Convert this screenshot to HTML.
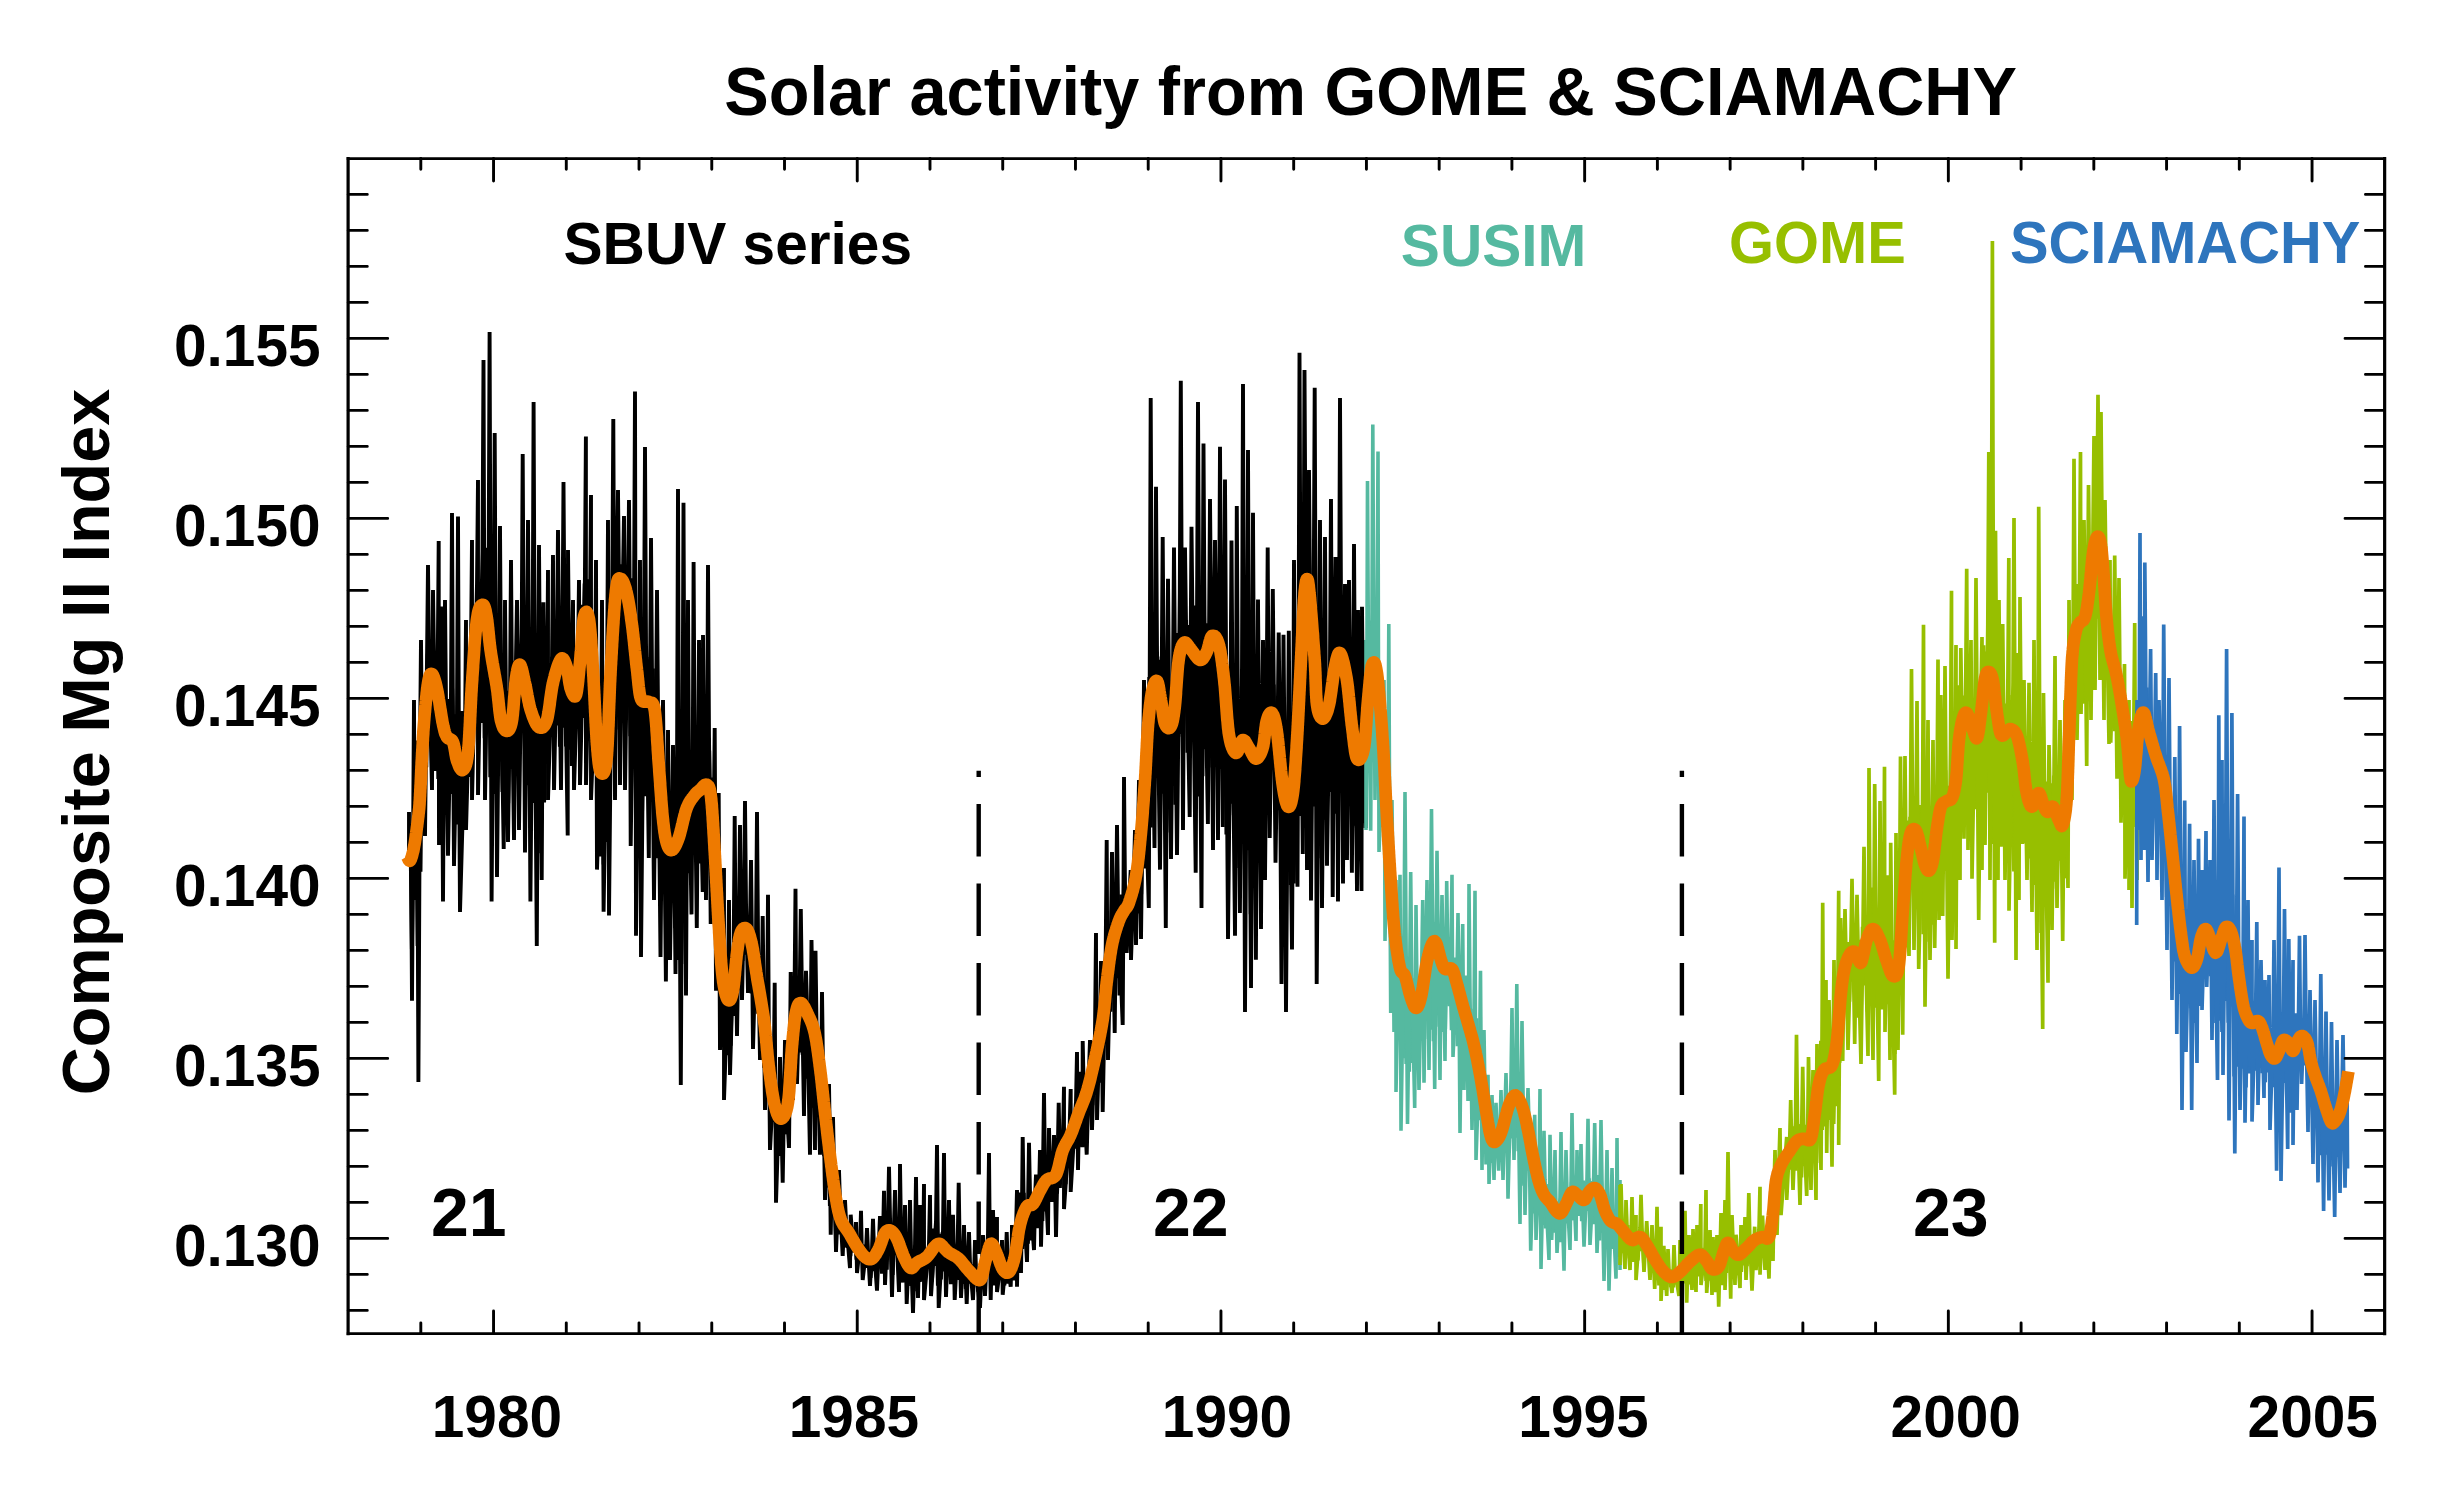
<!DOCTYPE html>
<html lang="en"><head><meta charset="utf-8"><title>Solar activity from GOME &amp; SCIAMACHY</title>
<style>
html,body{margin:0;padding:0;background:#fff;}
body{width:2450px;height:1500px;overflow:hidden;}
svg{display:block;}
text{font-family:"Liberation Sans",sans-serif;font-weight:bold;}
.tk{font-size:58.6px;fill:#000;}
.lb{font-size:58.6px;}
.cy{font-size:68px;fill:#000;}
</style></head><body>
<svg width="2450" height="1500" viewBox="0 0 2450 1500">
<rect x="0" y="0" width="2450" height="1500" fill="#fff"/>
<polyline fill="none" stroke="#000000" stroke-width="3.9" stroke-linejoin="bevel" points="410.5,838.1 411.9,949.3 413.4,827.4 414.9,864.2 416.3,805.9 417.6,946.0 419.1,783.8 420.5,871.7 422.1,720.0 423.5,831.1 424.9,685.3 426.3,767.4 427.7,653.7 429.4,723.6 430.7,659.1 432.0,719.9 433.7,651.8 435.0,723.4 436.6,650.7 438.3,778.9 439.9,677.5 441.4,820.2 442.7,689.6 444.3,786.9 445.9,717.0 447.7,811.0 449.1,699.1 450.9,794.0 452.2,688.5 453.9,789.7 455.6,714.4 457.2,824.4 458.9,715.0 460.6,860.5 461.9,711.1 463.6,801.6 465.1,740.7 466.4,780.7 467.8,710.5 469.1,776.9 470.8,680.7 472.4,743.4 474.0,631.7 475.8,709.4 477.1,604.9 478.5,677.8 480.2,591.4 481.9,722.9 483.4,584.5 484.7,738.2 486.2,547.8 487.5,691.9 488.9,588.5 490.3,777.3 491.8,600.3 493.2,772.0 494.6,625.3 496.0,794.1 497.8,663.5 499.3,761.4 501.0,685.1 502.5,791.9 503.8,686.8 505.1,772.9 506.6,690.8 508.2,803.3 509.6,693.9 511.2,769.0 512.5,693.2 513.7,743.9 515.1,660.7 516.6,771.2 518.2,652.0 519.9,738.7 521.3,643.7 522.5,726.0 523.9,633.0 525.3,768.1 526.7,644.9 528.0,785.2 529.7,652.6 531.4,771.7 532.8,678.3 534.5,803.0 536.2,673.1 537.8,853.2 539.5,676.8 541.0,819.1 542.7,680.8 544.1,802.5 545.8,693.5 547.3,761.1 549.0,688.8 550.7,731.8 552.1,656.8 553.7,727.2 555.1,649.7 556.7,725.5 558.2,643.1 559.9,746.8 561.4,638.0 562.9,727.6 564.4,638.8 566.0,746.5 567.5,633.8 569.0,738.3 570.2,676.8 571.8,766.0 573.4,680.2 574.7,739.5 576.0,684.8 577.5,720.2 579.0,646.0 580.5,714.6 582.0,604.8 583.4,718.1 584.7,583.4 586.0,671.1 587.3,579.2 588.7,721.8 590.1,593.6 591.8,747.6 593.2,659.1 594.6,758.4 595.9,684.6 597.6,828.3 599.3,723.7 600.8,856.6 602.2,726.7 603.6,864.6 605.2,700.8 606.9,841.9 608.4,697.3 609.7,761.2 611.3,635.6 612.5,752.7 614.1,600.1 615.5,729.5 617.1,559.4 618.5,650.0 620.0,564.2 621.6,647.2 623.1,565.1 624.6,690.0 626.0,577.7 627.3,667.5 629.1,591.7 630.4,736.2 631.7,578.3 633.1,743.8 634.5,625.1 636.1,809.7 637.7,618.7 639.0,848.1 640.4,655.2 642.1,811.8 643.8,662.4 645.1,796.2 646.7,657.0 648.1,758.1 649.7,659.3 651.3,772.7 652.9,668.6 654.3,790.8 655.7,693.7 657.5,858.3 658.7,743.2 660.3,898.9 661.8,771.8 663.2,880.1 664.6,816.8 666.2,917.2 667.8,817.3 669.4,883.1 670.9,826.6 672.3,895.7 673.9,831.9 675.2,928.2 676.9,791.1 678.3,960.1 679.9,773.8 681.3,963.9 682.8,778.5 684.6,921.4 686.0,750.8 687.3,873.1 688.8,786.2 690.3,845.6 691.9,752.4 693.6,841.1 694.9,749.8 696.4,850.3 697.7,760.1 699.5,863.5 700.8,755.0 702.4,831.7 703.7,746.9 705.0,844.4 706.2,732.1 707.6,851.1 709.2,750.5 710.8,842.4 712.1,777.5 713.4,875.9 714.9,824.2 716.2,927.4 717.4,869.2 718.8,976.3 720.2,932.4 721.9,1005.2 723.2,952.7 724.4,1032.6 725.9,973.7 727.6,1055.2 729.1,977.7 730.7,1045.6 732.1,969.2 733.7,1016.0 735.2,934.2 736.7,984.6 738.1,932.2 739.6,990.1 741.2,908.8 742.5,961.0 744.2,902.6 745.8,954.6 747.1,920.1 748.5,963.1 750.0,925.6 751.6,993.4 753.2,942.9 755.0,1008.1 756.4,936.0 758.1,1013.8 759.6,963.7 761.0,1027.0 762.4,997.4 764.1,1067.7 765.5,996.2 766.9,1095.6 768.5,1047.0 770.2,1098.7 771.9,1063.8 773.4,1121.9 774.9,1072.6 776.6,1164.5 778.1,1095.8 779.4,1155.9 781.1,1100.6 782.4,1153.9 783.6,1105.4 785.2,1134.3 786.7,1080.8 788.4,1132.1 790.0,1049.6 791.4,1085.8 792.8,1009.3 794.4,1046.2 795.8,985.7 797.1,1056.5 798.4,981.5 799.8,1052.4 801.1,988.2 802.6,1054.8 804.3,997.8 805.8,1078.8 807.4,1000.7 808.6,1056.0 810.3,1005.8 811.8,1107.6 813.5,1018.8 815.0,1085.2 816.4,1033.2 817.9,1103.2 819.4,1045.3 821.1,1108.0 822.4,1078.4 824.1,1156.1 825.7,1099.4 827.0,1187.5 828.6,1136.7 829.9,1206.0 831.5,1154.9 832.9,1207.7 834.5,1173.2 835.9,1234.7 837.5,1200.3 839.2,1234.3 840.7,1213.7 842.0,1235.2 843.3,1218.0 845.0,1247.4 846.4,1223.5 847.7,1248.0 849.1,1228.2 850.4,1256.2 851.8,1231.8 853.5,1251.8 855.0,1237.9 856.5,1259.6 857.9,1239.1 859.2,1262.0 860.5,1242.3 862.1,1261.8 863.8,1244.7 865.2,1267.1 866.4,1252.3 868.0,1267.9 869.3,1250.0 870.6,1277.9 872.2,1252.1 873.9,1271.2 875.5,1248.5 877.0,1273.6 878.6,1243.1 880.3,1263.9 882.0,1231.7 883.7,1269.5 885.4,1220.3 886.8,1269.6 888.1,1215.1 889.5,1251.7 891.1,1226.2 892.6,1275.0 894.4,1228.6 895.8,1255.2 897.2,1223.4 898.6,1260.9 900.3,1238.2 901.8,1282.1 903.1,1244.9 904.7,1272.6 906.3,1246.3 907.7,1280.8 909.3,1246.7 911.1,1285.8 912.4,1252.0 913.8,1291.2 915.4,1245.0 916.8,1284.9 918.1,1251.0 919.8,1282.0 921.3,1254.4 922.7,1281.1 924.0,1249.0 925.6,1273.7 927.3,1249.8 928.9,1268.9 930.6,1235.0 932.0,1281.5 933.6,1228.5 935.0,1265.9 936.5,1225.2 937.9,1285.6 939.4,1233.8 940.9,1279.5 942.6,1232.1 943.9,1271.3 945.6,1234.3 947.2,1267.4 948.5,1237.9 950.2,1275.5 951.6,1248.3 953.2,1274.7 954.8,1245.1 956.5,1279.7 957.9,1246.7 959.3,1280.0 961.0,1249.1 962.6,1283.9 964.1,1256.8 965.8,1288.9 967.3,1262.6 968.7,1283.7 970.2,1262.4 971.7,1282.4 973.3,1264.5 974.9,1284.9 976.6,1268.9 978.1,1291.6 979.4,1270.1 981.1,1285.1 982.7,1262.0 984.4,1280.0 986.0,1246.0 987.6,1268.4 988.8,1241.0 990.2,1266.1 991.7,1235.5 993.1,1264.4 994.3,1244.5 995.7,1277.0 997.2,1244.7 998.7,1272.6 1000.2,1257.6 1001.7,1278.0 1003.1,1260.0 1004.4,1285.3 1006.0,1265.6 1007.3,1283.6 1008.6,1266.8 1010.1,1274.9 1011.6,1260.3 1013.3,1273.7 1014.9,1247.9 1016.5,1271.9 1018.0,1231.2 1019.4,1255.5 1020.9,1213.0 1022.5,1249.0 1023.7,1192.7 1025.0,1245.6 1026.3,1199.8 1027.9,1243.8 1029.2,1196.8 1030.6,1240.4 1032.1,1196.4 1033.6,1225.8 1035.3,1192.9 1036.6,1222.7 1038.0,1188.4 1039.5,1218.0 1040.8,1179.8 1042.4,1221.2 1043.8,1169.1 1045.5,1211.5 1047.1,1170.3 1048.8,1199.8 1050.1,1169.6 1051.7,1198.9 1053.0,1164.1 1054.5,1195.1 1055.8,1160.2 1057.0,1193.6 1058.5,1159.7 1059.9,1187.9 1061.4,1144.3 1062.7,1170.6 1064.2,1130.7 1065.6,1184.1 1067.1,1135.5 1068.6,1156.5 1070.3,1124.5 1071.6,1155.3 1073.1,1113.1 1074.4,1148.8 1075.9,1102.9 1077.5,1145.6 1079.2,1097.1 1080.5,1128.3 1082.0,1086.1 1083.5,1135.6 1085.1,1079.6 1086.8,1116.9 1088.1,1079.6 1089.4,1101.3 1091.0,1065.6 1092.4,1105.4 1094.2,1040.8 1095.5,1081.6 1096.9,1037.6 1098.2,1070.1 1099.9,1026.6 1101.6,1082.8 1103.3,1003.0 1104.7,1040.0 1106.2,967.4 1107.6,1026.7 1109.1,954.8 1110.6,1011.7 1112.1,921.8 1113.6,997.6 1114.9,914.5 1116.4,978.3 1117.9,912.9 1119.5,995.5 1121.2,894.5 1122.8,963.1 1124.1,871.9 1125.6,936.6 1127.2,891.3 1128.8,933.5 1130.2,887.8 1132.0,918.5 1133.5,873.4 1134.9,912.0 1136.6,857.4 1138.3,913.4 1139.6,829.3 1141.2,894.3 1142.7,790.7 1144.5,868.4 1146.2,732.4 1147.7,810.0 1149.3,677.1 1150.9,827.6 1152.6,613.4 1154.3,753.5 1155.6,630.8 1157.3,738.4 1158.6,659.7 1160.2,775.8 1161.6,656.5 1163.0,793.8 1164.6,697.2 1166.4,832.5 1168.0,713.3 1169.4,805.9 1171.1,699.9 1172.5,786.0 1174.0,692.9 1175.3,804.7 1177.1,633.0 1178.4,736.8 1180.1,618.5 1181.6,734.0 1183.1,629.6 1184.6,711.1 1186.1,619.9 1187.4,752.8 1189.1,625.1 1190.6,741.8 1192.3,619.2 1193.6,714.4 1195.0,605.4 1196.3,795.6 1198.0,627.4 1199.4,796.6 1201.1,589.6 1202.5,776.2 1203.9,608.1 1205.4,749.2 1206.9,623.3 1208.6,767.6 1210.1,623.9 1211.6,749.9 1213.2,621.9 1214.6,754.0 1216.4,609.1 1217.7,737.1 1219.0,618.8 1220.5,769.1 1221.9,616.9 1223.4,778.1 1225.1,661.8 1226.4,834.5 1227.7,666.7 1229.2,815.2 1230.9,717.4 1232.6,803.8 1234.3,721.5 1235.7,868.0 1237.3,686.3 1238.7,824.2 1240.3,712.7 1241.9,810.0 1243.2,691.1 1244.9,862.9 1246.2,653.7 1247.7,850.3 1249.3,679.3 1250.7,914.3 1252.2,679.8 1253.8,851.5 1255.4,713.6 1257.1,859.1 1258.8,723.0 1260.3,846.7 1262.0,736.5 1263.6,816.5 1265.4,706.3 1266.6,786.5 1268.0,699.8 1269.4,771.5 1270.8,693.0 1272.3,767.3 1273.6,684.6 1275.1,766.4 1276.5,704.0 1278.2,810.3 1279.8,730.4 1281.3,863.7 1282.8,747.6 1284.4,907.5 1286.1,780.9 1287.8,863.1 1289.2,760.5 1290.6,885.0 1292.1,753.5 1293.8,883.4 1295.2,729.8 1296.5,835.5 1297.9,648.7 1299.5,816.1 1301.1,607.3 1302.7,703.8 1304.1,546.7 1305.6,774.1 1307.2,560.5 1308.7,685.1 1310.1,580.1 1311.4,800.9 1312.8,598.5 1314.3,806.5 1315.9,614.5 1317.5,858.2 1319.0,672.4 1320.7,821.2 1322.1,694.1 1323.6,819.7 1325.0,667.6 1326.8,795.7 1328.2,674.5 1329.7,792.1 1331.1,647.6 1332.8,770.1 1334.5,657.7 1336.0,813.7 1337.3,621.0 1338.9,735.4 1340.5,608.0 1341.9,791.3 1343.6,651.3 1344.8,809.9 1346.3,650.9 1347.9,784.7 1349.5,667.0 1350.8,791.7 1352.4,699.9 1353.7,825.8 1355.3,703.7 1356.7,827.6 1358.2,725.8 1359.5,839.2 1360.8,713.2 1362.1,823.0 1363.4,728.7"/>
<polyline fill="none" stroke="#000000" stroke-width="3.9" stroke-linejoin="miter" stroke-miterlimit="3" points="409.0,812.0 409.0,860.0 409.9,853.2 410.5,824.3 411.1,853.2 412.0,1000.8 413.2,820.3 414.0,700.0 414.4,820.3 415.0,900.0 416.0,814.4 416.7,740.6 417.4,814.4 418.4,1081.9 420.0,749.7 421.0,640.0 422.0,749.7 425.0,836.0 427.0,660.0 428.0,565.0 429.0,660.0 432.0,790.0 432.6,657.2 433.0,590.0 434.0,657.2 435.9,770.9 437.7,667.3 438.7,541.0 438.8,667.3 439.0,845.0 440.2,690.4 441.0,606.6 441.8,690.4 443.0,901.6 444.2,704.7 445.0,600.0 446.0,704.7 448.0,855.7 451.0,692.6 452.0,513.0 452.8,692.6 454.0,866.0 457.0,714.0 458.0,516.5 458.8,714.0 460.0,912.0 465.0,733.9 466.0,620.0 466.0,733.9 466.0,830.0 471.0,648.7 472.0,540.0 472.0,648.7 472.0,800.0 477.0,583.8 478.0,480.0 478.0,583.8 478.0,795.0 482.5,551.0 483.5,360.0 484.1,551.0 485.0,800.0 488.6,574.5 489.6,332.0 490.4,574.5 491.6,901.6 493.7,630.1 494.7,433.0 495.6,630.1 497.0,877.0 499.0,679.4 500.0,526.0 501.0,679.4 503.7,849.0 504.5,704.5 505.0,600.0 506.0,704.5 508.0,842.0 510.0,695.7 511.0,560.0 512.0,695.7 514.0,840.0 516.0,658.1 517.0,600.0 517.8,658.1 519.0,830.0 521.7,632.2 522.7,454.0 523.6,632.2 525.0,852.5 527.0,656.9 528.0,520.0 529.0,656.9 530.4,901.6 532.6,656.2 533.6,402.0 534.6,656.2 536.8,946.0 538.1,683.8 539.0,545.0 540.0,683.8 541.7,880.0 542.7,695.7 543.4,602.3 544.4,695.7 545.7,763.6 547.1,690.0 548.0,570.0 548.0,690.0 548.0,800.0 552.0,660.4 553.0,555.0 553.4,660.4 554.0,790.0 557.0,635.9 558.0,530.0 559.0,635.9 561.0,790.0 562.5,626.8 563.5,482.0 564.5,626.8 567.7,835.5 567.9,644.5 568.0,550.0 569.0,644.5 570.5,749.7 572.0,673.9 573.0,600.0 573.4,673.9 574.0,790.0 578.0,655.3 579.0,580.0 579.4,655.3 580.0,785.0 584.9,579.5 585.9,436.5 585.9,579.5 586.0,785.0 590.0,611.3 591.0,495.0 591.0,611.3 591.0,800.0 595.0,695.9 596.0,560.0 596.4,695.9 597.0,869.6 601.0,741.7 602.0,600.0 602.6,741.7 603.6,911.8 607.0,690.3 608.0,520.0 608.4,690.3 609.0,915.5 612.3,580.5 613.3,419.0 614.0,580.5 615.0,800.0 617.0,564.5 618.0,490.0 618.8,564.5 620.0,785.0 623.0,574.3 624.0,516.0 624.4,574.3 625.0,790.0 628.0,587.4 629.0,500.0 629.7,587.4 630.7,846.0 634.0,608.1 635.0,391.5 635.4,608.1 636.0,935.7 639.0,670.0 640.0,560.0 640.4,670.0 641.0,957.0 644.0,643.8 645.0,447.0 646.0,643.8 648.8,857.9 650.1,675.7 651.0,538.0 652.0,675.7 654.0,900.0 656.0,709.7 657.0,590.0 658.0,709.7 660.5,957.0 662.0,795.4 663.0,700.0 664.0,795.4 665.9,981.6 667.2,824.6 668.0,730.0 668.8,824.6 670.0,960.0 672.0,825.7 673.0,745.0 674.0,825.7 675.5,974.0 677.0,779.5 678.0,489.0 679.0,779.5 680.8,1085.0 682.5,752.9 683.5,502.7 684.5,752.9 686.0,995.5 687.2,771.0 688.0,600.0 689.0,771.0 691.5,914.4 692.8,751.3 693.6,562.0 694.6,751.3 696.8,928.0 698.1,764.2 699.0,640.0 700.0,764.2 702.7,892.0 702.9,759.9 703.0,635.0 704.0,759.9 706.0,900.0 707.2,735.3 708.0,565.0 709.0,735.3 710.7,924.0 713.7,824.2 714.7,728.0 715.2,824.2 716.0,990.7 717.7,900.7 718.7,793.0 719.2,900.7 720.0,1050.0 723.0,956.8 724.0,868.0 724.0,956.8 724.0,1100.0 728.0,980.8 729.0,900.0 729.4,980.8 730.0,1075.0 733.7,944.3 734.7,816.0 735.6,944.3 737.0,1036.0 739.0,911.6 740.0,825.0 740.8,911.6 742.0,1000.0 744.0,902.7 745.0,801.0 746.0,902.7 748.0,993.0 750.0,928.2 751.0,860.0 751.8,928.2 753.0,1049.0 756.0,937.5 757.0,812.0 758.0,937.5 760.0,1060.0 761.7,995.0 762.7,916.0 763.6,995.0 765.0,1110.0 767.0,1028.8 768.0,894.7 768.8,1028.8 770.0,1150.0 773.7,1077.9 774.7,982.7 775.2,1077.9 776.0,1202.7 779.0,1105.4 780.0,1057.0 781.0,1105.4 782.7,1182.7 784.1,1096.8 785.0,1040.0 786.0,1096.8 789.0,1148.0 790.0,1049.5 790.7,972.0 791.6,1049.5 793.0,1100.0 794.5,995.0 795.5,888.8 796.1,995.0 797.0,1084.0 799.8,983.9 800.8,909.0 801.8,983.9 804.0,1116.0 805.2,1004.1 806.0,970.7 807.0,1004.1 810.0,1154.7 810.9,1006.7 811.5,940.0 812.5,1006.7 815.0,1150.0 815.3,1021.7 815.5,950.7 816.5,1021.7 820.0,1154.7 821.2,1067.6 822.0,992.0 823.0,1067.6 825.0,1200.0 828.0,1131.8 829.0,1084.0 829.7,1131.8 830.7,1234.7 832.1,1165.4 833.0,1117.0 834.0,1165.4 836.0,1252.0 838.0,1202.9 839.0,1170.0 840.0,1202.9 842.7,1256.0 844.1,1220.4 845.0,1200.0 846.0,1220.4 850.0,1268.0 850.7,1214.7 853.4,1252.2 855.0,1241.0 856.0,1222.0 856.4,1241.0 857.0,1273.0 860.0,1244.8 861.0,1210.7 861.7,1244.8 862.7,1280.0 866.0,1250.6 867.0,1228.0 868.0,1250.6 870.0,1286.0 872.0,1248.6 873.0,1218.7 874.0,1248.6 877.0,1290.7 879.0,1240.4 880.0,1216.0 880.8,1240.4 882.0,1273.8 883.2,1227.7 884.0,1190.7 884.4,1227.7 885.0,1285.0 888.0,1217.2 889.0,1166.7 890.0,1217.2 892.0,1297.0 894.0,1225.3 895.0,1190.0 896.0,1225.3 899.0,1292.0 899.6,1232.0 900.0,1164.0 901.0,1232.0 902.5,1282.5 904.0,1246.0 905.0,1205.0 905.7,1246.0 906.7,1304.0 909.0,1251.4 910.0,1200.0 911.0,1251.4 913.0,1313.0 915.0,1245.5 916.0,1177.0 916.8,1245.5 918.0,1298.0 919.2,1250.1 920.0,1205.0 920.8,1250.1 922.0,1274.4 923.2,1246.0 924.0,1184.0 924.0,1246.0 924.0,1300.0 929.0,1243.3 930.0,1195.0 930.4,1243.3 931.0,1296.0 936.0,1221.7 937.0,1145.0 937.7,1221.7 938.7,1308.0 943.0,1231.0 944.0,1153.0 944.8,1231.0 946.0,1297.0 948.0,1241.2 949.0,1200.0 949.7,1241.2 950.9,1284.3 952.1,1247.8 953.0,1214.7 953.7,1247.8 954.7,1300.0 957.7,1241.5 958.7,1182.7 959.6,1241.5 961.0,1298.0 963.0,1256.6 964.0,1225.0 965.0,1256.6 966.7,1304.0 968.1,1263.6 969.0,1232.0 970.0,1263.6 973.0,1300.0 974.2,1269.5 975.0,1240.0 976.0,1269.5 980.0,1308.0 982.0,1262.1 983.0,1235.0 983.8,1262.1 985.0,1296.0 988.0,1233.6 989.0,1153.0 989.7,1233.6 990.7,1300.0 992.1,1240.8 993.0,1210.0 993.8,1240.8 995.0,1285.4 996.2,1246.9 997.0,1217.0 997.0,1246.9 997.0,1292.0 1001.0,1261.0 1002.0,1240.0 1002.3,1261.0 1002.7,1294.7 1005.7,1262.8 1006.7,1232.0 1007.7,1262.8 1010.7,1286.7 1011.5,1257.0 1012.0,1225.0 1013.0,1257.0 1014.5,1280.4 1016.0,1230.7 1017.0,1190.0 1017.0,1230.7 1017.0,1286.7 1018.2,1224.3 1019.0,1192.6 1019.8,1224.3 1021.0,1273.0 1022.0,1204.6 1022.7,1137.0 1023.7,1204.6 1027.0,1262.0 1028.2,1194.3 1029.0,1142.7 1030.0,1194.3 1034.0,1250.0 1035.2,1193.7 1036.0,1174.7 1036.8,1193.7 1038.0,1228.1 1039.2,1184.0 1040.0,1150.0 1040.4,1184.0 1041.0,1246.7 1043.0,1168.4 1044.0,1093.0 1045.0,1168.4 1048.0,1235.0 1048.6,1169.1 1049.0,1128.0 1050.0,1169.1 1051.5,1201.9 1053.0,1167.4 1054.0,1135.0 1054.8,1167.4 1056.0,1237.0 1057.7,1154.4 1058.7,1102.7 1059.7,1154.4 1061.3,1177.9 1063.0,1136.5 1064.0,1086.7 1064.0,1136.5 1064.0,1209.0 1069.7,1124.1 1070.7,1089.0 1070.7,1124.1 1070.7,1192.0 1076.0,1102.0 1077.0,1052.0 1077.4,1102.0 1078.0,1170.0 1079.3,1101.2 1080.2,1071.9 1081.1,1101.2 1082.4,1147.2 1082.6,1089.3 1082.7,1041.0 1083.7,1089.3 1086.7,1154.7 1089.0,1070.8 1090.0,1040.0 1090.8,1070.8 1092.0,1130.0 1095.0,1032.9 1096.0,933.0 1096.2,1032.9 1096.5,1077.4 1096.8,1043.0 1097.0,1014.7 1097.0,1043.0 1097.0,1120.0 1100.0,1017.6 1101.0,961.0 1101.7,1017.6 1102.7,1112.0 1105.7,949.5 1106.7,840.0 1107.2,949.5 1108.0,1060.0 1111.0,924.9 1112.0,852.0 1113.0,924.9 1114.7,1033.0 1116.1,903.1 1117.0,825.0 1118.0,903.1 1122.7,1025.0 1123.5,889.3 1124.0,777.0 1125.0,889.3 1126.7,953.0 1129.7,890.7 1130.7,870.0 1130.8,890.7 1131.0,960.0 1134.0,869.9 1135.0,830.0 1135.4,869.9 1136.0,945.0 1138.0,834.9 1139.0,780.0 1139.8,834.9 1141.0,939.0 1143.0,772.2 1144.0,680.0 1145.0,772.2 1148.8,908.0 1149.9,630.0 1150.7,398.0 1151.7,630.0 1154.5,848.0 1155.4,650.6 1156.0,486.7 1157.0,650.6 1160.0,869.6 1161.7,674.9 1162.7,537.0 1163.7,674.9 1165.8,928.0 1167.1,693.3 1168.0,578.7 1169.0,693.3 1171.0,859.0 1173.0,673.3 1174.0,547.5 1175.0,673.3 1177.0,855.0 1179.8,593.5 1180.8,380.8 1181.7,593.5 1183.0,830.0 1184.2,622.8 1185.0,547.5 1186.0,622.8 1189.7,817.0 1190.8,622.4 1191.5,526.7 1192.5,622.4 1195.7,872.8 1197.1,598.0 1198.0,402.0 1199.0,598.0 1201.5,908.0 1202.7,615.9 1203.5,443.5 1204.5,615.9 1207.9,824.0 1209.2,611.3 1210.0,499.0 1211.0,611.3 1213.0,850.0 1214.2,616.5 1215.0,540.0 1216.0,616.5 1218.0,840.0 1219.2,605.2 1220.0,446.7 1221.0,605.2 1222.8,827.0 1224.1,649.2 1225.0,479.5 1226.0,649.2 1228.0,939.0 1230.5,696.4 1231.5,540.5 1232.5,696.4 1235.0,935.7 1236.1,695.2 1236.8,506.0 1237.8,695.2 1239.9,913.0 1242.0,667.0 1243.0,384.0 1243.8,667.0 1245.0,1012.0 1247.0,684.4 1248.0,450.0 1249.0,684.4 1251.0,988.0 1252.2,708.1 1253.0,512.8 1254.0,708.1 1255.9,959.8 1257.2,723.3 1258.0,599.5 1259.0,723.3 1261.0,929.0 1262.2,723.9 1263.0,640.0 1263.8,723.9 1265.0,880.0 1266.7,690.9 1267.7,547.5 1268.5,690.9 1269.7,838.0 1271.8,689.2 1272.8,589.0 1273.8,689.2 1275.5,862.8 1277.7,720.2 1278.7,632.5 1279.7,720.2 1281.5,984.0 1282.7,752.9 1283.5,634.7 1284.5,752.9 1286.0,1012.0 1287.8,766.6 1288.8,630.7 1289.8,766.6 1292.0,949.6 1293.2,737.8 1294.0,560.0 1295.0,737.8 1297.5,886.7 1298.7,616.2 1299.5,352.8 1300.5,616.2 1302.8,854.0 1303.8,549.7 1304.5,370.0 1305.5,549.7 1307.0,870.0 1308.2,567.9 1309.0,470.0 1309.8,567.9 1311.0,900.5 1313.7,598.2 1314.7,387.7 1315.5,598.2 1316.7,984.0 1319.0,680.2 1320.0,520.0 1320.8,680.2 1322.0,908.0 1324.0,674.8 1325.0,537.0 1325.8,674.8 1327.0,865.8 1330.0,660.7 1331.0,499.0 1331.7,660.7 1332.7,897.0 1334.5,643.1 1335.5,557.0 1336.5,643.1 1338.0,901.6 1339.2,602.4 1340.0,398.0 1341.0,602.4 1343.0,883.5 1344.2,656.4 1345.0,584.0 1345.8,656.4 1347.0,860.0 1348.2,673.7 1349.0,580.0 1350.0,673.7 1351.9,872.8 1353.2,700.4 1354.0,544.0 1355.0,700.4 1357.0,891.0 1357.6,726.4 1358.0,610.0 1359.0,726.4 1361.5,891.0 1361.8,717.3 1362.0,606.7 1363.0,717.3 1365.7,828.0 1366.0,640.0"/>
<polyline fill="none" stroke="#55B9A0" stroke-width="3.6" stroke-linejoin="bevel" points="1367.5,662.8 1369.0,749.6 1370.8,620.6 1372.4,739.6 1374.1,611.0 1375.6,717.7 1377.1,607.3 1378.6,761.9 1380.2,690.8 1381.6,827.0 1383.1,730.0 1384.8,859.8 1386.3,790.6 1387.8,904.1 1389.2,796.1 1390.8,949.9 1392.5,887.7 1394.2,1006.2 1395.6,927.3 1397.4,1033.3 1398.6,936.9 1400.1,1033.5 1401.6,955.3 1403.2,1058.2 1404.7,942.4 1406.1,1063.9 1407.7,971.9 1409.3,1071.6 1411.0,966.7 1412.8,1062.9 1414.4,978.2 1415.8,1063.7 1417.4,985.0 1418.8,1062.3 1420.4,973.9 1421.8,1026.7 1423.1,970.1 1424.5,1038.9 1426.0,942.4 1427.3,1012.8 1429.0,934.6 1430.5,1029.7 1432.1,928.6 1433.4,1041.2 1434.8,922.0 1436.1,1015.2 1437.6,937.4 1439.2,1026.7 1440.7,939.2 1442.5,1032.0 1443.7,951.2 1445.3,1029.2 1446.8,953.2 1448.2,1004.3 1449.9,961.3 1451.5,1030.2 1452.8,960.4 1454.2,1034.6 1455.8,957.6 1457.4,1046.1 1458.9,975.6 1460.5,1051.4 1462.2,993.5 1464.0,1048.9 1465.2,1002.9 1466.8,1071.3 1468.1,1012.2 1469.5,1079.9 1470.9,1008.9 1472.2,1066.8 1473.6,1019.4 1475.1,1110.2 1476.7,1018.3 1478.2,1120.3 1479.8,1057.3 1481.6,1113.8 1483.3,1080.0 1484.7,1134.5 1486.2,1105.0 1487.5,1144.0 1489.2,1116.4 1490.6,1163.0 1492.0,1132.9 1493.5,1157.8 1495.2,1136.3 1496.8,1151.0 1498.6,1126.6 1500.3,1156.5 1501.6,1118.5 1503.3,1157.4 1504.9,1109.2 1506.4,1146.2 1507.8,1097.5 1509.2,1152.7 1510.6,1094.8 1512.2,1138.5 1513.8,1073.7 1515.5,1137.8 1516.9,1063.4 1518.2,1151.2 1519.8,1089.7 1521.1,1185.8 1522.9,1099.3 1524.5,1183.4 1526.0,1106.9 1527.4,1170.7 1528.7,1125.5 1530.3,1187.2 1531.7,1138.3 1533.3,1213.5 1534.9,1159.1 1536.3,1195.6 1538.0,1169.7 1539.7,1209.5 1541.1,1168.9 1542.7,1224.9 1543.9,1183.8 1545.5,1228.4 1547.2,1184.2 1548.7,1219.1 1550.0,1192.4 1551.7,1239.9 1553.2,1198.0 1554.5,1232.6 1556.1,1201.7 1557.7,1231.8 1559.1,1204.0 1560.6,1242.1 1562.4,1198.8 1563.8,1248.1 1565.2,1195.9 1566.8,1223.3 1568.2,1193.4 1569.9,1225.5 1571.6,1182.1 1573.2,1220.3 1574.7,1179.8 1576.0,1220.0 1577.6,1190.2 1579.0,1216.0 1580.4,1182.4 1581.7,1221.1 1583.2,1180.5 1584.7,1215.0 1586.3,1183.1 1587.5,1210.9 1589.0,1178.3 1590.7,1209.5 1592.0,1181.0 1593.6,1224.3 1595.0,1180.0 1596.7,1210.1 1598.3,1175.0 1599.7,1240.5 1601.3,1181.0 1602.6,1233.0 1604.1,1190.4 1605.8,1234.6 1607.3,1197.7 1608.9,1265.5 1610.6,1215.8 1612.3,1248.9 1613.8,1216.1 1615.3,1242.3 1616.6,1216.1 1618.0,1256.8"/>
<polyline fill="none" stroke="#55B9A0" stroke-width="3.6" stroke-linejoin="miter" stroke-miterlimit="3" points="1366.0,640.0 1366.0,830.0 1366.9,663.8 1367.5,481.0 1368.5,663.8 1370.7,830.7 1372.0,610.4 1372.8,424.5 1373.7,610.4 1375.0,800.0 1377.0,643.1 1378.0,451.5 1378.4,643.1 1379.0,852.0 1383.0,743.9 1384.0,680.0 1384.4,743.9 1385.0,941.0 1387.8,806.6 1388.8,624.0 1389.6,806.6 1390.7,1013.0 1391.5,877.0 1392.0,800.0 1392.8,877.0 1394.0,1031.9 1395.2,927.1 1396.0,880.0 1396.0,927.1 1396.0,1092.0 1399.0,948.0 1400.0,874.7 1400.4,948.0 1401.0,1130.7 1404.0,933.0 1405.0,792.0 1406.0,933.0 1407.5,1124.0 1409.7,969.9 1410.7,872.0 1411.7,969.9 1414.7,1108.0 1415.5,991.1 1416.0,905.0 1417.0,991.1 1419.0,1090.0 1421.7,966.8 1422.7,900.0 1423.2,966.8 1424.0,1082.7 1426.0,944.7 1427.0,880.0 1427.8,944.7 1429.0,1070.0 1430.5,920.5 1431.5,809.0 1432.5,920.5 1434.7,1089.0 1436.1,929.4 1437.0,850.7 1438.0,929.4 1440.0,1080.0 1441.2,946.9 1442.0,895.0 1443.0,946.9 1445.0,1061.0 1446.0,950.8 1446.7,881.0 1447.7,950.8 1449.3,1006.1 1451.0,946.8 1452.0,874.7 1452.4,946.8 1453.0,1057.0 1457.0,971.1 1458.0,913.0 1458.8,971.1 1460.0,1133.0 1461.7,985.8 1462.7,924.0 1463.2,985.8 1464.0,1090.0 1465.2,1008.0 1466.0,975.5 1466.8,1008.0 1468.0,1101.0 1468.6,995.9 1469.0,884.0 1470.0,995.9 1472.0,1130.0 1474.0,1016.3 1475.0,890.7 1475.4,1016.3 1476.0,1160.0 1479.5,1058.2 1480.5,970.7 1481.1,1058.2 1482.0,1170.0 1483.2,1082.1 1484.0,1030.0 1484.8,1082.1 1486.0,1164.4 1487.2,1112.9 1488.0,1074.7 1488.4,1112.9 1489.0,1184.0 1491.0,1128.4 1492.0,1095.0 1492.8,1128.4 1494.0,1180.0 1495.2,1131.3 1496.0,1102.7 1497.0,1131.3 1498.7,1170.7 1500.1,1123.9 1501.0,1090.0 1501.8,1123.9 1503.0,1180.0 1505.0,1107.9 1506.0,1073.0 1506.8,1107.9 1508.0,1198.7 1511.0,1078.6 1512.0,1008.0 1512.8,1078.6 1514.0,1160.0 1515.8,1072.5 1516.8,984.0 1517.8,1072.5 1520.0,1224.0 1521.2,1091.6 1522.0,1021.0 1523.0,1091.6 1525.0,1215.0 1527.0,1123.1 1528.0,1088.0 1529.0,1123.1 1530.7,1250.7 1533.7,1153.6 1534.7,1114.7 1535.2,1153.6 1536.0,1240.0 1539.0,1168.9 1540.0,1089.0 1540.4,1168.9 1541.0,1269.0 1543.0,1179.7 1544.0,1130.7 1545.0,1179.7 1549.0,1260.0 1549.6,1188.4 1550.0,1134.7 1551.0,1188.4 1552.5,1227.7 1554.0,1197.3 1555.0,1150.0 1555.8,1197.3 1557.0,1253.0 1560.0,1197.4 1561.0,1132.0 1562.0,1197.4 1564.0,1270.7 1565.2,1192.5 1566.0,1150.0 1567.0,1192.5 1570.0,1250.0 1571.2,1173.6 1572.0,1113.0 1573.0,1173.6 1576.0,1241.0 1576.6,1186.4 1577.0,1150.0 1577.8,1186.4 1579.0,1215.2 1580.2,1187.5 1581.0,1144.0 1582.0,1187.5 1584.0,1246.7 1587.0,1178.1 1588.0,1118.7 1588.8,1178.1 1590.0,1245.0 1593.7,1176.1 1594.7,1123.0 1595.6,1176.1 1597.0,1253.0 1600.0,1181.7 1601.0,1120.0 1602.0,1181.7 1604.0,1281.0 1606.0,1201.2 1607.0,1150.0 1607.8,1201.2 1609.0,1290.7 1611.0,1211.2 1612.0,1168.0 1613.0,1211.2 1616.0,1278.7 1616.6,1205.6 1617.0,1138.0 1617.6,1205.6 1618.5,1256.3 1619.4,1217.8 1620.0,1180.0 1620.0,1217.8 1620.0,1270.0"/>
<polyline fill="none" stroke="#97BF00" stroke-width="3.7" stroke-linejoin="bevel" points="1621.5,1220.9 1623.0,1253.1 1624.6,1226.9 1626.2,1253.4 1627.8,1225.2 1629.4,1258.5 1631.0,1233.3 1632.4,1250.2 1633.9,1234.3 1635.3,1253.2 1636.5,1232.0 1637.9,1260.4 1639.6,1231.8 1641.2,1251.2 1642.5,1231.0 1643.8,1262.9 1645.1,1235.1 1646.9,1255.3 1648.3,1242.8 1649.7,1262.0 1651.1,1247.4 1652.5,1271.2 1654.0,1249.6 1655.3,1280.0 1656.8,1252.9 1658.1,1276.9 1659.7,1258.0 1661.4,1284.1 1662.8,1260.3 1664.5,1289.9 1666.1,1267.1 1667.8,1281.9 1669.1,1270.2 1670.7,1287.0 1672.0,1269.4 1673.4,1287.3 1674.7,1270.3 1676.1,1284.3 1677.8,1267.4 1679.4,1280.2 1681.0,1266.0 1682.3,1283.3 1684.0,1256.2 1685.6,1279.4 1687.3,1253.4 1688.8,1284.5 1690.4,1254.0 1691.8,1276.3 1693.2,1252.4 1694.7,1278.5 1696.4,1248.4 1698.0,1275.3 1699.3,1250.2 1700.7,1271.2 1702.1,1247.8 1703.5,1274.6 1704.8,1249.9 1706.1,1281.0 1707.5,1248.0 1708.8,1280.6 1710.4,1260.9 1711.9,1282.8 1713.3,1262.7 1714.6,1289.3 1715.9,1262.7 1717.5,1285.4 1718.8,1261.3 1720.5,1281.7 1722.0,1248.5 1723.7,1265.5 1725.2,1240.6 1726.6,1272.9 1728.3,1223.2 1729.6,1264.3 1731.2,1237.3 1732.7,1270.0 1734.3,1246.6 1735.6,1265.1 1737.0,1248.5 1738.4,1275.1 1739.7,1248.8 1741.3,1271.8 1742.7,1246.2 1744.1,1264.8 1745.5,1238.5 1747.0,1266.2 1748.4,1232.3 1749.7,1259.5 1751.1,1236.6 1752.6,1262.7 1754.0,1235.6 1755.4,1256.1 1757.1,1233.8 1758.4,1253.2 1759.7,1225.2 1761.0,1250.1 1762.4,1229.4 1763.7,1255.3 1765.2,1232.0 1766.6,1250.3 1767.9,1232.0 1769.6,1246.5 1770.9,1220.3 1772.5,1235.2 1773.9,1194.1 1775.2,1219.7 1776.7,1173.9 1778.0,1200.3 1779.3,1159.4 1780.7,1199.8 1782.1,1154.0 1783.5,1188.6 1785.0,1152.6 1786.3,1174.3 1787.9,1148.7 1789.6,1169.7 1791.2,1143.6 1792.9,1167.7 1794.2,1126.3 1795.8,1170.8 1797.1,1126.8 1798.6,1160.0 1800.2,1124.2 1801.5,1177.5 1803.0,1126.5 1804.5,1166.2 1806.0,1124.8 1807.7,1158.0 1809.2,1121.7 1810.7,1162.6 1812.0,1123.3 1813.6,1146.6 1815.2,1098.7 1816.5,1162.9 1818.0,1076.2 1819.4,1114.4 1820.9,1040.9 1822.2,1130.0 1823.5,1048.8 1824.7,1101.9 1826.2,1050.2 1827.4,1102.6 1828.8,1059.8 1830.3,1120.0 1832.0,1040.4 1833.7,1124.0 1835.3,1038.7 1836.9,1093.5 1838.2,1007.4 1839.7,1062.9 1841.4,969.2 1843.0,1027.8 1844.7,958.0 1846.1,992.5 1847.8,942.0 1849.5,1001.9 1850.8,940.2 1852.3,981.7 1853.9,944.2 1855.5,1012.8 1856.9,944.7 1858.2,1017.8 1859.6,939.9 1860.9,1025.7 1862.6,926.8 1864.1,985.4 1865.7,919.1 1867.4,1011.7 1868.8,894.1 1870.3,1000.8 1871.6,887.6 1873.2,974.2 1874.9,905.4 1876.2,1007.7 1877.7,907.8 1879.3,980.4 1881.0,929.4 1882.6,999.4 1884.0,927.9 1885.3,986.2 1887.0,927.8 1888.7,1004.2 1890.2,940.7 1891.9,1020.5 1893.5,940.2 1894.8,1053.9 1896.1,948.1 1897.4,1031.6 1898.6,932.4 1899.9,982.9 1901.5,913.2 1902.8,963.6 1904.2,878.4 1905.8,947.4 1907.3,820.5 1908.6,887.9 1910.1,816.9 1911.8,872.7 1913.3,816.8 1914.7,907.2 1916.3,818.7 1917.8,903.6 1919.1,805.0 1920.4,913.1 1921.8,821.6 1923.2,934.3 1924.5,818.5 1925.8,941.8 1927.3,840.1 1928.5,924.5 1929.9,836.6 1931.4,924.6 1932.7,843.5 1934.5,886.6 1935.9,813.3 1937.6,866.4 1939.4,770.9 1940.9,860.4 1942.4,786.3 1943.9,851.3 1945.5,770.2 1946.8,871.1 1948.4,785.8 1950.0,863.8 1951.5,740.4 1953.2,854.8 1954.8,771.9 1956.5,870.7 1957.9,745.2 1959.5,808.7 1960.9,722.1 1962.5,760.6 1964.0,695.6 1965.4,756.4 1967.1,695.1 1968.7,793.0 1970.3,712.6 1971.6,816.2 1973.2,717.5 1974.7,809.3 1976.3,698.8 1977.9,793.8 1979.5,707.3 1980.8,794.8 1982.4,691.5 1984.0,791.6 1985.3,651.4 1986.8,792.8 1988.5,628.7 1990.2,738.4 1991.8,599.4 1993.2,844.1 1994.8,653.6 1996.3,812.4 1997.6,697.4 1999.2,800.2 2000.7,720.1 2002.2,791.9 2003.6,708.5 2004.8,809.0 2006.2,703.5 2007.8,806.7 2009.2,700.0 2010.9,842.3 2012.2,694.9 2013.9,871.6 2015.3,713.3 2016.7,835.6 2018.4,728.2 2019.8,842.7 2021.2,742.7 2022.9,789.3 2024.4,762.4 2026.1,836.1 2027.8,776.2 2029.2,858.4 2030.9,790.7 2032.5,852.4 2034.2,769.1 2035.4,884.9 2036.8,743.6 2038.4,900.0 2039.7,754.3 2041.1,933.1 2042.4,782.4 2044.1,876.3 2045.5,781.5 2046.8,883.1 2048.3,800.7 2049.7,903.8 2051.0,783.2 2052.4,888.7 2053.9,775.4 2055.5,881.7 2057.1,803.5 2058.3,860.7 2059.7,795.9 2061.2,856.3 2062.9,807.0 2064.4,878.4 2065.7,776.4 2067.3,824.3 2068.9,701.9 2070.3,761.6 2071.6,655.6 2073.3,718.1 2074.7,604.1 2076.5,704.3 2077.9,584.0 2079.2,692.5 2080.5,597.4 2081.9,653.0 2083.4,609.4 2084.8,703.6 2086.1,588.5 2087.7,662.7 2089.3,559.6 2090.8,665.2 2092.4,547.8 2093.7,619.1 2095.3,528.9 2096.7,618.7 2098.3,513.3 2099.8,585.7 2101.5,513.2 2102.9,644.8 2104.5,579.0 2106.2,661.3 2107.8,608.0 2109.1,689.0 2110.4,642.7 2111.9,693.5 2113.3,647.0 2114.6,731.2 2115.9,653.5 2117.3,727.3 2118.8,673.4 2120.5,735.6 2122.2,701.1 2123.8,767.9 2125.3,717.3 2126.9,789.2 2128.6,748.0 2130.0,851.8 2131.5,760.8 2133.0,826.9 2134.3,746.2"/>
<polyline fill="none" stroke="#97BF00" stroke-width="3.7" stroke-linejoin="miter" stroke-miterlimit="3" points="1620.0,1185.0 1620.0,1265.0 1620.6,1219.3 1621.0,1184.0 1622.0,1219.3 1625.0,1269.0 1625.6,1226.6 1626.0,1200.0 1627.0,1226.6 1630.0,1270.0 1631.2,1231.7 1632.0,1197.0 1632.8,1231.7 1634.0,1261.9 1635.2,1233.1 1636.0,1215.0 1636.0,1233.1 1636.0,1280.0 1640.0,1228.0 1641.0,1194.7 1642.0,1228.0 1644.0,1272.0 1645.7,1240.1 1646.7,1221.0 1647.7,1240.1 1650.0,1280.0 1651.2,1247.9 1652.0,1225.0 1653.0,1247.9 1654.7,1289.0 1656.1,1252.9 1657.0,1206.7 1657.8,1252.9 1659.0,1285.5 1660.2,1261.1 1661.0,1226.7 1661.0,1261.1 1661.0,1301.0 1662.8,1265.6 1663.8,1245.9 1664.8,1265.6 1666.7,1296.0 1667.5,1269.8 1668.0,1249.0 1669.0,1269.8 1672.0,1293.0 1673.2,1270.3 1674.0,1245.0 1675.0,1270.3 1679.0,1296.0 1679.6,1264.6 1680.0,1240.0 1681.0,1264.6 1682.5,1283.5 1684.0,1254.5 1685.0,1210.7 1685.7,1254.5 1686.7,1302.7 1688.1,1258.0 1689.0,1235.0 1690.0,1258.0 1692.0,1290.0 1692.6,1253.8 1693.0,1229.0 1694.0,1253.8 1696.0,1292.0 1696.6,1251.0 1697.0,1225.0 1697.8,1251.0 1698.9,1276.4 1700.0,1246.1 1700.8,1204.0 1700.9,1246.1 1701.0,1285.0 1705.0,1249.1 1706.0,1190.0 1706.3,1249.1 1706.7,1293.0 1709.0,1258.7 1710.0,1230.0 1710.8,1258.7 1712.0,1295.0 1712.6,1262.8 1713.0,1237.0 1713.8,1262.8 1715.0,1292.2 1716.2,1261.1 1717.0,1235.0 1717.7,1261.1 1718.7,1306.7 1720.1,1251.6 1721.0,1213.0 1721.8,1251.6 1723.0,1285.3 1724.2,1240.5 1725.0,1200.0 1725.0,1240.5 1725.0,1290.0 1727.0,1227.9 1728.0,1152.0 1729.0,1227.9 1730.7,1298.7 1731.5,1241.3 1732.0,1215.0 1733.0,1241.3 1735.0,1285.0 1736.0,1234.7 1740.0,1288.0 1740.6,1246.7 1741.0,1225.0 1741.8,1246.7 1743.0,1265.4 1744.2,1242.8 1745.0,1217.0 1745.4,1242.8 1746.0,1280.0 1747.8,1236.9 1748.8,1193.0 1749.8,1236.9 1752.0,1290.7 1754.7,1226.7 1756.0,1270.0 1759.0,1229.2 1760.0,1186.7 1760.0,1229.2 1760.0,1274.7 1762.5,1215.5 1765.0,1270.0 1766.7,1232.0 1769.0,1278.7 1770.2,1220.8 1771.0,1200.0 1771.8,1220.8 1773.0,1261.0 1774.2,1183.9 1775.0,1150.0 1775.8,1183.9 1777.0,1235.0 1779.0,1161.6 1780.0,1128.0 1780.4,1161.6 1781.0,1215.0 1786.7,1137.0 1786.7,1200.0 1789.7,1140.6 1790.7,1100.0 1791.6,1140.6 1793.0,1190.0 1795.5,1122.8 1796.5,1034.7 1797.5,1122.8 1800.0,1205.0 1801.7,1126.4 1802.7,1066.7 1803.7,1126.4 1806.7,1196.0 1807.8,1121.4 1808.5,1057.0 1809.5,1121.4 1811.0,1190.0 1812.2,1114.1 1813.0,1070.0 1814.0,1114.1 1816.0,1200.0 1816.6,1087.0 1817.0,1044.0 1818.0,1087.0 1821.0,1170.0 1822.0,1041.4 1822.7,902.7 1823.4,1041.4 1824.3,1126.4 1825.3,1050.7 1826.0,980.0 1826.3,1050.7 1826.7,1153.0 1828.1,1052.0 1829.0,1000.0 1830.0,1052.0 1832.0,1166.7 1833.2,1037.5 1834.0,960.0 1834.9,1037.5 1836.3,1106.3 1837.8,998.6 1838.7,890.7 1838.7,998.6 1838.7,1145.0 1839.9,980.9 1840.7,918.0 1841.5,980.9 1842.7,1061.0 1844.1,955.7 1845.0,909.0 1846.0,955.7 1848.0,1050.0 1851.0,936.5 1852.0,878.7 1853.0,936.5 1854.7,1044.0 1856.1,944.8 1857.0,894.7 1858.0,944.8 1861.0,1064.0 1863.0,926.8 1864.0,846.7 1865.0,926.8 1868.0,1056.0 1868.6,908.9 1869.0,768.0 1870.0,908.9 1873.0,1060.0 1874.0,901.6 1874.7,784.0 1875.7,901.6 1878.7,1081.0 1879.5,912.8 1880.0,801.0 1880.9,912.8 1882.2,1009.5 1883.6,919.4 1884.5,766.7 1884.7,919.4 1885.0,1032.0 1886.5,942.6 1887.5,875.2 1888.5,942.6 1890.0,1060.0 1890.4,942.9 1890.7,842.7 1891.7,942.9 1894.7,1094.7 1895.5,947.2 1896.0,833.0 1896.8,947.2 1898.0,1050.0 1899.5,905.4 1900.5,756.5 1901.4,905.4 1902.7,1034.7 1904.1,856.1 1905.0,756.0 1906.0,856.1 1909.0,956.0 1910.5,806.0 1911.5,669.0 1912.5,806.0 1914.0,950.0 1916.0,812.1 1917.0,701.0 1917.7,812.1 1918.7,969.0 1922.5,810.3 1923.5,624.8 1924.1,810.3 1925.0,1006.7 1927.0,836.7 1928.0,720.0 1928.8,836.7 1930.0,960.0 1932.0,836.4 1933.0,740.0 1933.7,836.4 1934.7,948.0 1937.0,791.1 1938.0,659.5 1938.4,791.1 1939.0,920.0 1940.1,784.9 1940.8,694.9 1941.6,784.9 1942.7,916.0 1944.1,778.0 1945.0,666.0 1946.0,778.0 1948.0,978.7 1950.5,750.5 1951.5,590.7 1951.7,750.5 1952.0,940.0 1955.0,748.0 1956.0,645.0 1956.0,748.0 1956.0,949.0 1957.2,739.8 1958.0,685.2 1958.8,739.8 1960.0,880.0 1960.5,716.4 1960.8,648.0 1961.8,716.4 1964.0,838.7 1965.7,685.3 1966.7,568.8 1967.2,685.3 1968.0,850.0 1970.0,705.3 1971.0,640.0 1971.4,705.3 1972.0,878.7 1975.0,706.4 1976.0,578.0 1977.0,706.4 1978.7,920.0 1981.0,693.1 1982.0,637.0 1982.0,693.1 1982.0,870.0 1982.9,683.5 1983.5,645.3 1984.1,683.5 1985.0,845.0 1987.8,624.5 1988.8,452.0 1989.3,624.5 1990.0,880.0 1991.4,587.6 1992.4,241.0 1993.3,587.6 1994.7,942.7 1995.2,669.9 1995.5,530.7 1996.5,669.9 1998.0,880.0 1998.6,697.9 1999.0,600.0 1999.8,697.9 2001.0,846.7 2002.0,709.6 2002.7,624.0 2003.6,709.6 2005.0,880.0 2007.8,689.5 2008.8,558.0 2008.9,689.5 2009.0,910.7 2013.0,684.0 2014.0,518.0 2014.8,684.0 2016.0,960.0 2016.9,721.7 2017.5,653.1 2018.1,721.7 2019.0,900.0 2019.6,715.4 2020.0,597.0 2021.0,715.4 2022.7,844.0 2023.5,750.5 2024.0,680.0 2025.0,750.5 2027.0,880.0 2028.2,772.3 2029.0,682.7 2030.0,772.3 2032.0,912.0 2033.2,766.8 2034.0,640.0 2035.0,766.8 2037.0,950.0 2038.0,733.8 2038.7,506.7 2039.7,733.8 2042.7,1029.0 2043.2,782.8 2043.5,693.0 2044.5,782.8 2048.0,982.7 2048.6,795.9 2049.0,745.0 2050.0,795.9 2052.0,930.0 2054.0,778.7 2055.0,656.0 2055.8,778.7 2057.0,908.0 2059.0,799.5 2060.0,720.0 2061.0,799.5 2062.7,941.0 2064.1,790.9 2065.0,700.0 2066.0,790.9 2068.0,888.0 2068.6,716.6 2069.0,600.0 2070.0,716.6 2072.0,800.0 2073.2,611.4 2074.0,458.7 2075.0,611.4 2077.0,740.0 2079.5,587.0 2080.5,452.0 2080.7,587.0 2081.0,714.0 2083.0,597.9 2084.0,520.0 2085.0,597.9 2086.7,766.0 2087.8,576.5 2088.5,485.0 2089.5,576.5 2091.0,720.0 2093.0,529.2 2094.0,436.0 2094.4,529.2 2095.0,690.0 2097.0,504.9 2098.0,394.7 2098.8,504.9 2100.0,680.0 2100.6,523.0 2101.0,412.0 2102.0,523.0 2104.0,720.0 2104.6,572.6 2105.0,500.0 2106.0,572.6 2109.0,744.0 2109.6,627.2 2110.0,560.0 2110.3,627.2 2110.7,742.7 2113.7,644.7 2114.7,555.5 2115.6,644.7 2117.0,778.7 2118.2,662.6 2119.0,578.0 2119.8,662.6 2121.0,822.7 2123.5,710.6 2124.5,664.0 2124.7,710.6 2125.0,878.7 2128.0,753.5 2129.0,700.0 2129.0,753.5 2129.0,890.0 2129.9,763.5 2130.5,721.0 2131.1,763.5 2132.0,908.0 2133.7,741.1 2134.7,623.0 2135.2,741.1 2135.8,806.5 2136.5,735.6 2137.0,700.0 2137.0,735.6 2137.0,880.0"/>
<polyline fill="none" stroke="#2E75BD" stroke-width="3.7" stroke-linejoin="bevel" points="2138.2,715.5 2139.7,830.0 2141.3,673.5 2142.6,780.1 2144.1,686.2 2145.4,785.9 2146.9,687.6 2148.6,790.2 2150.2,723.6 2151.7,781.5 2153.1,727.6 2154.7,815.9 2156.4,743.1 2158.0,807.9 2159.3,754.1 2161.0,821.3 2162.6,753.5 2163.9,836.4 2165.4,771.4 2166.7,897.0 2168.2,792.8 2169.7,884.5 2171.3,821.1 2172.7,910.4 2174.2,859.6 2175.5,961.4 2177.1,868.0 2178.6,994.0 2179.9,868.0 2181.6,990.9 2183.0,902.5 2184.7,991.9 2186.3,938.4 2187.6,1002.4 2189.1,931.7 2190.6,1008.3 2192.1,932.6 2193.4,1023.0 2194.8,943.3 2196.1,997.7 2197.6,939.3 2199.0,985.4 2200.2,931.9 2201.6,987.8 2203.3,919.1 2204.6,959.1 2205.8,915.1 2207.2,969.1 2208.7,925.7 2210.4,976.3 2211.7,922.6 2213.1,1009.0 2214.6,929.9 2216.0,1022.9 2217.4,924.1 2218.9,1020.8 2220.4,908.9 2222.0,1032.1 2223.6,888.7 2225.1,1000.9 2226.7,905.0 2228.3,1022.6 2229.6,870.0 2231.1,1006.4 2232.6,894.4 2234.1,1076.5 2235.6,931.6 2236.9,1066.6 2238.6,945.2 2240.1,1064.0 2241.7,965.0 2243.2,1068.6 2244.8,973.5 2246.0,1087.5 2247.7,1006.7 2249.4,1073.5 2251.1,998.9 2252.7,1058.0 2254.3,1010.3 2255.9,1070.6 2257.6,995.1 2258.9,1068.0 2260.5,1017.4 2262.1,1073.3 2263.6,1024.3 2265.2,1082.4 2266.5,1026.4 2268.1,1072.3 2269.7,1035.7 2271.1,1090.9 2272.3,1030.8 2273.9,1087.2 2275.3,1020.7 2276.6,1107.1 2278.0,1037.2 2279.3,1108.1 2280.7,1011.4 2282.0,1107.0 2283.5,1026.1 2284.8,1082.9 2286.2,1028.4 2287.8,1101.9 2289.4,1030.8 2290.8,1112.8 2292.2,1030.9 2293.9,1095.7 2295.2,1025.8 2296.6,1064.1 2297.9,1019.8 2299.3,1069.5 2301.0,1022.4 2302.8,1063.3 2304.2,1029.6 2305.7,1065.3 2307.1,1031.9 2308.7,1078.7 2310.0,1039.3 2311.5,1102.0 2312.9,1050.7 2314.5,1127.2 2316.2,1061.4 2317.8,1135.9 2319.2,1071.8 2320.9,1155.3 2322.5,1071.3 2323.7,1138.1 2325.2,1080.0 2326.7,1154.7 2328.5,1102.7 2329.7,1159.9 2331.4,1092.8 2333.1,1166.5 2334.5,1113.5 2336.2,1157.0 2337.9,1100.4 2339.4,1156.5 2340.7,1100.0 2342.1,1137.9 2343.8,1089.4 2345.4,1140.0"/>
<polyline fill="none" stroke="#2E75BD" stroke-width="3.7" stroke-linejoin="miter" stroke-miterlimit="3" points="2136.7,925.0 2136.9,738.4 2137.0,700.0 2137.6,738.4 2138.5,819.6 2139.4,685.4 2140.0,533.0 2140.4,685.4 2141.0,860.0 2141.9,692.0 2142.5,616.3 2143.1,692.0 2144.0,850.0 2144.5,683.8 2144.8,562.5 2145.8,683.8 2148.0,882.0 2149.6,720.6 2150.6,649.0 2151.2,720.6 2152.0,860.0 2154.7,739.2 2155.7,673.0 2156.2,739.2 2157.0,880.0 2158.2,751.0 2159.0,700.0 2160.0,751.0 2162.0,900.0 2163.0,750.3 2163.7,624.5 2164.7,750.3 2167.0,950.0 2168.2,797.7 2169.0,678.0 2170.0,797.7 2172.0,1000.0 2173.8,850.0 2174.8,757.0 2175.6,850.0 2176.8,1034.0 2178.6,880.5 2179.6,726.0 2180.6,880.5 2182.0,1110.0 2183.7,929.1 2184.7,800.5 2185.2,929.1 2186.0,1052.0 2188.6,941.1 2189.6,823.7 2190.4,941.1 2191.7,1110.0 2193.1,946.5 2194.0,860.0 2195.0,946.5 2197.0,1063.0 2197.9,924.5 2198.5,838.7 2199.2,924.5 2200.2,1005.9 2201.3,924.9 2202.0,870.0 2202.0,924.9 2202.0,1010.0 2205.0,909.1 2206.0,831.0 2206.3,909.1 2206.7,987.0 2209.0,919.5 2210.0,860.0 2210.8,919.5 2212.0,1040.0 2213.2,926.2 2214.0,800.0 2215.0,926.2 2217.5,1080.0 2218.3,902.2 2218.8,715.3 2219.4,902.2 2220.4,999.9 2221.4,901.9 2222.0,760.0 2222.4,901.9 2223.0,1075.0 2225.6,862.5 2226.6,649.0 2227.6,862.5 2229.0,1120.5 2230.9,896.4 2231.9,713.0 2232.9,896.4 2234.8,1153.6 2236.6,936.0 2237.6,794.0 2238.6,936.0 2240.0,1110.0 2243.0,972.9 2244.0,816.5 2244.4,972.9 2245.0,1122.7 2247.0,998.8 2248.0,900.0 2248.8,998.8 2250.0,1066.5 2251.2,1005.1 2252.0,940.0 2252.0,1005.1 2252.0,1121.6 2255.8,999.0 2256.8,921.9 2257.3,999.0 2258.0,1105.0 2260.0,1013.0 2261.0,960.0 2262.0,1013.0 2264.0,1098.0 2264.6,1028.0 2265.0,980.0 2265.8,1028.0 2267.0,1069.3 2268.2,1033.6 2269.0,975.0 2269.4,1033.6 2270.0,1130.0 2273.0,1031.9 2274.0,940.0 2275.0,1031.9 2276.6,1170.7 2278.0,1012.0 2279.0,867.5 2279.8,1012.0 2281.0,1181.0 2283.5,1016.1 2284.5,909.0 2285.5,1016.1 2287.7,1149.0 2288.4,1019.8 2288.8,939.0 2289.6,1019.8 2290.9,1087.2 2292.2,1031.8 2293.0,960.0 2293.0,1031.8 2293.0,1145.0 2294.2,1039.6 2295.0,1013.2 2295.8,1039.6 2297.0,1110.0 2298.5,1017.8 2299.5,935.7 2300.3,1017.8 2301.6,1084.0 2304.0,1021.1 2305.0,935.0 2306.0,1021.1 2308.0,1132.0 2309.2,1043.6 2310.0,990.0 2311.0,1043.6 2313.0,1164.0 2314.2,1058.1 2315.0,1000.0 2316.0,1058.1 2318.0,1182.4 2319.8,1065.9 2320.8,974.0 2321.8,1065.9 2323.6,1211.0 2325.0,1089.9 2326.0,1011.5 2327.0,1089.9 2329.0,1200.5 2330.5,1100.0 2331.5,1022.0 2332.5,1100.0 2334.7,1217.0 2336.1,1100.3 2337.0,1040.0 2338.0,1100.3 2340.0,1193.0 2342.0,1089.4 2343.0,1035.0 2343.8,1089.4 2345.0,1187.7 2347.0,1075.0 2347.5,1168.5"/>
<path d="M978.7 1333.6 V770.7" fill="none" stroke="#000" stroke-width="4.4" stroke-dasharray="52.5 27"/>
<path d="M1681.9 1333.6 V770.7" fill="none" stroke="#000" stroke-width="4.4" stroke-dasharray="52.5 27"/>
<polyline fill="none" stroke="#EE7A00" stroke-width="12.6" stroke-linejoin="round" stroke-linecap="butt" points="407.0,856.5 407.8,857.9 408.5,859.5 409.2,860.6 410.0,860.8 410.4,860.3 410.9,859.3 411.3,858.1 411.8,856.7 412.2,855.1 412.6,853.5 413.0,852.0 413.3,851.0 413.5,849.9 413.7,848.8 413.9,847.7 414.1,846.6 414.3,845.4 414.6,844.1 414.8,842.8 415.0,841.5 415.2,840.0 415.4,839.0 415.5,837.9 415.7,836.8 415.8,835.6 416.0,834.4 416.2,833.1 416.3,831.9 416.5,830.6 416.7,829.3 416.8,828.1 417.0,826.8 417.2,825.6 417.3,824.3 417.5,823.2 417.6,822.0 417.8,820.7 417.9,819.5 418.1,818.3 418.2,817.1 418.4,815.9 418.5,814.8 418.6,813.6 418.8,812.4 418.9,811.2 419.0,810.0 419.2,808.7 419.3,807.4 419.4,806.0 419.5,804.9 419.6,803.8 419.6,802.6 419.7,801.5 419.8,800.3 419.9,799.1 419.9,797.9 420.0,796.7 420.1,795.4 420.1,794.2 420.2,792.9 420.3,791.6 420.3,790.3 420.4,789.0 420.5,787.7 420.5,786.3 420.6,785.0 420.7,783.9 420.7,782.7 420.8,781.6 420.8,780.4 420.9,779.3 420.9,778.2 421.0,777.0 421.0,775.9 421.1,774.7 421.1,773.5 421.2,772.3 421.2,771.1 421.3,769.8 421.4,768.5 421.4,767.2 421.5,765.8 421.6,764.4 421.6,763.0 421.7,761.5 421.8,760.0 421.9,759.0 421.9,757.9 422.0,756.8 422.0,755.7 422.1,754.6 422.1,753.4 422.2,752.3 422.3,751.1 422.3,749.9 422.4,748.7 422.5,747.4 422.5,746.2 422.6,745.0 422.7,743.7 422.7,742.4 422.8,741.2 422.9,739.9 422.9,738.6 423.0,737.3 423.1,736.0 423.2,734.7 423.3,733.4 423.3,732.1 423.4,730.8 423.5,729.5 423.6,728.2 423.7,726.9 423.8,725.6 423.9,724.3 424.0,723.0 424.1,721.8 424.2,720.6 424.3,719.4 424.4,718.1 424.5,716.8 424.6,715.5 424.7,714.2 424.8,712.8 425.0,711.5 425.1,710.1 425.2,708.7 425.3,707.4 425.4,706.0 425.6,704.6 425.7,703.3 425.8,701.9 426.0,700.6 426.1,699.3 426.2,697.9 426.3,696.7 426.5,695.4 426.6,694.1 426.7,692.9 426.9,691.8 427.0,690.6 427.1,689.5 427.2,688.4 427.4,687.4 427.5,686.4 427.6,685.5 427.8,684.6 427.9,683.8 428.0,683.0 428.5,680.2 429.0,678.0 429.5,676.3 429.9,675.1 430.4,674.3 430.9,673.8 431.5,673.8 432.0,674.0 432.3,674.3 432.7,674.8 433.1,675.4 433.4,676.2 433.8,677.2 434.2,678.2 434.6,679.4 435.0,680.8 435.4,682.2 435.8,683.7 436.2,685.4 436.6,687.2 437.0,689.0 437.2,689.9 437.4,690.9 437.6,691.9 437.8,693.0 438.0,694.2 438.2,695.4 438.4,696.6 438.6,697.9 438.8,699.2 439.1,700.6 439.3,701.9 439.5,703.3 439.7,704.7 439.9,706.1 440.1,707.5 440.3,708.9 440.6,710.2 440.8,711.6 441.0,712.9 441.2,714.2 441.4,715.5 441.6,716.7 441.8,717.9 442.0,719.0 442.2,720.1 442.3,721.2 442.5,722.1 442.7,723.0 443.1,725.0 443.5,726.8 443.9,728.4 444.2,729.8 444.5,731.1 444.8,732.2 445.1,733.2 445.5,734.1 445.9,735.0 446.3,735.8 446.7,736.7 447.6,737.9 448.7,738.6 449.8,739.0 451.0,739.6 452.1,740.4 453.0,742.0 453.3,742.9 453.6,743.9 453.9,745.0 454.2,746.3 454.4,747.6 454.7,749.0 454.9,750.4 455.2,751.8 455.4,753.3 455.6,754.7 455.9,756.0 456.1,757.3 456.4,758.6 456.7,759.7 457.0,760.7 457.6,762.3 458.2,763.9 458.8,765.5 459.4,766.9 460.1,768.2 460.8,769.2 461.4,769.9 462.1,770.2 462.7,770.0 463.1,769.7 463.4,769.4 463.8,769.1 464.2,768.7 464.5,768.1 464.9,767.5 465.3,766.7 465.6,765.8 466.0,764.7 466.3,763.3 466.7,761.8 467.0,759.9 467.4,757.8 467.7,755.4 468.0,752.7 468.1,751.9 468.2,751.1 468.2,750.3 468.3,749.4 468.4,748.6 468.5,747.6 468.5,746.7 468.6,745.7 468.7,744.7 468.8,743.7 468.8,742.7 468.9,741.6 469.0,740.5 469.0,739.4 469.1,738.3 469.2,737.1 469.2,735.9 469.3,734.7 469.4,733.5 469.4,732.3 469.5,731.1 469.6,729.8 469.6,728.6 469.7,727.3 469.8,726.0 469.8,724.7 469.9,723.4 470.0,722.1 470.0,720.8 470.1,719.4 470.1,718.1 470.2,716.8 470.3,715.4 470.3,714.1 470.4,712.7 470.5,711.4 470.5,710.0 470.6,708.7 470.7,707.3 470.7,706.0 470.8,704.6 470.9,703.3 470.9,701.9 471.0,700.6 471.1,699.3 471.1,697.9 471.2,696.6 471.3,695.3 471.3,694.0 471.4,692.8 471.5,691.5 471.6,690.2 471.6,689.0 471.7,687.8 471.8,686.5 471.8,685.3 471.9,684.2 472.0,683.0 472.1,681.7 472.2,680.5 472.3,679.2 472.3,677.9 472.4,676.5 472.5,675.2 472.6,673.9 472.7,672.5 472.8,671.2 472.9,669.9 473.0,668.5 473.1,667.1 473.1,665.8 473.2,664.4 473.3,663.0 473.4,661.7 473.5,660.3 473.6,658.9 473.7,657.6 473.8,656.2 473.9,654.9 474.0,653.5 474.1,652.2 474.2,650.8 474.3,649.5 474.3,648.2 474.4,646.9 474.5,645.6 474.6,644.3 474.7,643.0 474.8,641.7 474.9,640.5 475.0,639.3 475.1,638.0 475.2,636.8 475.3,635.7 475.4,634.5 475.5,633.3 475.6,632.2 475.7,631.1 475.8,630.0 475.9,628.9 476.0,627.9 476.1,626.9 476.2,625.9 476.3,624.9 476.4,624.0 476.5,623.1 476.6,622.2 476.7,621.4 476.8,620.5 476.9,619.8 477.0,619.0 477.5,616.0 477.9,613.4 478.4,611.3 478.9,609.6 479.4,608.2 479.9,607.1 480.4,606.3 480.9,605.7 481.4,605.3 481.8,605.0 482.3,604.8 482.7,604.7 483.2,604.7 483.6,605.1 484.0,605.7 484.4,606.5 484.8,607.7 485.2,609.0 485.6,610.6 485.9,612.5 486.3,614.5 486.7,616.7 486.8,617.6 487.0,618.5 487.1,619.4 487.3,620.4 487.4,621.4 487.5,622.5 487.6,623.6 487.8,624.8 487.9,626.0 488.0,627.2 488.2,628.4 488.3,629.7 488.4,630.9 488.6,632.2 488.7,633.6 488.8,634.9 489.0,636.2 489.1,637.6 489.2,638.9 489.4,640.3 489.5,641.7 489.7,643.0 489.8,644.4 490.0,645.7 490.2,647.1 490.3,648.4 490.5,649.7 490.7,651.0 490.9,652.2 491.0,653.3 491.2,654.5 491.4,655.7 491.6,656.9 491.8,658.2 492.0,659.4 492.2,660.6 492.4,661.9 492.6,663.1 492.9,664.4 493.1,665.6 493.3,666.9 493.5,668.1 493.7,669.4 494.0,670.6 494.2,671.9 494.4,673.1 494.6,674.4 494.8,675.6 495.1,676.8 495.3,678.1 495.5,679.3 495.7,680.5 495.9,681.7 496.1,682.9 496.3,684.1 496.5,685.3 496.7,686.4 496.8,687.6 497.0,688.7 497.2,690.0 497.4,691.4 497.6,692.8 497.7,694.2 497.9,695.5 498.0,696.9 498.2,698.3 498.3,699.7 498.5,701.0 498.6,702.4 498.8,703.8 498.9,705.1 499.0,706.4 499.2,707.7 499.3,709.0 499.4,710.2 499.6,711.5 499.7,712.6 499.9,713.8 500.0,714.9 500.2,716.0 500.3,717.0 500.5,718.0 500.6,719.0 500.8,719.9 501.0,720.7 501.6,722.9 502.2,724.8 502.8,726.5 503.4,727.9 504.1,729.0 504.8,729.9 505.4,730.5 506.1,730.9 506.7,731.0 507.3,730.9 507.9,730.7 508.5,730.3 509.2,729.6 509.8,728.6 510.3,727.3 510.9,725.6 511.5,723.4 512.0,720.7 512.1,719.9 512.3,719.0 512.4,718.1 512.5,717.1 512.6,716.0 512.8,714.9 512.9,713.8 513.0,712.6 513.1,711.3 513.2,710.0 513.4,708.7 513.5,707.3 513.6,705.9 513.7,704.5 513.8,703.1 513.9,701.7 514.0,700.3 514.1,698.8 514.2,697.4 514.4,695.9 514.5,694.5 514.6,693.1 514.7,691.7 514.8,690.3 514.9,689.0 515.0,687.7 515.1,686.4 515.2,685.2 515.3,684.0 515.4,682.8 515.6,681.7 515.7,680.7 515.8,679.7 515.9,678.8 516.0,678.0 516.4,675.6 516.7,673.4 517.1,671.4 517.4,669.7 517.8,668.2 518.1,667.0 518.5,666.0 518.8,665.3 519.2,664.8 519.6,664.6 520.0,664.7 520.3,665.0 520.6,665.5 520.9,666.2 521.2,667.1 521.6,668.1 521.9,669.3 522.2,670.6 522.6,672.0 522.9,673.5 523.2,675.1 523.6,676.7 523.9,678.3 524.3,679.9 524.6,681.5 525.0,683.0 525.2,684.1 525.5,685.2 525.7,686.3 526.0,687.5 526.2,688.7 526.4,690.0 526.7,691.3 526.9,692.6 527.2,693.9 527.4,695.2 527.7,696.6 527.9,697.9 528.2,699.2 528.4,700.6 528.7,701.8 529.0,703.1 529.2,704.4 529.5,705.6 529.8,706.8 530.1,707.9 530.4,709.0 530.7,710.0 531.2,711.5 531.7,712.9 532.2,714.4 532.7,715.9 533.2,717.3 533.7,718.6 534.3,720.0 534.8,721.2 535.4,722.4 535.9,723.4 536.5,724.4 537.1,725.3 537.6,726.0 538.2,726.6 538.7,727.0 539.7,727.5 540.7,727.8 541.8,727.7 542.8,727.3 543.8,726.4 544.8,725.0 545.8,723.1 546.7,720.7 546.9,720.0 547.2,719.1 547.4,718.2 547.6,717.3 547.8,716.3 548.0,715.2 548.2,714.0 548.4,712.9 548.6,711.6 548.8,710.4 549.0,709.1 549.2,707.8 549.4,706.4 549.6,705.0 549.8,703.7 549.9,702.3 550.1,700.9 550.3,699.4 550.5,698.0 550.7,696.6 550.9,695.3 551.1,693.9 551.3,692.5 551.5,691.2 551.7,689.9 551.9,688.6 552.1,687.4 552.3,686.2 552.5,685.1 552.8,684.0 553.0,683.0 553.3,681.5 553.7,680.0 554.1,678.6 554.5,677.1 554.8,675.6 555.2,674.2 555.6,672.8 556.0,671.4 556.4,670.1 556.8,668.8 557.2,667.5 557.6,666.3 558.0,665.2 558.4,664.1 558.8,663.1 559.2,662.2 559.6,661.4 560.0,660.6 560.3,660.0 560.7,659.4 561.0,659.0 561.8,658.4 562.6,658.4 563.4,659.1 564.1,660.1 564.8,661.6 565.4,663.3 566.1,665.1 566.7,667.0 567.0,667.9 567.2,668.9 567.5,670.0 567.7,671.2 567.9,672.5 568.1,673.8 568.3,675.2 568.5,676.5 568.7,678.0 568.9,679.4 569.1,680.7 569.3,682.1 569.5,683.4 569.8,684.6 570.0,685.8 570.2,686.9 570.4,687.9 570.7,688.7 571.5,691.1 572.4,693.4 573.4,695.3 574.3,696.4 575.2,696.4 576.0,695.0 576.2,694.5 576.3,693.8 576.5,693.1 576.7,692.3 576.8,691.5 577.0,690.5 577.1,689.5 577.3,688.5 577.4,687.4 577.6,686.2 577.7,685.0 577.9,683.7 578.0,682.4 578.2,681.0 578.3,679.7 578.4,678.3 578.6,676.8 578.7,675.4 578.9,673.9 579.0,672.4 579.1,670.9 579.3,669.4 579.4,667.9 579.6,666.4 579.7,664.9 579.9,663.5 580.0,662.0 580.1,660.9 580.2,659.8 580.3,658.6 580.4,657.4 580.5,656.1 580.6,654.8 580.7,653.5 580.8,652.2 581.0,650.8 581.1,649.4 581.2,648.0 581.3,646.5 581.4,645.1 581.5,643.6 581.6,642.2 581.7,640.7 581.8,639.3 581.9,637.9 582.0,636.4 582.1,635.0 582.2,633.6 582.3,632.3 582.4,630.9 582.5,629.6 582.6,628.3 582.7,627.1 582.8,625.8 583.0,624.7 583.1,623.6 583.2,622.5 583.3,621.5 583.4,620.5 583.5,619.6 583.6,618.8 583.8,618.0 583.9,617.3 584.0,616.7 585.2,612.8 586.5,611.8 587.8,613.9 589.0,619.0 589.1,619.7 589.2,620.4 589.3,621.1 589.4,621.9 589.5,622.7 589.6,623.5 589.7,624.4 589.8,625.3 589.9,626.3 590.0,627.3 590.1,628.3 590.2,629.3 590.3,630.4 590.4,631.5 590.5,632.6 590.6,633.8 590.7,635.0 590.8,636.2 590.9,637.4 591.0,638.7 591.1,640.0 591.2,641.3 591.2,642.6 591.3,643.9 591.4,645.3 591.5,646.7 591.6,648.0 591.7,649.4 591.8,650.9 591.9,652.3 592.0,653.7 592.1,655.2 592.2,656.6 592.3,658.1 592.3,659.6 592.4,661.0 592.5,662.5 592.6,664.0 592.7,665.5 592.8,667.0 592.9,668.5 593.0,670.0 593.1,671.0 593.1,672.1 593.2,673.1 593.3,674.2 593.3,675.4 593.4,676.5 593.5,677.6 593.5,678.8 593.6,680.0 593.6,681.2 593.7,682.4 593.8,683.7 593.8,684.9 593.9,686.2 594.0,687.5 594.0,688.7 594.1,690.0 594.2,691.4 594.2,692.7 594.3,694.0 594.4,695.3 594.4,696.7 594.5,698.0 594.5,699.3 594.6,700.7 594.7,702.0 594.7,703.4 594.8,704.7 594.9,706.1 594.9,707.4 595.0,708.8 595.1,710.1 595.1,711.5 595.2,712.8 595.3,714.1 595.3,715.5 595.4,716.8 595.5,718.1 595.5,719.4 595.6,720.7 595.6,722.0 595.7,723.2 595.8,724.5 595.8,725.7 595.9,726.9 596.0,728.2 596.0,729.3 596.1,730.5 596.2,731.7 596.2,732.8 596.3,733.9 596.4,735.0 596.4,736.1 596.5,737.2 596.5,738.2 596.6,739.2 596.7,740.2 596.7,741.2 596.8,742.1 596.9,743.0 596.9,743.9 597.0,744.7 597.2,746.9 597.3,749.0 597.5,751.0 597.7,752.9 597.8,754.7 598.0,756.4 598.2,758.0 598.3,759.6 598.5,761.0 598.6,762.4 598.8,763.7 599.0,764.9 599.1,766.0 599.3,767.0 599.5,768.0 599.7,768.8 599.8,769.6 600.0,770.3 600.2,770.9 600.4,771.5 600.6,772.0 600.8,772.4 601.0,772.7 601.4,773.2 601.8,773.5 602.2,773.7 602.7,773.7 603.1,773.5 603.6,773.0 604.1,772.1 604.6,770.9 605.0,769.3 605.5,767.3 605.9,764.7 606.3,761.6 606.7,758.0 606.8,757.3 606.8,756.5 606.9,755.8 607.0,755.0 607.0,754.1 607.1,753.3 607.1,752.4 607.2,751.5 607.3,750.6 607.3,749.6 607.4,748.6 607.4,747.7 607.5,746.6 607.6,745.6 607.6,744.5 607.7,743.5 607.7,742.4 607.8,741.2 607.8,740.1 607.9,739.0 607.9,737.8 608.0,736.6 608.0,735.4 608.1,734.2 608.1,733.0 608.2,731.7 608.2,730.5 608.3,729.2 608.3,728.0 608.4,726.7 608.5,725.4 608.5,724.1 608.6,722.7 608.6,721.4 608.7,720.1 608.7,718.8 608.7,717.4 608.8,716.1 608.8,714.7 608.9,713.3 608.9,712.0 609.0,710.6 609.0,709.2 609.1,707.9 609.1,706.5 609.2,705.1 609.2,703.7 609.3,702.4 609.4,701.0 609.4,699.6 609.5,698.3 609.5,696.9 609.6,695.5 609.6,694.2 609.7,692.8 609.7,691.5 609.8,690.1 609.8,688.8 609.9,687.5 609.9,686.1 610.0,684.8 610.0,683.5 610.1,682.2 610.2,681.0 610.2,679.7 610.3,678.4 610.3,677.2 610.4,675.9 610.5,674.7 610.5,673.5 610.6,672.3 610.6,671.2 610.7,670.0 610.8,668.7 610.8,667.4 610.9,666.1 611.0,664.8 611.1,663.5 611.1,662.2 611.2,660.8 611.3,659.5 611.4,658.1 611.4,656.8 611.5,655.4 611.6,654.0 611.7,652.7 611.7,651.3 611.8,649.9 611.9,648.5 612.0,647.1 612.1,645.7 612.1,644.3 612.2,643.0 612.3,641.6 612.4,640.2 612.5,638.8 612.5,637.4 612.6,636.0 612.7,634.7 612.8,633.3 612.9,631.9 613.0,630.6 613.0,629.2 613.1,627.9 613.2,626.5 613.3,625.2 613.4,623.9 613.5,622.6 613.5,621.2 613.6,620.0 613.7,618.7 613.8,617.4 613.9,616.1 614.0,614.9 614.0,613.7 614.1,612.5 614.2,611.3 614.3,610.1 614.4,608.9 614.5,607.8 614.5,606.6 614.6,605.5 614.7,604.4 614.8,603.3 614.9,602.3 615.0,601.3 615.0,600.2 615.1,599.2 615.2,598.3 615.3,597.3 615.4,596.4 615.4,595.5 615.5,594.7 615.6,593.8 615.7,593.0 615.8,592.2 615.8,591.4 615.9,590.7 616.0,590.0 616.5,586.0 617.0,583.0 617.5,580.9 618.0,579.4 618.5,578.6 619.0,578.3 619.5,578.3 620.0,578.5 620.5,578.8 621.0,579.0 621.5,579.2 621.9,579.6 622.4,580.3 622.9,581.1 623.3,582.0 623.8,583.2 624.3,584.4 624.8,585.9 625.3,587.4 625.8,589.1 626.2,590.8 626.7,592.7 626.9,593.6 627.1,594.5 627.3,595.4 627.5,596.3 627.7,597.3 627.9,598.3 628.1,599.4 628.3,600.4 628.5,601.5 628.7,602.6 628.9,603.8 629.1,604.9 629.3,606.1 629.5,607.3 629.7,608.6 629.9,609.8 630.1,611.1 630.3,612.4 630.5,613.7 630.7,615.0 630.9,616.3 631.0,617.7 631.2,619.1 631.4,620.5 631.6,621.9 631.8,623.3 632.0,624.7 632.1,625.8 632.3,626.8 632.4,628.0 632.6,629.1 632.7,630.3 632.8,631.5 633.0,632.7 633.1,633.9 633.3,635.2 633.4,636.4 633.5,637.7 633.7,639.0 633.8,640.3 634.0,641.6 634.1,642.9 634.2,644.2 634.4,645.6 634.5,646.9 634.6,648.2 634.8,649.5 634.9,650.8 635.1,652.2 635.2,653.5 635.3,654.8 635.5,656.0 635.6,657.3 635.7,658.6 635.9,659.8 636.0,661.0 636.1,662.3 636.2,663.4 636.4,664.6 636.5,665.7 636.6,666.8 636.8,667.9 636.9,669.0 637.0,670.0 637.2,671.5 637.4,673.1 637.5,674.6 637.7,676.1 637.8,677.6 638.0,679.0 638.1,680.4 638.3,681.8 638.4,683.2 638.5,684.6 638.7,685.9 638.8,687.1 639.0,688.4 639.1,689.6 639.3,690.7 639.4,691.9 639.6,692.9 639.7,694.0 639.9,694.9 640.1,695.9 640.3,696.7 640.5,697.5 640.8,698.3 641.0,699.0 642.0,700.7 643.1,701.6 644.3,701.8 645.5,701.7 646.8,701.5 647.9,701.5 649.0,702.0 649.8,702.5 650.6,702.6 651.4,702.7 652.1,702.9 652.8,703.5 653.4,704.7 654.1,706.8 654.7,710.0 654.8,710.7 654.9,711.5 655.0,712.3 655.1,713.1 655.2,714.0 655.3,714.9 655.4,715.9 655.5,716.9 655.6,717.9 655.7,719.0 655.8,720.1 655.9,721.2 656.0,722.3 656.1,723.5 656.2,724.7 656.3,725.9 656.4,727.2 656.5,728.4 656.5,729.7 656.6,731.0 656.7,732.3 656.8,733.6 656.9,735.0 657.0,736.3 657.1,737.7 657.1,739.0 657.2,740.4 657.3,741.8 657.4,743.2 657.5,744.5 657.6,745.9 657.7,747.3 657.7,748.6 657.8,750.0 657.9,751.4 658.0,752.7 658.1,754.0 658.2,755.4 658.3,756.7 658.3,758.0 658.4,759.3 658.5,760.5 658.6,761.8 658.7,763.0 658.8,764.2 658.9,765.5 659.0,766.7 659.1,768.0 659.2,769.2 659.2,770.5 659.3,771.8 659.4,773.1 659.5,774.4 659.6,775.7 659.7,777.0 659.8,778.3 659.9,779.7 660.0,781.0 660.1,782.3 660.2,783.6 660.2,785.0 660.3,786.3 660.4,787.6 660.5,788.9 660.6,790.2 660.7,791.5 660.8,792.8 660.9,794.1 661.0,795.4 661.1,796.7 661.2,797.9 661.2,799.2 661.3,800.4 661.4,801.6 661.5,802.8 661.6,804.0 661.7,805.2 661.8,806.3 661.9,807.5 662.0,808.6 662.1,809.7 662.2,810.8 662.2,811.8 662.3,812.8 662.4,813.8 662.5,814.8 662.6,815.8 662.7,816.7 662.9,818.5 663.1,820.2 663.2,821.8 663.4,823.4 663.6,824.9 663.8,826.4 663.9,827.8 664.1,829.1 664.3,830.4 664.4,831.6 664.6,832.8 664.8,833.9 665.0,835.0 665.1,836.0 665.3,837.0 665.5,838.0 665.7,838.9 665.9,839.8 666.1,840.6 666.3,841.4 666.5,842.2 666.7,843.0 667.4,845.2 668.1,847.0 668.8,848.3 669.6,849.3 670.3,849.9 671.2,850.2 672.0,850.0 672.6,849.7 673.1,849.2 673.7,848.6 674.3,847.8 674.9,846.8 675.5,845.7 676.1,844.5 676.7,843.1 677.4,841.5 678.0,839.8 678.7,838.0 679.0,837.1 679.3,836.2 679.6,835.1 679.9,834.0 680.2,832.9 680.5,831.7 680.8,830.4 681.2,829.1 681.5,827.8 681.8,826.5 682.1,825.1 682.5,823.7 682.8,822.4 683.1,821.0 683.4,819.6 683.8,818.3 684.1,817.0 684.4,815.7 684.8,814.4 685.1,813.2 685.4,812.0 685.7,810.9 686.1,809.9 686.4,808.9 686.7,808.0 687.4,806.3 688.1,804.8 688.8,803.4 689.5,802.1 690.2,801.0 690.9,799.9 691.6,799.0 692.2,798.1 692.9,797.3 693.5,796.5 694.1,795.7 694.7,795.0 695.7,793.7 696.6,792.8 697.4,792.0 698.2,791.4 699.1,790.8 700.0,790.0 700.9,789.1 701.9,788.0 702.9,786.8 703.9,785.8 704.9,784.9 705.9,784.5 706.7,784.7 707.2,785.0 707.7,785.4 708.2,785.8 708.6,786.3 709.0,787.1 709.4,788.2 709.8,789.6 710.2,791.5 710.6,794.0 711.0,797.0 711.1,797.8 711.2,798.6 711.3,799.4 711.3,800.2 711.4,801.1 711.5,802.1 711.6,803.0 711.7,804.0 711.8,805.0 711.9,806.0 711.9,807.1 712.0,808.1 712.1,809.2 712.2,810.4 712.3,811.5 712.3,812.7 712.4,813.9 712.5,815.1 712.6,816.3 712.7,817.5 712.7,818.8 712.8,820.1 712.9,821.4 713.0,822.7 713.1,824.0 713.1,825.3 713.2,826.7 713.3,828.0 713.4,829.4 713.5,830.8 713.5,832.1 713.6,833.5 713.7,834.9 713.8,836.3 713.9,837.7 714.0,839.2 714.0,840.6 714.1,842.0 714.2,843.4 714.3,844.9 714.4,846.3 714.4,847.7 714.5,849.2 714.6,850.6 714.7,852.0 714.8,853.1 714.8,854.2 714.9,855.3 715.0,856.4 715.0,857.5 715.1,858.7 715.2,859.8 715.2,861.0 715.3,862.2 715.3,863.4 715.4,864.6 715.5,865.8 715.5,867.0 715.6,868.2 715.7,869.5 715.7,870.7 715.8,871.9 715.9,873.2 715.9,874.5 716.0,875.7 716.1,877.0 716.1,878.3 716.2,879.6 716.3,880.9 716.3,882.2 716.4,883.4 716.5,884.7 716.5,886.0 716.6,887.3 716.7,888.6 716.7,889.9 716.8,891.2 716.9,892.5 717.0,893.8 717.0,895.1 717.1,896.4 717.2,897.7 717.2,898.9 717.3,900.2 717.4,901.5 717.4,902.7 717.5,904.0 717.6,905.3 717.6,906.5 717.7,907.7 717.8,909.0 717.8,910.2 717.9,911.4 718.0,912.6 718.0,913.8 718.1,915.0 718.2,916.1 718.2,917.3 718.3,918.4 718.4,919.6 718.4,920.7 718.5,921.8 718.6,922.9 718.6,923.9 718.7,925.0 718.8,926.4 718.9,927.9 719.0,929.3 719.1,930.7 719.1,932.1 719.2,933.5 719.3,934.9 719.4,936.3 719.5,937.7 719.6,939.0 719.7,940.4 719.8,941.7 719.8,943.1 719.9,944.4 720.0,945.7 720.1,947.0 720.2,948.4 720.3,949.6 720.4,950.9 720.4,952.2 720.5,953.4 720.6,954.7 720.7,955.9 720.8,957.1 720.9,958.3 721.0,959.5 721.1,960.7 721.1,961.9 721.2,963.0 721.3,964.1 721.4,965.2 721.5,966.3 721.6,967.4 721.7,968.5 721.8,969.5 721.9,970.5 722.0,971.5 722.1,972.5 722.2,973.5 722.3,974.4 722.4,975.3 722.5,976.3 722.6,977.1 722.7,978.0 723.0,980.0 723.2,982.0 723.5,983.8 723.8,985.6 724.1,987.2 724.4,988.8 724.7,990.3 725.0,991.6 725.3,992.9 725.6,994.1 725.9,995.1 726.2,996.1 726.5,997.0 726.8,997.8 727.1,998.5 727.4,999.1 727.7,999.6 728.0,1000.0 728.6,1000.5 729.3,1000.5 729.9,1000.1 730.6,999.1 731.2,997.6 731.8,995.8 732.4,993.4 733.0,990.7 733.1,989.9 733.3,989.0 733.4,988.1 733.6,987.1 733.7,986.0 733.8,984.9 734.0,983.8 734.1,982.6 734.2,981.3 734.4,980.1 734.5,978.7 734.6,977.4 734.7,976.0 734.9,974.7 735.0,973.3 735.1,971.9 735.2,970.5 735.4,969.1 735.5,967.7 735.6,966.3 735.7,964.9 735.9,963.6 736.0,962.2 736.1,960.9 736.2,959.7 736.4,958.4 736.5,957.3 736.6,956.1 736.7,955.0 736.9,954.0 737.0,953.0 737.2,951.3 737.5,949.7 737.7,948.1 737.9,946.5 738.1,945.1 738.3,943.6 738.6,942.3 738.8,941.0 739.0,939.7 739.2,938.5 739.5,937.4 739.7,936.3 739.9,935.3 740.2,934.4 740.5,933.5 740.7,932.7 741.0,932.0 742.0,929.9 743.2,928.6 744.4,928.0 745.6,928.1 746.7,929.0 747.1,929.5 747.5,930.1 747.9,930.9 748.3,931.7 748.6,932.7 749.0,933.7 749.4,934.8 749.8,936.0 750.1,937.3 750.5,938.7 750.9,940.2 751.3,941.7 751.6,943.3 752.0,945.0 752.2,945.9 752.4,946.9 752.6,947.9 752.8,948.9 753.0,950.0 753.1,951.1 753.3,952.2 753.5,953.3 753.7,954.5 753.9,955.6 754.0,956.8 754.2,958.1 754.4,959.3 754.6,960.6 754.8,961.9 754.9,963.2 755.1,964.5 755.3,965.8 755.5,967.2 755.7,968.5 755.9,969.9 756.1,971.3 756.3,972.7 756.6,974.1 756.8,975.6 757.0,977.0 757.2,978.0 757.3,979.1 757.5,980.2 757.7,981.3 757.9,982.4 758.1,983.5 758.3,984.6 758.5,985.7 758.7,986.9 758.9,988.0 759.1,989.2 759.3,990.3 759.5,991.5 759.7,992.7 759.9,993.9 760.1,995.1 760.3,996.3 760.5,997.5 760.7,998.7 760.9,999.9 761.1,1001.2 761.3,1002.4 761.5,1003.6 761.7,1004.9 761.9,1006.1 762.1,1007.4 762.3,1008.6 762.5,1009.9 762.7,1011.2 762.9,1012.4 763.1,1013.7 763.3,1014.9 763.5,1016.2 763.7,1017.5 763.8,1018.7 764.0,1020.0 764.1,1021.1 764.3,1022.3 764.4,1023.5 764.6,1024.6 764.7,1025.8 764.9,1027.0 765.0,1028.2 765.1,1029.5 765.2,1030.7 765.4,1031.9 765.5,1033.1 765.6,1034.4 765.7,1035.6 765.9,1036.9 766.0,1038.1 766.1,1039.4 766.2,1040.6 766.3,1041.9 766.5,1043.1 766.6,1044.4 766.7,1045.6 766.8,1046.9 766.9,1048.1 767.0,1049.4 767.2,1050.6 767.3,1051.8 767.4,1053.0 767.5,1054.3 767.6,1055.5 767.7,1056.7 767.9,1057.8 768.0,1059.0 768.1,1060.2 768.2,1061.3 768.4,1062.5 768.5,1063.6 768.6,1064.7 768.7,1065.8 768.9,1066.9 769.0,1068.0 769.2,1069.4 769.3,1070.7 769.5,1072.1 769.7,1073.5 769.9,1074.8 770.1,1076.2 770.2,1077.6 770.4,1078.9 770.6,1080.2 770.8,1081.6 770.9,1082.9 771.1,1084.2 771.3,1085.5 771.5,1086.8 771.7,1088.0 771.9,1089.3 772.0,1090.5 772.2,1091.7 772.4,1092.9 772.6,1094.0 772.8,1095.2 773.0,1096.3 773.2,1097.4 773.4,1098.4 773.5,1099.5 773.7,1100.5 773.9,1101.4 774.1,1102.4 774.3,1103.3 774.5,1104.2 774.7,1105.0 775.2,1107.1 775.7,1109.0 776.2,1110.8 776.7,1112.4 777.2,1113.9 777.8,1115.2 778.3,1116.3 778.8,1117.2 779.4,1117.9 779.9,1118.4 780.4,1118.7 781.0,1118.7 781.5,1118.6 782.0,1118.3 782.5,1118.0 783.0,1117.5 783.6,1116.8 784.1,1116.0 784.6,1115.1 785.2,1113.9 785.7,1112.6 786.2,1111.1 786.7,1109.3 787.2,1107.3 787.6,1105.1 788.0,1102.7 788.1,1101.9 788.2,1101.0 788.3,1100.1 788.5,1099.2 788.6,1098.2 788.7,1097.2 788.8,1096.2 788.9,1095.1 789.0,1093.9 789.1,1092.8 789.2,1091.6 789.3,1090.4 789.3,1089.2 789.4,1087.9 789.5,1086.6 789.6,1085.3 789.7,1084.0 789.8,1082.7 789.9,1081.3 789.9,1080.0 790.0,1078.6 790.1,1077.3 790.2,1075.9 790.3,1074.5 790.3,1073.1 790.4,1071.7 790.5,1070.3 790.6,1068.9 790.7,1067.6 790.7,1066.2 790.8,1064.8 790.9,1063.5 791.0,1062.1 791.0,1060.8 791.1,1059.5 791.2,1058.2 791.3,1056.9 791.3,1055.7 791.4,1054.4 791.5,1053.2 791.6,1052.1 791.7,1050.9 791.7,1049.8 791.8,1048.7 791.9,1047.7 792.0,1046.7 792.1,1045.1 792.3,1043.6 792.4,1042.1 792.5,1040.6 792.7,1039.1 792.8,1037.7 792.9,1036.3 793.1,1034.9 793.2,1033.5 793.3,1032.2 793.5,1030.8 793.6,1029.5 793.7,1028.3 793.9,1027.0 794.0,1025.8 794.1,1024.6 794.3,1023.5 794.4,1022.3 794.5,1021.2 794.7,1020.2 794.8,1019.1 795.0,1018.1 795.1,1017.1 795.3,1016.2 795.4,1015.3 795.5,1014.4 795.7,1013.6 795.8,1012.8 796.0,1012.0 796.6,1009.5 797.1,1007.5 797.7,1005.8 798.3,1004.6 798.9,1003.7 799.6,1003.2 800.3,1003.0 801.0,1003.0 801.6,1003.3 802.2,1003.8 802.8,1004.5 803.4,1005.5 804.1,1006.5 804.7,1007.8 805.4,1009.1 806.1,1010.5 806.7,1011.9 807.4,1013.3 808.0,1014.7 808.4,1015.6 808.9,1016.6 809.3,1017.5 809.7,1018.4 810.2,1019.4 810.6,1020.3 811.0,1021.4 811.5,1022.4 811.9,1023.5 812.3,1024.6 812.7,1025.8 813.1,1027.1 813.5,1028.4 813.9,1029.9 814.3,1031.4 814.7,1033.0 814.9,1033.9 815.1,1034.9 815.3,1035.9 815.5,1036.9 815.7,1037.9 815.9,1039.0 816.1,1040.1 816.3,1041.2 816.5,1042.3 816.6,1043.4 816.8,1044.6 817.0,1045.8 817.2,1047.0 817.4,1048.2 817.5,1049.5 817.7,1050.7 817.9,1052.0 818.1,1053.2 818.2,1054.5 818.4,1055.8 818.6,1057.2 818.8,1058.5 818.9,1059.8 819.1,1061.2 819.3,1062.5 819.5,1063.9 819.6,1065.3 819.8,1066.6 820.0,1068.0 820.1,1069.1 820.3,1070.2 820.4,1071.3 820.5,1072.4 820.7,1073.6 820.8,1074.7 821.0,1075.8 821.1,1077.0 821.2,1078.2 821.4,1079.4 821.5,1080.6 821.6,1081.7 821.8,1083.0 821.9,1084.2 822.0,1085.4 822.1,1086.6 822.3,1087.8 822.4,1089.1 822.5,1090.3 822.7,1091.6 822.8,1092.8 822.9,1094.1 823.1,1095.3 823.2,1096.6 823.3,1097.8 823.5,1099.1 823.6,1100.4 823.7,1101.6 823.9,1102.9 824.0,1104.2 824.2,1105.4 824.3,1106.7 824.4,1108.0 824.6,1109.2 824.7,1110.5 824.9,1111.7 825.0,1113.0 825.1,1114.2 825.3,1115.3 825.4,1116.5 825.5,1117.7 825.7,1118.9 825.8,1120.1 826.0,1121.4 826.1,1122.6 826.2,1123.8 826.4,1125.0 826.5,1126.3 826.7,1127.5 826.8,1128.7 827.0,1130.0 827.1,1131.2 827.2,1132.5 827.4,1133.7 827.5,1135.0 827.7,1136.2 827.8,1137.5 828.0,1138.7 828.1,1139.9 828.3,1141.2 828.4,1142.4 828.6,1143.6 828.7,1144.8 828.9,1146.1 829.0,1147.3 829.1,1148.5 829.3,1149.7 829.4,1150.8 829.6,1152.0 829.7,1153.2 829.9,1154.3 830.0,1155.5 830.1,1156.6 830.3,1157.7 830.4,1158.8 830.6,1159.9 830.7,1161.0 830.9,1162.4 831.1,1163.8 831.2,1165.1 831.4,1166.5 831.6,1167.8 831.8,1169.2 831.9,1170.5 832.1,1171.9 832.3,1173.2 832.4,1174.5 832.6,1175.8 832.8,1177.1 833.0,1178.4 833.1,1179.6 833.3,1180.9 833.5,1182.1 833.6,1183.4 833.8,1184.6 834.0,1185.8 834.2,1187.0 834.3,1188.1 834.5,1189.3 834.7,1190.4 834.8,1191.5 835.0,1192.6 835.2,1193.7 835.3,1194.7 835.5,1195.7 835.7,1196.8 835.8,1197.7 836.0,1198.7 836.3,1200.3 836.6,1201.8 836.8,1203.3 837.1,1204.7 837.3,1206.0 837.6,1207.3 837.8,1208.6 838.1,1209.7 838.3,1210.9 838.6,1212.0 838.9,1213.1 839.1,1214.1 839.4,1215.1 839.7,1216.1 840.0,1217.1 840.3,1218.1 840.6,1219.0 841.0,1220.0 841.6,1221.4 842.2,1222.6 842.8,1223.8 843.4,1224.9 844.1,1226.0 844.8,1227.0 845.5,1228.0 846.2,1228.9 846.9,1229.9 847.6,1230.9 848.3,1231.9 849.0,1233.0 849.6,1234.0 850.2,1235.1 850.8,1236.2 851.5,1237.3 852.1,1238.4 852.7,1239.5 853.3,1240.6 853.9,1241.6 854.5,1242.7 855.2,1243.8 855.8,1244.8 856.4,1245.8 857.0,1246.7 857.8,1247.9 858.6,1249.1 859.4,1250.3 860.2,1251.5 861.1,1252.6 861.9,1253.7 862.7,1254.6 863.5,1255.5 864.2,1256.3 865.0,1257.0 866.2,1257.9 867.4,1258.6 868.6,1259.1 869.7,1259.3 870.9,1259.2 872.0,1258.7 872.8,1258.2 873.5,1257.4 874.3,1256.5 875.0,1255.5 875.8,1254.4 876.5,1253.1 877.2,1251.8 878.0,1250.4 878.7,1249.0 879.2,1248.0 879.6,1246.9 880.1,1245.7 880.5,1244.5 881.0,1243.2 881.5,1241.9 881.9,1240.5 882.4,1239.2 882.8,1238.0 883.3,1236.8 883.7,1235.6 884.1,1234.6 884.6,1233.7 885.0,1233.0 886.2,1231.5 887.3,1230.6 888.4,1230.2 889.5,1230.3 890.7,1230.7 891.5,1231.1 892.2,1231.7 893.0,1232.5 893.8,1233.4 894.6,1234.5 895.4,1235.7 896.2,1237.1 897.0,1238.7 897.4,1239.6 897.8,1240.5 898.3,1241.6 898.7,1242.7 899.1,1243.9 899.6,1245.1 900.0,1246.4 900.5,1247.7 900.9,1248.9 901.4,1250.2 901.8,1251.5 902.3,1252.7 902.7,1253.9 903.1,1255.0 903.6,1256.0 904.0,1257.0 904.7,1258.5 905.4,1259.9 906.0,1261.3 906.7,1262.7 907.4,1264.0 908.1,1265.1 908.7,1266.1 909.4,1267.0 910.0,1267.6 910.7,1268.0 911.7,1268.1 912.7,1267.5 913.7,1266.4 914.7,1265.1 915.8,1263.8 917.0,1262.7 917.9,1262.1 919.0,1261.5 920.0,1261.0 921.2,1260.4 922.3,1259.9 923.5,1259.3 924.6,1258.6 925.7,1257.8 926.7,1257.0 927.6,1256.1 928.5,1255.1 929.3,1254.0 930.2,1252.8 931.0,1251.7 931.8,1250.5 932.6,1249.4 933.3,1248.3 934.0,1247.4 934.7,1246.7 936.2,1245.2 937.4,1244.2 938.5,1243.7 940.0,1244.0 940.8,1244.4 941.5,1245.1 942.4,1245.9 943.2,1246.9 944.1,1247.9 945.0,1249.0 946.0,1250.1 947.0,1251.1 948.0,1252.0 949.0,1252.7 950.0,1253.3 951.0,1253.9 952.1,1254.5 953.2,1255.1 954.3,1255.7 955.4,1256.3 956.5,1257.0 957.6,1257.8 958.7,1258.7 959.5,1259.5 960.3,1260.3 961.1,1261.2 961.9,1262.1 962.7,1263.1 963.4,1264.0 964.2,1265.0 965.0,1266.0 965.8,1267.0 966.6,1268.0 967.4,1268.9 968.2,1269.9 969.0,1270.7 969.9,1271.7 970.9,1272.7 971.8,1273.8 972.8,1275.0 973.8,1276.1 974.8,1277.2 975.8,1278.1 976.8,1279.0 977.7,1279.6 978.5,1280.0 979.3,1280.2 980.0,1280.0 980.5,1279.6 981.0,1279.0 981.4,1278.3 981.7,1277.3 982.1,1276.3 982.4,1275.1 982.7,1273.8 983.0,1272.4 983.2,1271.0 983.5,1269.6 983.8,1268.1 984.1,1266.7 984.3,1265.3 984.7,1263.9 985.0,1262.7 985.3,1261.5 985.7,1260.2 986.0,1258.9 986.4,1257.5 986.7,1256.1 987.1,1254.6 987.5,1253.2 987.8,1251.8 988.2,1250.4 988.6,1249.1 988.9,1247.9 989.3,1246.8 989.6,1245.9 990.0,1245.1 990.4,1244.4 990.7,1244.0 991.5,1243.7 992.2,1244.1 992.9,1245.1 993.7,1246.5 994.4,1248.3 995.2,1250.2 996.0,1252.0 996.4,1252.9 996.8,1253.9 997.3,1255.0 997.7,1256.3 998.1,1257.5 998.6,1258.8 999.1,1260.1 999.5,1261.5 1000.0,1262.8 1000.4,1264.0 1000.9,1265.2 1001.4,1266.4 1001.8,1267.4 1002.3,1268.3 1002.7,1269.0 1004.0,1270.8 1005.3,1272.1 1006.5,1272.8 1007.8,1272.8 1009.0,1272.0 1009.5,1271.5 1009.9,1270.9 1010.4,1270.1 1010.8,1269.3 1011.3,1268.3 1011.7,1267.3 1012.1,1266.1 1012.6,1264.8 1013.0,1263.5 1013.4,1262.0 1013.9,1260.4 1014.3,1258.8 1014.7,1257.0 1014.9,1256.1 1015.1,1255.1 1015.3,1254.1 1015.5,1253.0 1015.7,1251.9 1015.9,1250.8 1016.1,1249.6 1016.3,1248.3 1016.4,1247.1 1016.6,1245.8 1016.8,1244.5 1017.0,1243.2 1017.2,1241.9 1017.4,1240.5 1017.6,1239.2 1017.8,1237.9 1018.0,1236.6 1018.1,1235.3 1018.3,1234.0 1018.5,1232.7 1018.7,1231.5 1018.9,1230.3 1019.1,1229.2 1019.4,1228.0 1019.6,1227.0 1019.8,1226.0 1020.0,1225.0 1020.4,1223.5 1020.8,1222.0 1021.2,1220.5 1021.6,1219.1 1022.0,1217.7 1022.4,1216.4 1022.9,1215.2 1023.3,1214.0 1023.7,1212.9 1024.2,1211.8 1024.6,1210.8 1025.0,1209.9 1025.4,1209.0 1025.9,1208.1 1026.3,1207.4 1026.7,1206.7 1028.0,1205.3 1029.2,1205.0 1030.4,1205.1 1031.7,1205.0 1033.0,1204.0 1033.6,1203.3 1034.1,1202.4 1034.7,1201.4 1035.3,1200.3 1035.9,1199.1 1036.5,1197.9 1037.1,1196.6 1037.7,1195.3 1038.3,1194.1 1038.8,1192.9 1039.4,1191.8 1040.0,1190.7 1040.7,1189.5 1041.3,1188.3 1042.0,1187.1 1042.6,1186.0 1043.2,1184.8 1043.8,1183.8 1044.5,1182.7 1045.2,1181.8 1045.9,1180.8 1046.7,1180.0 1047.8,1179.2 1048.9,1178.7 1050.1,1178.4 1051.3,1178.2 1052.6,1177.8 1053.8,1177.2 1054.9,1176.2 1056.0,1174.7 1056.4,1173.9 1056.8,1173.0 1057.1,1172.0 1057.5,1171.0 1057.8,1169.8 1058.2,1168.6 1058.5,1167.4 1058.8,1166.1 1059.1,1164.7 1059.4,1163.4 1059.7,1162.0 1060.1,1160.6 1060.4,1159.3 1060.7,1157.9 1061.0,1156.6 1061.3,1155.3 1061.6,1154.0 1062.0,1152.9 1062.3,1151.7 1062.7,1150.7 1063.2,1149.3 1063.8,1148.0 1064.3,1146.8 1064.9,1145.7 1065.5,1144.6 1066.0,1143.6 1066.6,1142.6 1067.2,1141.5 1067.8,1140.5 1068.4,1139.5 1069.0,1138.4 1069.5,1137.2 1070.1,1136.0 1070.7,1134.7 1071.1,1133.7 1071.5,1132.7 1072.0,1131.6 1072.4,1130.5 1072.8,1129.4 1073.2,1128.2 1073.6,1127.1 1074.1,1125.9 1074.5,1124.8 1074.9,1123.6 1075.3,1122.4 1075.8,1121.2 1076.2,1120.0 1076.6,1118.8 1077.0,1117.6 1077.4,1116.4 1077.9,1115.3 1078.3,1114.1 1078.7,1113.0 1079.1,1111.8 1079.6,1110.7 1080.0,1109.6 1080.5,1108.5 1080.9,1107.4 1081.4,1106.4 1081.8,1105.3 1082.3,1104.2 1082.7,1103.1 1083.1,1102.0 1083.6,1100.9 1084.0,1099.8 1084.5,1098.6 1084.9,1097.4 1085.4,1096.1 1085.8,1094.8 1086.3,1093.4 1086.7,1092.0 1087.0,1091.0 1087.3,1090.0 1087.6,1089.0 1087.9,1087.9 1088.2,1086.9 1088.5,1085.8 1088.8,1084.7 1089.1,1083.6 1089.4,1082.4 1089.7,1081.3 1090.0,1080.1 1090.3,1079.0 1090.6,1077.8 1090.8,1076.6 1091.1,1075.4 1091.4,1074.2 1091.7,1072.9 1092.0,1071.7 1092.3,1070.4 1092.6,1069.1 1092.9,1067.9 1093.2,1066.6 1093.5,1065.3 1093.8,1064.0 1094.1,1062.7 1094.4,1061.3 1094.7,1060.0 1094.9,1058.9 1095.2,1057.8 1095.4,1056.7 1095.7,1055.5 1095.9,1054.4 1096.2,1053.2 1096.5,1052.0 1096.7,1050.9 1097.0,1049.7 1097.2,1048.5 1097.5,1047.3 1097.8,1046.0 1098.0,1044.8 1098.3,1043.6 1098.5,1042.4 1098.8,1041.1 1099.1,1039.9 1099.3,1038.6 1099.6,1037.4 1099.8,1036.1 1100.1,1034.9 1100.3,1033.6 1100.5,1032.4 1100.8,1031.1 1101.0,1029.9 1101.2,1028.6 1101.5,1027.4 1101.7,1026.1 1101.9,1024.9 1102.1,1023.7 1102.3,1022.4 1102.5,1021.2 1102.7,1020.0 1102.9,1018.8 1103.1,1017.6 1103.2,1016.3 1103.4,1015.1 1103.5,1013.9 1103.7,1012.7 1103.8,1011.4 1104.0,1010.2 1104.1,1009.0 1104.3,1007.7 1104.4,1006.5 1104.5,1005.2 1104.6,1004.0 1104.7,1002.8 1104.9,1001.5 1105.0,1000.3 1105.1,999.1 1105.2,997.8 1105.3,996.6 1105.4,995.4 1105.5,994.2 1105.7,993.0 1105.8,991.8 1105.9,990.5 1106.0,989.3 1106.1,988.2 1106.2,987.0 1106.3,985.8 1106.5,984.6 1106.6,983.4 1106.7,982.3 1106.9,981.1 1107.0,980.0 1107.2,978.7 1107.3,977.4 1107.5,976.1 1107.6,974.8 1107.8,973.5 1108.0,972.2 1108.1,970.9 1108.3,969.7 1108.5,968.4 1108.6,967.1 1108.8,965.8 1108.9,964.6 1109.1,963.3 1109.3,962.1 1109.4,960.8 1109.6,959.6 1109.8,958.4 1110.0,957.2 1110.1,956.0 1110.3,954.8 1110.5,953.6 1110.7,952.5 1110.9,951.4 1111.0,950.3 1111.2,949.2 1111.4,948.1 1111.6,947.0 1111.8,946.0 1112.0,945.0 1112.3,943.5 1112.6,942.0 1113.0,940.6 1113.3,939.2 1113.6,937.8 1114.0,936.4 1114.3,935.1 1114.7,933.9 1115.0,932.6 1115.4,931.4 1115.8,930.2 1116.1,929.1 1116.5,928.0 1116.8,926.9 1117.2,925.8 1117.5,924.8 1117.9,923.9 1118.2,922.9 1118.5,922.0 1119.1,920.4 1119.7,919.0 1120.2,917.7 1120.8,916.6 1121.3,915.6 1121.9,914.6 1122.4,913.7 1122.9,912.8 1123.5,911.9 1124.0,911.0 1124.6,910.0 1125.2,909.2 1125.8,908.5 1126.4,907.8 1127.0,907.0 1127.6,906.0 1128.3,904.6 1129.0,902.7 1129.3,901.9 1129.5,901.1 1129.8,900.2 1130.1,899.4 1130.4,898.4 1130.7,897.5 1131.0,896.5 1131.4,895.4 1131.7,894.3 1132.0,893.2 1132.3,892.1 1132.7,890.9 1133.0,889.7 1133.3,888.5 1133.6,887.2 1134.0,885.9 1134.3,884.6 1134.6,883.2 1134.9,881.8 1135.2,880.4 1135.5,879.0 1135.7,877.5 1136.0,876.0 1136.2,875.0 1136.3,874.0 1136.5,873.0 1136.6,872.0 1136.8,871.0 1137.0,869.9 1137.1,868.8 1137.3,867.7 1137.4,866.6 1137.6,865.5 1137.7,864.4 1137.9,863.2 1138.0,862.1 1138.1,860.9 1138.3,859.7 1138.4,858.6 1138.6,857.4 1138.7,856.1 1138.8,854.9 1139.0,853.7 1139.1,852.5 1139.2,851.2 1139.4,849.9 1139.5,848.7 1139.6,847.4 1139.7,846.1 1139.9,844.8 1140.0,843.5 1140.1,842.2 1140.2,840.9 1140.4,839.6 1140.5,838.3 1140.6,837.0 1140.7,835.7 1140.9,834.3 1141.0,833.0 1141.1,831.9 1141.2,830.8 1141.3,829.7 1141.4,828.6 1141.5,827.4 1141.6,826.3 1141.7,825.1 1141.8,824.0 1141.9,822.8 1142.0,821.6 1142.1,820.5 1142.2,819.3 1142.3,818.1 1142.4,816.9 1142.5,815.7 1142.6,814.5 1142.7,813.3 1142.8,812.0 1142.8,810.8 1142.9,809.6 1143.0,808.4 1143.1,807.1 1143.2,805.9 1143.3,804.7 1143.4,803.4 1143.5,802.2 1143.6,801.0 1143.7,799.7 1143.7,798.5 1143.8,797.2 1143.9,796.0 1144.0,794.7 1144.1,793.5 1144.2,792.3 1144.3,791.0 1144.3,789.8 1144.4,788.6 1144.5,787.3 1144.6,786.1 1144.7,784.9 1144.8,783.6 1144.8,782.4 1144.9,781.2 1145.0,780.0 1145.1,778.8 1145.2,777.6 1145.2,776.3 1145.3,775.1 1145.4,773.9 1145.5,772.6 1145.5,771.3 1145.6,770.1 1145.7,768.8 1145.7,767.5 1145.8,766.3 1145.9,765.0 1145.9,763.7 1146.0,762.4 1146.1,761.1 1146.1,759.9 1146.2,758.6 1146.2,757.3 1146.3,756.0 1146.4,754.7 1146.4,753.5 1146.5,752.2 1146.6,750.9 1146.6,749.7 1146.7,748.4 1146.8,747.2 1146.8,746.0 1146.9,744.7 1146.9,743.5 1147.0,742.3 1147.1,741.1 1147.1,739.9 1147.2,738.7 1147.3,737.6 1147.3,736.4 1147.4,735.3 1147.5,734.1 1147.5,733.0 1147.6,731.9 1147.7,730.8 1147.8,729.8 1147.8,728.7 1147.9,727.7 1148.0,726.7 1148.1,725.2 1148.2,723.7 1148.4,722.2 1148.5,720.8 1148.6,719.3 1148.7,717.9 1148.9,716.5 1149.0,715.1 1149.1,713.8 1149.3,712.4 1149.4,711.1 1149.5,709.8 1149.7,708.6 1149.8,707.3 1149.9,706.1 1150.1,704.9 1150.2,703.7 1150.4,702.6 1150.5,701.5 1150.7,700.4 1150.8,699.3 1150.9,698.3 1151.1,697.3 1151.2,696.4 1151.4,695.4 1151.5,694.5 1151.7,693.6 1151.8,692.8 1152.0,692.0 1152.5,689.8 1153.0,687.8 1153.5,686.0 1154.0,684.5 1154.5,683.1 1155.0,682.1 1155.5,681.3 1156.0,680.9 1156.5,680.8 1157.0,681.0 1157.3,681.4 1157.5,681.9 1157.8,682.6 1158.1,683.5 1158.3,684.6 1158.6,685.7 1158.8,687.0 1159.1,688.3 1159.3,689.7 1159.5,691.2 1159.8,692.7 1160.0,694.2 1160.3,695.7 1160.5,697.2 1160.8,698.6 1161.0,700.0 1161.2,701.1 1161.4,702.3 1161.6,703.5 1161.8,704.8 1162.0,706.1 1162.1,707.5 1162.3,708.9 1162.5,710.3 1162.7,711.6 1162.9,713.0 1163.1,714.4 1163.3,715.7 1163.5,717.0 1163.7,718.2 1163.9,719.4 1164.1,720.5 1164.3,721.5 1164.5,722.4 1164.8,723.3 1165.0,724.0 1166.1,726.2 1167.2,727.6 1168.5,728.2 1169.6,727.9 1170.7,726.7 1171.0,726.1 1171.3,725.5 1171.6,724.8 1171.9,724.0 1172.2,723.1 1172.4,722.2 1172.7,721.1 1172.9,719.9 1173.2,718.6 1173.4,717.2 1173.7,715.6 1173.9,714.0 1174.2,712.1 1174.4,710.1 1174.7,708.0 1174.8,707.1 1174.9,706.2 1175.0,705.3 1175.1,704.2 1175.2,703.2 1175.3,702.1 1175.4,701.0 1175.5,699.8 1175.6,698.6 1175.7,697.3 1175.8,696.1 1175.9,694.8 1176.0,693.5 1176.0,692.1 1176.1,690.8 1176.2,689.4 1176.3,688.1 1176.4,686.7 1176.5,685.3 1176.6,683.9 1176.7,682.5 1176.8,681.1 1176.9,679.8 1177.0,678.4 1177.1,677.0 1177.2,675.7 1177.3,674.4 1177.4,673.1 1177.5,671.8 1177.6,670.5 1177.7,669.3 1177.8,668.1 1177.9,666.9 1178.0,665.8 1178.1,664.7 1178.2,663.7 1178.4,662.7 1178.5,661.7 1178.6,660.8 1178.7,660.0 1179.0,657.9 1179.3,656.0 1179.7,654.2 1180.0,652.6 1180.3,651.1 1180.7,649.7 1181.0,648.5 1181.4,647.4 1181.7,646.4 1182.1,645.6 1182.5,644.8 1182.8,644.2 1183.2,643.6 1183.6,643.1 1184.0,642.7 1184.9,642.3 1185.7,642.6 1186.6,643.5 1187.6,644.7 1188.6,646.2 1189.6,647.6 1190.7,649.0 1191.4,649.8 1192.1,650.8 1192.9,651.9 1193.7,653.0 1194.5,654.2 1195.3,655.4 1196.2,656.5 1197.0,657.6 1197.8,658.5 1198.6,659.2 1199.3,659.7 1200.0,660.0 1201.0,660.0 1201.9,659.5 1202.8,658.7 1203.6,657.7 1204.4,656.4 1205.2,655.0 1205.9,653.5 1206.7,652.0 1207.1,651.0 1207.5,649.9 1207.9,648.7 1208.3,647.3 1208.6,645.9 1209.0,644.4 1209.3,643.0 1209.7,641.6 1210.1,640.3 1210.4,639.1 1210.8,638.0 1211.2,637.1 1211.6,636.4 1212.0,636.0 1212.8,635.7 1213.6,635.7 1214.5,636.1 1215.4,636.8 1216.2,638.0 1217.1,639.6 1217.9,641.6 1218.7,644.0 1218.9,644.8 1219.1,645.5 1219.3,646.4 1219.5,647.2 1219.7,648.1 1219.9,649.1 1220.1,650.1 1220.3,651.1 1220.5,652.1 1220.6,653.2 1220.8,654.3 1221.0,655.4 1221.2,656.6 1221.4,657.7 1221.5,659.0 1221.7,660.2 1221.9,661.5 1222.1,662.8 1222.2,664.1 1222.4,665.5 1222.6,666.9 1222.8,668.3 1222.9,669.7 1223.1,671.1 1223.3,672.6 1223.5,674.1 1223.6,675.6 1223.8,677.1 1224.0,678.7 1224.1,679.7 1224.2,680.7 1224.3,681.8 1224.4,682.9 1224.5,684.1 1224.7,685.2 1224.8,686.4 1224.9,687.6 1225.0,688.9 1225.1,690.2 1225.2,691.4 1225.3,692.7 1225.4,694.1 1225.5,695.4 1225.6,696.7 1225.7,698.1 1225.8,699.5 1225.9,700.8 1226.0,702.2 1226.1,703.6 1226.2,705.0 1226.3,706.3 1226.4,707.7 1226.5,709.1 1226.6,710.5 1226.7,711.8 1226.8,713.2 1226.9,714.5 1227.0,715.9 1227.1,717.2 1227.2,718.5 1227.3,719.7 1227.5,721.0 1227.6,722.2 1227.7,723.5 1227.8,724.6 1227.9,725.8 1228.0,726.9 1228.1,728.0 1228.3,729.1 1228.4,730.1 1228.5,731.1 1228.6,732.1 1228.7,733.0 1228.9,733.9 1229.0,734.7 1229.4,736.9 1229.8,739.0 1230.2,740.9 1230.6,742.7 1231.0,744.3 1231.5,745.7 1231.9,747.0 1232.4,748.2 1232.9,749.2 1233.3,750.1 1233.8,750.9 1234.2,751.5 1234.7,752.0 1235.1,752.5 1235.6,752.8 1236.0,753.0 1236.6,752.9 1237.1,752.4 1237.7,751.5 1238.3,750.2 1238.8,748.7 1239.4,747.1 1240.0,745.5 1240.5,743.9 1241.1,742.5 1241.6,741.3 1242.2,740.4 1242.7,740.0 1243.5,740.0 1244.3,740.5 1245.1,741.3 1245.8,742.5 1246.6,743.9 1247.4,745.3 1248.2,746.7 1249.0,748.0 1249.7,749.1 1250.4,750.3 1251.1,751.7 1251.8,753.1 1252.5,754.5 1253.2,755.8 1253.9,757.0 1254.6,757.9 1255.3,758.5 1256.0,758.7 1256.7,758.6 1257.4,758.2 1258.1,757.6 1258.8,756.7 1259.5,755.7 1260.2,754.5 1260.9,753.1 1261.5,751.5 1262.1,749.8 1262.7,748.0 1262.9,747.1 1263.2,746.1 1263.4,745.0 1263.6,743.8 1263.8,742.6 1264.0,741.3 1264.1,740.0 1264.3,738.6 1264.5,737.2 1264.6,735.8 1264.8,734.3 1264.9,732.9 1265.1,731.5 1265.3,730.1 1265.4,728.7 1265.6,727.4 1265.8,726.2 1265.9,725.0 1266.1,723.8 1266.3,722.8 1266.5,721.8 1266.7,721.0 1267.4,718.6 1268.1,716.5 1268.9,714.8 1269.7,713.5 1270.5,712.8 1271.2,712.6 1272.0,713.0 1272.3,713.4 1272.6,713.9 1272.9,714.4 1273.3,715.1 1273.6,715.8 1273.9,716.7 1274.2,717.6 1274.5,718.7 1274.8,719.9 1275.1,721.2 1275.4,722.6 1275.7,724.2 1276.0,725.9 1276.3,727.8 1276.7,729.8 1277.0,732.0 1277.1,732.8 1277.2,733.7 1277.4,734.7 1277.5,735.7 1277.6,736.7 1277.7,737.7 1277.9,738.9 1278.0,740.0 1278.1,741.2 1278.3,742.4 1278.4,743.6 1278.5,744.8 1278.6,746.1 1278.8,747.4 1278.9,748.7 1279.0,750.1 1279.2,751.4 1279.3,752.8 1279.4,754.2 1279.6,755.6 1279.7,756.9 1279.8,758.3 1280.0,759.7 1280.1,761.1 1280.2,762.5 1280.4,763.9 1280.5,765.2 1280.6,766.6 1280.8,767.9 1280.9,769.3 1281.0,770.6 1281.2,771.9 1281.3,773.2 1281.4,774.4 1281.5,775.6 1281.7,776.8 1281.8,778.0 1281.9,779.1 1282.1,780.2 1282.2,781.2 1282.3,782.2 1282.4,783.2 1282.6,784.1 1282.7,785.0 1283.0,787.0 1283.3,789.0 1283.6,790.8 1283.9,792.6 1284.2,794.3 1284.5,795.9 1284.8,797.3 1285.1,798.7 1285.4,800.0 1285.7,801.2 1286.0,802.3 1286.3,803.2 1286.6,804.1 1286.9,804.9 1287.1,805.5 1287.4,806.0 1287.7,806.4 1288.0,806.7 1288.4,806.9 1288.9,806.9 1289.3,806.7 1289.7,806.2 1290.2,805.5 1290.6,804.5 1291.0,803.3 1291.4,801.8 1291.8,800.0 1292.2,798.0 1292.6,795.6 1293.0,793.0 1293.1,792.2 1293.2,791.4 1293.3,790.6 1293.4,789.8 1293.5,788.9 1293.6,788.0 1293.7,787.1 1293.8,786.1 1293.9,785.2 1294.0,784.2 1294.1,783.1 1294.2,782.1 1294.3,781.1 1294.3,780.0 1294.4,778.9 1294.5,777.8 1294.6,776.6 1294.7,775.5 1294.8,774.3 1294.9,773.1 1295.0,771.9 1295.1,770.6 1295.2,769.4 1295.2,768.1 1295.3,766.9 1295.4,765.6 1295.5,764.2 1295.6,762.9 1295.7,761.6 1295.8,760.2 1295.8,758.8 1295.9,757.5 1296.0,756.1 1296.1,754.7 1296.2,753.2 1296.3,751.8 1296.4,750.4 1296.5,748.9 1296.6,747.5 1296.6,746.0 1296.7,744.5 1296.8,743.0 1296.9,741.5 1297.0,740.0 1297.1,739.0 1297.1,738.0 1297.2,736.9 1297.2,735.8 1297.3,734.8 1297.4,733.7 1297.4,732.6 1297.5,731.4 1297.6,730.3 1297.6,729.2 1297.7,728.0 1297.7,726.8 1297.8,725.6 1297.9,724.5 1297.9,723.3 1298.0,722.0 1298.1,720.8 1298.1,719.6 1298.2,718.4 1298.2,717.1 1298.3,715.9 1298.4,714.6 1298.4,713.3 1298.5,712.1 1298.6,710.8 1298.6,709.5 1298.7,708.2 1298.7,706.9 1298.8,705.6 1298.9,704.3 1298.9,703.0 1299.0,701.7 1299.1,700.4 1299.1,699.1 1299.2,697.8 1299.2,696.5 1299.3,695.2 1299.4,693.9 1299.4,692.6 1299.5,691.3 1299.6,690.0 1299.6,688.8 1299.7,687.5 1299.7,686.2 1299.8,684.9 1299.9,683.6 1299.9,682.4 1300.0,681.1 1300.0,679.9 1300.1,678.6 1300.2,677.4 1300.2,676.1 1300.3,674.9 1300.3,673.7 1300.4,672.5 1300.4,671.3 1300.5,670.1 1300.6,668.9 1300.6,667.8 1300.7,666.6 1300.7,665.5 1300.8,664.4 1300.8,663.2 1300.9,662.2 1300.9,661.1 1301.0,660.0 1301.1,658.6 1301.1,657.2 1301.2,655.8 1301.3,654.4 1301.3,653.0 1301.4,651.6 1301.5,650.2 1301.5,648.9 1301.6,647.5 1301.7,646.1 1301.7,644.7 1301.8,643.4 1301.9,642.0 1301.9,640.6 1302.0,639.3 1302.0,638.0 1302.1,636.6 1302.2,635.3 1302.2,634.0 1302.3,632.7 1302.3,631.4 1302.4,630.1 1302.4,628.8 1302.5,627.6 1302.6,626.3 1302.6,625.1 1302.7,623.8 1302.7,622.6 1302.8,621.4 1302.8,620.2 1302.9,619.1 1303.0,617.9 1303.0,616.7 1303.1,615.6 1303.1,614.5 1303.2,613.4 1303.2,612.3 1303.3,611.3 1303.4,610.2 1303.4,609.2 1303.5,608.2 1303.5,607.2 1303.6,606.2 1303.6,605.3 1303.7,604.3 1303.8,603.4 1303.8,602.5 1303.9,601.7 1303.9,600.8 1304.0,600.0 1304.2,597.7 1304.4,595.5 1304.5,593.4 1304.7,591.5 1304.9,589.7 1305.1,588.1 1305.2,586.6 1305.4,585.2 1305.6,584.0 1305.8,582.9 1305.9,581.9 1306.1,581.1 1306.3,580.4 1306.5,579.8 1306.6,579.4 1306.8,579.1 1307.0,579.0 1307.2,579.0 1307.4,579.2 1307.5,579.5 1307.7,579.9 1307.9,580.5 1308.1,581.3 1308.2,582.2 1308.4,583.3 1308.6,584.6 1308.8,586.0 1308.9,587.5 1309.1,589.3 1309.3,591.2 1309.5,593.3 1309.8,595.6 1310.0,598.0 1310.1,598.8 1310.2,599.7 1310.2,600.6 1310.3,601.5 1310.4,602.4 1310.5,603.4 1310.6,604.5 1310.7,605.5 1310.8,606.6 1310.9,607.7 1310.9,608.8 1311.0,610.0 1311.1,611.2 1311.2,612.4 1311.3,613.6 1311.4,614.8 1311.5,616.1 1311.6,617.4 1311.7,618.7 1311.8,620.0 1311.9,621.3 1312.0,622.6 1312.1,624.0 1312.2,625.3 1312.3,626.7 1312.4,628.1 1312.5,629.4 1312.6,630.8 1312.7,632.2 1312.9,633.5 1313.0,634.9 1313.1,636.3 1313.1,637.6 1313.2,639.0 1313.3,640.4 1313.4,641.7 1313.5,643.0 1313.6,644.4 1313.7,645.7 1313.8,647.0 1313.9,648.3 1314.0,649.5 1314.1,650.8 1314.2,652.0 1314.2,653.2 1314.3,654.4 1314.4,655.6 1314.5,656.7 1314.6,657.8 1314.6,658.9 1314.7,660.0 1314.8,661.4 1314.9,662.9 1315.0,664.3 1315.0,665.8 1315.1,667.2 1315.2,668.6 1315.2,670.0 1315.3,671.4 1315.4,672.8 1315.4,674.2 1315.5,675.6 1315.5,677.0 1315.5,678.3 1315.6,679.7 1315.6,681.0 1315.7,682.3 1315.7,683.6 1315.8,684.9 1315.8,686.1 1315.9,687.4 1315.9,688.6 1315.9,689.8 1316.0,691.0 1316.0,692.2 1316.1,693.3 1316.1,694.4 1316.2,695.5 1316.3,696.6 1316.3,697.7 1316.4,698.7 1316.5,699.7 1316.5,700.6 1316.6,701.6 1316.7,702.5 1316.8,703.3 1316.9,704.2 1317.0,705.0 1317.4,707.3 1317.7,709.4 1318.2,711.3 1318.6,712.9 1319.1,714.3 1319.6,715.5 1320.1,716.5 1320.6,717.3 1321.2,717.9 1321.7,718.4 1322.2,718.6 1322.7,718.7 1323.2,718.6 1323.7,718.3 1324.2,717.7 1324.8,717.0 1325.3,716.1 1325.8,715.0 1326.4,713.7 1326.9,712.3 1327.5,710.7 1328.0,708.9 1328.5,707.0 1329.0,705.0 1329.2,704.1 1329.4,703.2 1329.6,702.2 1329.8,701.2 1330.0,700.1 1330.1,699.0 1330.3,697.8 1330.5,696.6 1330.7,695.3 1330.9,694.0 1331.1,692.7 1331.3,691.4 1331.5,690.0 1331.6,688.6 1331.8,687.3 1332.0,685.9 1332.2,684.5 1332.4,683.2 1332.6,681.8 1332.7,680.5 1332.9,679.1 1333.1,677.8 1333.3,676.6 1333.5,675.3 1333.6,674.1 1333.8,673.0 1334.0,671.9 1334.2,670.8 1334.3,669.8 1334.5,668.9 1334.7,668.0 1335.1,666.0 1335.5,664.1 1335.9,662.2 1336.3,660.4 1336.7,658.8 1337.1,657.3 1337.5,655.9 1337.9,654.8 1338.3,653.9 1338.7,653.2 1339.1,652.8 1339.5,652.8 1340.0,653.0 1340.3,653.3 1340.6,653.7 1340.9,654.3 1341.2,654.9 1341.5,655.6 1341.8,656.5 1342.1,657.4 1342.4,658.4 1342.7,659.5 1343.0,660.7 1343.4,661.9 1343.7,663.2 1344.0,664.6 1344.3,666.0 1344.6,667.5 1344.9,669.0 1345.2,670.5 1345.5,672.1 1345.8,673.7 1346.1,675.4 1346.4,677.0 1346.7,678.7 1346.8,679.6 1347.0,680.6 1347.1,681.6 1347.3,682.7 1347.4,683.7 1347.6,684.8 1347.7,686.0 1347.9,687.1 1348.0,688.3 1348.1,689.5 1348.3,690.7 1348.4,692.0 1348.5,693.2 1348.7,694.5 1348.8,695.8 1348.9,697.1 1349.1,698.4 1349.2,699.7 1349.3,701.0 1349.5,702.3 1349.6,703.6 1349.7,704.9 1349.8,706.3 1350.0,707.6 1350.1,708.9 1350.2,710.2 1350.3,711.5 1350.5,712.8 1350.6,714.0 1350.7,715.3 1350.9,716.5 1351.0,717.8 1351.1,719.0 1351.2,720.2 1351.4,721.3 1351.5,722.4 1351.6,723.6 1351.7,724.6 1351.9,725.7 1352.0,726.7 1352.2,728.2 1352.4,729.8 1352.6,731.4 1352.8,732.9 1353.0,734.5 1353.1,736.1 1353.3,737.6 1353.5,739.1 1353.7,740.6 1353.9,742.1 1354.0,743.6 1354.2,745.0 1354.4,746.4 1354.6,747.7 1354.8,749.0 1354.9,750.2 1355.1,751.4 1355.3,752.5 1355.5,753.6 1355.7,754.6 1355.9,755.5 1356.1,756.3 1356.3,757.0 1356.6,757.7 1356.8,758.2 1357.0,758.7 1357.6,759.5 1358.3,759.9 1359.0,759.8 1359.8,759.3 1360.6,758.4 1361.3,757.0 1362.1,755.3 1362.8,753.2 1363.4,750.8 1364.0,748.0 1364.1,747.2 1364.3,746.4 1364.4,745.6 1364.5,744.7 1364.6,743.7 1364.8,742.7 1364.9,741.7 1365.0,740.6 1365.1,739.5 1365.2,738.3 1365.3,737.1 1365.4,735.9 1365.5,734.7 1365.6,733.4 1365.7,732.2 1365.8,730.9 1365.9,729.5 1366.0,728.2 1366.1,726.9 1366.2,725.5 1366.3,724.2 1366.4,722.8 1366.5,721.4 1366.5,720.1 1366.6,718.7 1366.7,717.3 1366.8,716.0 1366.9,714.6 1367.0,713.3 1367.1,712.0 1367.2,710.7 1367.2,709.4 1367.3,708.1 1367.4,706.9 1367.5,705.6 1367.6,704.4 1367.7,703.3 1367.8,702.2 1367.9,701.1 1368.0,700.0 1368.1,698.6 1368.3,697.1 1368.4,695.6 1368.5,694.2 1368.7,692.7 1368.8,691.2 1368.9,689.7 1369.1,688.2 1369.2,686.8 1369.3,685.3 1369.5,683.9 1369.6,682.4 1369.7,681.0 1369.9,679.7 1370.0,678.3 1370.1,677.0 1370.3,675.8 1370.4,674.6 1370.5,673.4 1370.7,672.3 1370.8,671.2 1371.0,670.2 1371.1,669.2 1371.3,668.3 1371.4,667.5 1371.5,666.8 1371.7,666.1 1371.8,665.5 1372.0,665.0 1372.7,663.4 1373.3,662.4 1374.0,662.3 1374.8,663.2 1375.5,665.2 1376.2,668.4 1377.0,673.0 1377.1,673.7 1377.2,674.4 1377.3,675.2 1377.4,676.0 1377.5,676.8 1377.6,677.6 1377.7,678.5 1377.8,679.4 1377.9,680.4 1378.0,681.3 1378.1,682.3 1378.2,683.3 1378.3,684.4 1378.4,685.5 1378.5,686.6 1378.6,687.7 1378.7,688.8 1378.8,690.0 1378.9,691.1 1379.1,692.3 1379.2,693.5 1379.3,694.8 1379.4,696.0 1379.5,697.3 1379.6,698.5 1379.7,699.8 1379.8,701.1 1379.9,702.4 1380.0,703.8 1380.1,705.1 1380.2,706.4 1380.3,707.8 1380.4,709.1 1380.6,710.5 1380.7,711.8 1380.8,713.2 1380.9,714.6 1381.0,716.0 1381.1,717.3 1381.2,718.7 1381.3,720.1 1381.4,721.4 1381.5,722.8 1381.6,724.2 1381.7,725.5 1381.8,726.9 1381.9,728.3 1382.0,729.6 1382.1,730.9 1382.2,732.3 1382.3,733.6 1382.3,734.9 1382.4,736.2 1382.5,737.5 1382.6,738.7 1382.7,740.0 1382.8,741.2 1382.9,742.3 1382.9,743.5 1383.0,744.7 1383.1,745.9 1383.2,747.1 1383.2,748.3 1383.3,749.5 1383.4,750.7 1383.5,751.9 1383.5,753.1 1383.6,754.3 1383.7,755.5 1383.7,756.7 1383.8,758.0 1383.9,759.2 1384.0,760.4 1384.0,761.6 1384.1,762.9 1384.2,764.1 1384.2,765.3 1384.3,766.6 1384.4,767.8 1384.4,769.1 1384.5,770.3 1384.6,771.5 1384.6,772.8 1384.7,774.0 1384.7,775.3 1384.8,776.5 1384.9,777.7 1384.9,779.0 1385.0,780.2 1385.1,781.5 1385.1,782.7 1385.2,783.9 1385.2,785.2 1385.3,786.4 1385.4,787.7 1385.4,788.9 1385.5,790.1 1385.6,791.4 1385.6,792.6 1385.7,793.8 1385.7,795.0 1385.8,796.3 1385.9,797.5 1385.9,798.7 1386.0,799.9 1386.1,801.1 1386.1,802.3 1386.2,803.5 1386.2,804.7 1386.3,805.9 1386.4,807.1 1386.4,808.3 1386.5,809.5 1386.6,810.7 1386.6,811.8 1386.7,813.0 1386.8,814.3 1386.8,815.5 1386.9,816.8 1387.0,818.1 1387.1,819.4 1387.1,820.6 1387.2,821.9 1387.3,823.2 1387.4,824.5 1387.4,825.7 1387.5,827.0 1387.6,828.3 1387.6,829.5 1387.7,830.8 1387.8,832.1 1387.9,833.3 1387.9,834.6 1388.0,835.9 1388.1,837.1 1388.2,838.4 1388.2,839.7 1388.3,840.9 1388.4,842.2 1388.4,843.4 1388.5,844.6 1388.6,845.9 1388.7,847.1 1388.7,848.4 1388.8,849.6 1388.9,850.8 1389.0,852.1 1389.0,853.3 1389.1,854.5 1389.2,855.7 1389.2,856.9 1389.3,858.1 1389.4,859.3 1389.5,860.5 1389.5,861.7 1389.6,862.9 1389.7,864.1 1389.8,865.3 1389.8,866.4 1389.9,867.6 1390.0,868.8 1390.0,869.9 1390.1,871.1 1390.2,872.2 1390.3,873.3 1390.3,874.5 1390.4,875.6 1390.5,876.7 1390.6,877.8 1390.6,878.9 1390.7,880.0 1390.8,881.4 1390.9,882.7 1391.0,884.1 1391.1,885.4 1391.1,886.8 1391.2,888.1 1391.3,889.4 1391.4,890.7 1391.5,892.0 1391.6,893.4 1391.7,894.7 1391.8,896.0 1391.8,897.2 1391.9,898.5 1392.0,899.8 1392.1,901.1 1392.2,902.3 1392.3,903.6 1392.4,904.8 1392.4,906.1 1392.5,907.3 1392.6,908.5 1392.7,909.7 1392.8,910.9 1392.9,912.1 1393.0,913.3 1393.1,914.5 1393.1,915.6 1393.2,916.8 1393.3,918.0 1393.4,919.1 1393.5,920.2 1393.6,921.3 1393.7,922.5 1393.8,923.6 1393.9,924.6 1394.0,925.7 1394.1,926.8 1394.2,927.9 1394.3,928.9 1394.4,929.9 1394.5,931.0 1394.6,932.0 1394.7,933.0 1394.9,934.5 1395.0,936.0 1395.2,937.5 1395.4,939.0 1395.5,940.4 1395.7,941.9 1395.9,943.3 1396.1,944.7 1396.3,946.1 1396.4,947.5 1396.6,948.8 1396.8,950.1 1397.0,951.4 1397.2,952.7 1397.4,953.9 1397.6,955.2 1397.8,956.3 1398.0,957.5 1398.1,958.6 1398.3,959.7 1398.5,960.8 1398.7,961.8 1398.9,962.8 1399.1,963.8 1399.3,964.7 1399.5,965.6 1399.6,966.4 1399.8,967.2 1400.0,968.0 1400.7,970.4 1401.4,971.9 1402.1,972.6 1402.8,973.1 1403.5,973.6 1404.3,974.4 1405.0,976.0 1405.3,976.9 1405.6,977.8 1405.9,978.9 1406.2,980.0 1406.5,981.2 1406.9,982.4 1407.2,983.7 1407.5,985.0 1407.8,986.3 1408.2,987.6 1408.5,989.0 1408.8,990.3 1409.1,991.5 1409.4,992.8 1409.8,993.9 1410.1,995.0 1410.4,996.1 1410.7,997.0 1411.2,998.6 1411.8,1000.2 1412.3,1001.7 1412.9,1003.2 1413.4,1004.5 1413.9,1005.7 1414.4,1006.6 1415.0,1007.4 1415.5,1007.8 1416.0,1008.0 1416.5,1007.9 1417.0,1007.6 1417.5,1007.1 1418.0,1006.3 1418.5,1005.3 1419.0,1004.1 1419.5,1002.7 1420.0,1001.0 1420.5,999.1 1421.0,997.0 1421.2,996.2 1421.4,995.2 1421.6,994.2 1421.8,993.2 1422.0,992.1 1422.2,990.9 1422.4,989.7 1422.6,988.4 1422.8,987.2 1423.0,985.8 1423.2,984.5 1423.4,983.1 1423.6,981.7 1423.8,980.3 1424.0,978.9 1424.2,977.5 1424.5,976.1 1424.7,974.8 1424.9,973.4 1425.1,972.0 1425.3,970.7 1425.5,969.4 1425.7,968.2 1425.9,967.0 1426.1,965.8 1426.3,964.7 1426.5,963.7 1426.7,962.7 1427.0,961.1 1427.4,959.5 1427.7,958.0 1428.1,956.5 1428.4,955.1 1428.8,953.8 1429.1,952.5 1429.5,951.3 1429.8,950.1 1430.1,949.1 1430.5,948.0 1430.8,947.1 1431.1,946.2 1431.4,945.4 1431.7,944.7 1432.0,944.0 1433.4,941.6 1434.6,941.1 1436.0,942.7 1436.3,943.3 1436.6,944.1 1437.0,945.1 1437.3,946.2 1437.6,947.4 1438.0,948.7 1438.3,950.0 1438.7,951.4 1439.0,952.8 1439.4,954.2 1439.7,955.5 1440.0,956.8 1440.4,958.0 1440.7,959.0 1441.0,960.0 1441.5,961.6 1442.0,963.0 1442.4,964.4 1442.9,965.6 1443.3,966.6 1443.8,967.6 1444.4,968.4 1445.0,969.0 1446.2,969.3 1447.7,968.9 1449.2,968.4 1450.7,968.2 1452.0,969.0 1452.4,969.6 1452.9,970.4 1453.3,971.3 1453.7,972.3 1454.0,973.4 1454.4,974.6 1454.8,975.8 1455.1,977.1 1455.5,978.5 1455.8,979.8 1456.2,981.2 1456.6,982.6 1457.0,984.0 1457.3,985.0 1457.6,986.1 1457.9,987.1 1458.2,988.2 1458.5,989.4 1458.8,990.5 1459.1,991.7 1459.5,992.9 1459.8,994.1 1460.1,995.3 1460.4,996.5 1460.7,997.7 1461.1,998.9 1461.4,1000.2 1461.7,1001.4 1462.0,1002.6 1462.4,1003.8 1462.7,1005.0 1463.0,1006.2 1463.4,1007.4 1463.7,1008.6 1464.1,1009.8 1464.4,1011.0 1464.8,1012.2 1465.1,1013.4 1465.5,1014.6 1465.8,1015.8 1466.2,1017.0 1466.6,1018.3 1466.9,1019.5 1467.3,1020.7 1467.6,1021.9 1468.0,1023.1 1468.3,1024.3 1468.7,1025.5 1469.0,1026.7 1469.3,1027.9 1469.7,1029.0 1470.0,1030.1 1470.3,1031.3 1470.6,1032.3 1470.9,1033.4 1471.2,1034.5 1471.5,1035.6 1471.9,1036.7 1472.2,1037.8 1472.5,1039.0 1472.8,1040.1 1473.1,1041.3 1473.4,1042.6 1473.7,1043.8 1474.0,1045.2 1474.4,1046.6 1474.7,1048.0 1474.9,1049.0 1475.1,1050.0 1475.4,1051.1 1475.6,1052.1 1475.8,1053.2 1476.1,1054.3 1476.3,1055.5 1476.5,1056.6 1476.8,1057.8 1477.0,1058.9 1477.3,1060.1 1477.5,1061.3 1477.7,1062.6 1478.0,1063.8 1478.2,1065.0 1478.4,1066.2 1478.7,1067.5 1478.9,1068.7 1479.2,1070.0 1479.4,1071.2 1479.6,1072.5 1479.9,1073.8 1480.1,1075.0 1480.3,1076.3 1480.6,1077.5 1480.8,1078.8 1481.0,1080.0 1481.2,1081.2 1481.4,1082.3 1481.6,1083.5 1481.8,1084.8 1482.0,1086.0 1482.2,1087.2 1482.5,1088.5 1482.7,1089.7 1482.9,1091.0 1483.1,1092.3 1483.3,1093.6 1483.5,1094.8 1483.7,1096.1 1483.9,1097.4 1484.1,1098.7 1484.3,1099.9 1484.5,1101.2 1484.7,1102.4 1484.9,1103.6 1485.1,1104.8 1485.3,1106.0 1485.5,1107.2 1485.6,1108.3 1485.8,1109.5 1486.0,1110.6 1486.2,1111.7 1486.4,1112.7 1486.5,1113.7 1486.7,1114.7 1487.0,1116.2 1487.2,1117.7 1487.5,1119.2 1487.7,1120.6 1487.9,1122.0 1488.2,1123.4 1488.4,1124.7 1488.6,1125.9 1488.8,1127.1 1489.0,1128.3 1489.2,1129.4 1489.4,1130.5 1489.6,1131.6 1489.8,1132.6 1490.1,1133.5 1490.3,1134.4 1490.5,1135.2 1490.7,1136.0 1491.3,1138.1 1491.9,1139.7 1492.6,1140.9 1493.2,1141.7 1493.9,1142.0 1494.7,1142.0 1495.3,1141.7 1495.9,1141.3 1496.6,1140.7 1497.3,1139.9 1498.0,1138.9 1498.8,1137.7 1499.5,1136.4 1500.3,1134.8 1501.0,1133.0 1501.3,1132.1 1501.6,1131.2 1502.0,1130.1 1502.3,1129.0 1502.7,1127.9 1503.0,1126.6 1503.4,1125.3 1503.7,1124.0 1504.1,1122.7 1504.4,1121.3 1504.8,1119.9 1505.1,1118.6 1505.4,1117.2 1505.8,1115.9 1506.1,1114.6 1506.5,1113.3 1506.8,1112.1 1507.1,1111.0 1507.4,1109.9 1507.7,1108.9 1508.0,1108.0 1508.6,1106.3 1509.1,1104.7 1509.7,1103.3 1510.2,1102.1 1510.7,1101.0 1511.2,1100.0 1511.6,1099.1 1512.1,1098.3 1512.5,1097.6 1513.0,1097.0 1514.3,1095.6 1515.6,1095.4 1517.0,1096.5 1517.5,1097.1 1518.0,1097.9 1518.6,1098.7 1519.2,1099.7 1519.8,1100.8 1520.4,1102.1 1521.0,1103.4 1521.6,1104.8 1522.1,1106.4 1522.7,1108.0 1523.0,1109.0 1523.3,1110.0 1523.6,1111.0 1523.9,1112.1 1524.2,1113.2 1524.5,1114.4 1524.8,1115.6 1525.1,1116.8 1525.4,1118.1 1525.7,1119.4 1526.0,1120.7 1526.3,1122.0 1526.6,1123.3 1526.9,1124.6 1527.1,1126.0 1527.4,1127.3 1527.7,1128.7 1528.0,1130.0 1528.2,1131.1 1528.5,1132.2 1528.7,1133.4 1528.9,1134.5 1529.1,1135.7 1529.4,1136.8 1529.6,1138.0 1529.8,1139.2 1530.0,1140.4 1530.3,1141.6 1530.5,1142.8 1530.7,1144.0 1530.9,1145.2 1531.1,1146.5 1531.4,1147.7 1531.6,1148.9 1531.8,1150.1 1532.1,1151.3 1532.3,1152.5 1532.5,1153.7 1532.8,1154.8 1533.0,1156.0 1533.3,1157.2 1533.5,1158.5 1533.8,1159.7 1534.0,1161.0 1534.3,1162.3 1534.6,1163.5 1534.9,1164.8 1535.1,1166.1 1535.4,1167.4 1535.7,1168.6 1536.0,1169.9 1536.2,1171.1 1536.5,1172.3 1536.8,1173.5 1537.1,1174.7 1537.4,1175.9 1537.6,1177.0 1537.9,1178.0 1538.2,1179.1 1538.4,1180.1 1538.7,1181.0 1539.2,1182.6 1539.6,1184.0 1540.0,1185.4 1540.4,1186.6 1540.9,1187.8 1541.3,1188.9 1541.7,1190.0 1542.1,1191.0 1542.6,1191.9 1543.0,1192.9 1543.5,1193.8 1544.0,1194.7 1544.8,1196.0 1545.6,1197.1 1546.5,1198.1 1547.4,1199.1 1548.2,1200.0 1549.1,1200.8 1549.9,1201.7 1550.7,1202.7 1551.5,1203.9 1552.3,1205.2 1553.1,1206.4 1553.8,1207.7 1554.5,1208.8 1555.3,1209.9 1556.0,1210.7 1557.3,1212.0 1558.5,1213.0 1559.7,1213.4 1561.0,1213.0 1561.6,1212.4 1562.2,1211.6 1562.9,1210.5 1563.5,1209.3 1564.2,1208.0 1564.8,1206.6 1565.4,1205.3 1566.1,1203.9 1566.7,1202.7 1567.3,1201.5 1567.9,1200.1 1568.5,1198.7 1569.1,1197.2 1569.7,1195.9 1570.3,1194.6 1570.9,1193.5 1571.4,1192.6 1572.0,1192.0 1573.2,1191.7 1574.4,1192.4 1575.6,1193.5 1577.0,1194.7 1577.9,1195.4 1578.9,1196.4 1580.0,1197.5 1581.0,1198.5 1582.1,1199.4 1583.1,1199.9 1584.0,1200.0 1584.8,1199.5 1585.6,1198.6 1586.2,1197.3 1586.9,1195.8 1587.6,1194.4 1588.3,1193.0 1589.0,1192.0 1590.1,1190.8 1591.2,1189.6 1592.4,1188.6 1593.6,1188.1 1594.7,1188.0 1595.5,1188.3 1596.3,1188.9 1597.0,1189.6 1597.8,1190.6 1598.5,1191.8 1599.3,1193.2 1600.0,1194.7 1600.4,1195.6 1600.8,1196.7 1601.2,1197.9 1601.5,1199.1 1601.9,1200.4 1602.3,1201.8 1602.7,1203.2 1603.0,1204.5 1603.4,1205.9 1603.8,1207.2 1604.2,1208.5 1604.6,1209.6 1605.0,1210.7 1605.6,1212.1 1606.2,1213.5 1606.8,1214.8 1607.5,1216.1 1608.1,1217.2 1608.7,1218.3 1609.4,1219.3 1610.0,1220.2 1610.7,1221.0 1611.9,1222.0 1613.1,1222.5 1614.4,1222.8 1615.7,1223.2 1617.0,1224.0 1617.8,1224.8 1618.7,1225.6 1619.5,1226.6 1620.4,1227.7 1621.3,1228.8 1622.2,1229.9 1623.1,1231.0 1624.0,1232.0 1624.8,1232.9 1625.7,1234.0 1626.6,1235.1 1627.5,1236.2 1628.4,1237.2 1629.3,1238.1 1630.2,1239.0 1631.1,1239.6 1632.0,1240.0 1633.2,1240.1 1634.3,1239.6 1635.5,1238.9 1636.7,1238.1 1637.8,1237.4 1638.9,1236.9 1640.0,1237.0 1640.9,1237.4 1641.7,1238.0 1642.5,1238.8 1643.3,1239.8 1644.1,1240.9 1644.9,1242.2 1645.7,1243.5 1646.7,1245.0 1647.2,1245.8 1647.8,1246.8 1648.4,1247.8 1649.0,1248.8 1649.7,1249.9 1650.3,1251.1 1650.9,1252.2 1651.6,1253.4 1652.2,1254.6 1652.9,1255.7 1653.5,1256.9 1654.2,1258.0 1654.8,1259.1 1655.4,1260.1 1656.0,1261.0 1656.8,1262.2 1657.5,1263.4 1658.3,1264.5 1659.0,1265.6 1659.7,1266.7 1660.4,1267.7 1661.1,1268.7 1661.9,1269.6 1662.6,1270.4 1663.3,1271.2 1664.0,1272.0 1665.1,1273.1 1666.3,1274.2 1667.4,1275.1 1668.6,1275.9 1669.7,1276.5 1670.9,1276.9 1672.0,1277.0 1673.1,1276.9 1674.2,1276.5 1675.3,1275.9 1676.4,1275.1 1677.5,1274.2 1678.7,1273.1 1680.0,1272.0 1680.8,1271.3 1681.6,1270.5 1682.5,1269.6 1683.4,1268.6 1684.3,1267.6 1685.3,1266.6 1686.2,1265.6 1687.1,1264.5 1688.1,1263.6 1689.0,1262.6 1689.8,1261.8 1690.7,1261.0 1691.8,1260.0 1692.9,1259.0 1694.0,1258.1 1695.1,1257.2 1696.1,1256.4 1697.1,1255.7 1698.1,1255.2 1699.1,1254.8 1700.0,1254.7 1701.1,1254.9 1702.1,1255.5 1703.1,1256.4 1704.1,1257.5 1705.0,1258.7 1705.8,1259.9 1706.7,1261.0 1707.5,1262.1 1708.3,1263.5 1709.0,1264.9 1709.7,1266.2 1710.4,1267.4 1711.2,1268.4 1712.0,1269.0 1713.3,1269.4 1714.6,1269.5 1716.1,1269.1 1717.4,1268.2 1718.7,1266.7 1719.1,1266.0 1719.5,1265.1 1720.0,1264.0 1720.4,1262.9 1720.7,1261.7 1721.1,1260.4 1721.5,1259.1 1721.9,1257.7 1722.3,1256.4 1722.6,1255.1 1723.0,1253.8 1723.3,1252.7 1723.7,1251.6 1724.0,1250.7 1724.6,1249.0 1725.2,1247.4 1725.8,1245.9 1726.3,1244.6 1726.8,1243.6 1727.4,1242.9 1728.0,1242.7 1728.7,1243.0 1729.3,1243.9 1730.0,1245.2 1730.8,1246.7 1731.5,1248.2 1732.2,1249.6 1733.0,1250.7 1734.1,1251.9 1735.1,1253.1 1736.2,1254.1 1737.4,1254.6 1738.7,1254.7 1739.6,1254.4 1740.5,1253.8 1741.5,1253.0 1742.6,1252.1 1743.6,1251.1 1744.6,1250.0 1745.7,1249.0 1746.7,1248.0 1747.6,1247.1 1748.5,1246.2 1749.4,1245.2 1750.3,1244.3 1751.1,1243.3 1752.0,1242.3 1752.9,1241.5 1753.8,1240.7 1754.7,1240.0 1755.9,1239.3 1757.0,1238.7 1758.2,1238.2 1759.4,1237.8 1760.5,1237.5 1761.6,1237.2 1762.7,1237.0 1764.1,1237.2 1765.5,1237.9 1766.7,1238.6 1767.9,1238.5 1769.0,1237.0 1769.3,1236.4 1769.5,1235.6 1769.7,1234.8 1770.0,1233.9 1770.2,1232.9 1770.4,1231.8 1770.6,1230.7 1770.8,1229.5 1771.0,1228.3 1771.2,1227.0 1771.4,1225.7 1771.6,1224.3 1771.8,1222.9 1771.9,1221.5 1772.1,1220.1 1772.3,1218.7 1772.5,1217.3 1772.7,1215.8 1772.8,1214.4 1773.0,1213.0 1773.1,1211.9 1773.3,1210.8 1773.4,1209.6 1773.5,1208.4 1773.6,1207.1 1773.7,1205.8 1773.8,1204.5 1773.9,1203.2 1774.0,1201.9 1774.1,1200.5 1774.2,1199.2 1774.3,1197.8 1774.4,1196.5 1774.5,1195.2 1774.6,1193.8 1774.7,1192.5 1774.9,1191.2 1775.0,1189.9 1775.1,1188.7 1775.2,1187.5 1775.3,1186.3 1775.4,1185.1 1775.6,1184.0 1775.7,1183.0 1775.8,1182.0 1776.0,1181.0 1776.3,1179.2 1776.6,1177.6 1777.0,1176.2 1777.3,1174.8 1777.6,1173.5 1778.0,1172.4 1778.4,1171.3 1778.8,1170.2 1779.2,1169.2 1779.6,1168.2 1780.0,1167.1 1780.5,1166.1 1781.0,1165.0 1781.6,1163.8 1782.2,1162.6 1782.8,1161.5 1783.4,1160.4 1784.1,1159.3 1784.8,1158.2 1785.5,1157.1 1786.2,1156.1 1786.9,1155.0 1787.6,1154.0 1788.3,1153.0 1789.0,1152.0 1789.7,1150.9 1790.5,1149.8 1791.2,1148.6 1792.0,1147.5 1792.7,1146.4 1793.4,1145.3 1794.2,1144.3 1794.9,1143.3 1795.6,1142.4 1796.3,1141.7 1797.0,1141.0 1798.2,1140.1 1799.4,1139.5 1800.6,1139.2 1801.7,1139.0 1802.9,1138.8 1804.0,1138.7 1805.4,1138.9 1806.8,1139.7 1808.2,1140.3 1809.5,1140.2 1810.7,1138.7 1811.0,1138.0 1811.2,1137.3 1811.4,1136.5 1811.7,1135.5 1811.9,1134.5 1812.1,1133.4 1812.3,1132.3 1812.5,1131.1 1812.7,1129.9 1812.9,1128.6 1813.1,1127.2 1813.2,1125.9 1813.4,1124.5 1813.6,1123.1 1813.8,1121.7 1813.9,1120.2 1814.1,1118.8 1814.3,1117.4 1814.5,1116.1 1814.7,1114.7 1814.9,1113.6 1815.0,1112.4 1815.2,1111.2 1815.4,1109.9 1815.5,1108.6 1815.7,1107.3 1815.8,1106.0 1816.0,1104.7 1816.1,1103.3 1816.3,1102.0 1816.5,1100.6 1816.6,1099.3 1816.8,1097.9 1816.9,1096.6 1817.1,1095.3 1817.3,1094.0 1817.4,1092.8 1817.6,1091.5 1817.8,1090.3 1818.0,1089.2 1818.1,1088.0 1818.3,1087.0 1818.5,1086.0 1818.7,1085.0 1819.1,1083.3 1819.4,1081.8 1819.8,1080.3 1820.1,1079.0 1820.5,1077.7 1820.9,1076.5 1821.3,1075.4 1821.7,1074.4 1822.1,1073.4 1822.6,1072.5 1823.0,1071.6 1823.5,1070.8 1824.0,1070.0 1825.0,1068.9 1826.2,1068.4 1827.4,1068.2 1828.6,1068.0 1829.9,1067.6 1831.0,1066.7 1832.0,1065.0 1832.3,1064.3 1832.6,1063.5 1832.9,1062.7 1833.2,1061.8 1833.4,1060.9 1833.7,1060.0 1833.9,1059.0 1834.2,1057.9 1834.4,1056.8 1834.6,1055.7 1834.9,1054.5 1835.1,1053.3 1835.3,1052.0 1835.5,1050.7 1835.7,1049.3 1835.9,1047.9 1836.2,1046.4 1836.4,1044.9 1836.6,1043.3 1836.8,1041.7 1837.0,1040.0 1837.1,1039.1 1837.2,1038.1 1837.3,1037.0 1837.5,1036.0 1837.6,1034.9 1837.7,1033.8 1837.8,1032.6 1837.9,1031.4 1838.0,1030.2 1838.1,1029.0 1838.2,1027.8 1838.3,1026.5 1838.4,1025.2 1838.5,1023.9 1838.6,1022.6 1838.7,1021.3 1838.8,1019.9 1838.9,1018.6 1839.0,1017.3 1839.1,1015.9 1839.2,1014.6 1839.3,1013.2 1839.4,1011.9 1839.5,1010.6 1839.6,1009.3 1839.7,1007.9 1839.8,1006.7 1839.9,1005.4 1840.0,1004.1 1840.1,1002.9 1840.2,1001.7 1840.3,1000.5 1840.4,999.3 1840.5,998.2 1840.6,997.1 1840.7,996.0 1840.8,995.0 1840.9,994.0 1841.0,993.0 1841.2,991.4 1841.4,989.8 1841.5,988.3 1841.7,986.8 1841.9,985.4 1842.0,984.0 1842.2,982.7 1842.4,981.4 1842.6,980.1 1842.7,978.9 1842.9,977.8 1843.1,976.6 1843.2,975.5 1843.4,974.5 1843.6,973.4 1843.8,972.4 1844.0,971.4 1844.2,970.4 1844.4,969.5 1844.6,968.5 1844.8,967.6 1845.0,966.7 1845.4,965.1 1845.9,963.5 1846.3,962.1 1846.8,960.7 1847.3,959.4 1847.8,958.2 1848.3,957.1 1848.8,956.1 1849.3,955.2 1849.8,954.3 1850.2,953.6 1850.7,953.0 1852.1,951.8 1853.4,951.5 1854.7,952.0 1856.0,953.0 1856.6,953.8 1857.1,955.1 1857.7,956.7 1858.2,958.4 1858.7,960.1 1859.3,961.5 1859.8,962.5 1860.4,963.0 1861.0,962.7 1861.3,962.3 1861.6,961.6 1861.9,960.8 1862.1,959.8 1862.4,958.7 1862.7,957.5 1863.0,956.2 1863.3,954.8 1863.6,953.4 1863.9,951.9 1864.2,950.4 1864.5,948.9 1864.8,947.4 1865.1,946.0 1865.4,944.6 1865.8,943.3 1866.1,942.1 1866.4,941.0 1866.7,940.0 1867.3,938.3 1867.9,936.7 1868.5,935.1 1869.1,933.7 1869.8,932.4 1870.4,931.3 1871.0,930.3 1871.7,929.6 1872.3,929.2 1873.0,929.0 1873.7,929.2 1874.4,929.6 1875.1,930.4 1875.8,931.3 1876.5,932.5 1877.2,933.8 1877.9,935.3 1878.6,936.8 1879.3,938.4 1880.0,940.0 1880.4,940.9 1880.8,941.9 1881.1,943.0 1881.5,944.1 1881.9,945.3 1882.3,946.5 1882.6,947.7 1883.0,949.0 1883.4,950.2 1883.8,951.5 1884.1,952.8 1884.5,954.1 1884.9,955.3 1885.2,956.5 1885.6,957.7 1886.0,958.9 1886.3,960.0 1886.7,961.0 1887.2,962.4 1887.7,963.9 1888.2,965.4 1888.7,966.9 1889.2,968.3 1889.7,969.7 1890.2,971.0 1890.6,972.3 1891.1,973.4 1891.6,974.3 1892.1,975.1 1892.5,975.7 1893.0,976.0 1893.7,976.3 1894.3,976.4 1895.0,976.3 1895.7,976.0 1896.3,975.2 1896.9,974.0 1897.6,972.2 1898.1,969.8 1898.7,966.7 1898.8,966.0 1898.9,965.2 1899.0,964.4 1899.1,963.5 1899.2,962.6 1899.3,961.6 1899.4,960.6 1899.5,959.6 1899.6,958.6 1899.7,957.5 1899.8,956.4 1899.9,955.2 1900.0,954.1 1900.1,952.9 1900.2,951.7 1900.3,950.4 1900.4,949.1 1900.5,947.9 1900.5,946.6 1900.6,945.3 1900.7,943.9 1900.8,942.6 1900.9,941.2 1901.0,939.9 1901.1,938.5 1901.1,937.1 1901.2,935.7 1901.3,934.3 1901.4,933.0 1901.5,931.6 1901.6,930.2 1901.7,928.8 1901.7,927.4 1901.8,926.0 1901.9,924.7 1902.0,923.3 1902.1,922.0 1902.2,920.6 1902.3,919.3 1902.3,918.0 1902.4,916.7 1902.5,915.5 1902.6,914.2 1902.7,913.0 1902.8,911.8 1902.9,910.6 1903.0,909.3 1903.1,908.1 1903.2,906.8 1903.2,905.5 1903.3,904.3 1903.4,903.0 1903.5,901.7 1903.6,900.4 1903.7,899.1 1903.8,897.8 1903.9,896.5 1904.0,895.2 1904.1,893.9 1904.2,892.6 1904.2,891.3 1904.3,890.0 1904.4,888.7 1904.5,887.4 1904.6,886.1 1904.7,884.8 1904.8,883.6 1904.9,882.3 1905.0,881.0 1905.1,879.8 1905.2,878.6 1905.2,877.3 1905.3,876.1 1905.4,874.9 1905.5,873.7 1905.6,872.6 1905.7,871.4 1905.8,870.3 1905.9,869.1 1906.0,868.0 1906.1,867.0 1906.2,865.9 1906.2,864.9 1906.3,863.8 1906.4,862.8 1906.5,861.9 1906.6,860.9 1906.7,860.0 1906.9,858.2 1907.1,856.5 1907.2,854.8 1907.4,853.2 1907.6,851.6 1907.8,850.1 1907.9,848.6 1908.1,847.2 1908.3,845.9 1908.4,844.6 1908.6,843.3 1908.8,842.1 1909.0,841.0 1909.1,839.9 1909.3,838.9 1909.5,837.9 1909.7,836.9 1909.9,836.1 1910.1,835.2 1910.3,834.4 1910.5,833.7 1910.7,833.0 1911.9,830.2 1913.3,829.0 1914.7,829.2 1916.0,830.7 1916.3,831.3 1916.7,832.1 1917.0,833.1 1917.4,834.2 1917.7,835.4 1918.1,836.6 1918.4,838.0 1918.8,839.4 1919.1,840.9 1919.4,842.3 1919.7,843.7 1920.1,845.2 1920.4,846.5 1920.7,847.8 1921.0,849.0 1921.3,850.3 1921.7,851.7 1922.0,853.1 1922.3,854.4 1922.6,855.8 1922.9,857.1 1923.2,858.4 1923.5,859.7 1923.8,860.9 1924.1,862.1 1924.4,863.1 1924.7,864.1 1925.0,865.0 1925.8,867.1 1926.6,868.8 1927.4,870.1 1928.2,870.8 1929.0,870.7 1929.4,870.3 1929.9,869.8 1930.3,869.1 1930.8,868.2 1931.2,867.1 1931.7,865.8 1932.1,864.1 1932.6,862.2 1933.0,860.0 1933.2,859.1 1933.3,858.2 1933.5,857.2 1933.6,856.1 1933.8,855.0 1933.9,853.9 1934.1,852.6 1934.2,851.4 1934.4,850.1 1934.5,848.8 1934.7,847.4 1934.8,846.0 1935.0,844.7 1935.2,843.3 1935.3,841.9 1935.5,840.5 1935.6,839.1 1935.8,837.8 1935.9,836.4 1936.1,835.1 1936.2,833.8 1936.4,832.5 1936.5,831.3 1936.7,830.2 1936.8,829.1 1937.0,828.0 1937.2,826.5 1937.4,825.1 1937.6,823.7 1937.9,822.2 1938.1,820.9 1938.3,819.5 1938.5,818.2 1938.7,816.9 1938.9,815.7 1939.1,814.5 1939.3,813.4 1939.5,812.2 1939.8,811.2 1940.0,810.2 1940.2,809.2 1940.5,808.3 1940.7,807.5 1941.0,806.7 1941.9,804.8 1942.8,803.5 1943.8,802.7 1944.8,802.1 1945.8,801.6 1946.7,801.0 1947.8,800.5 1948.9,800.3 1950.0,800.2 1951.0,799.5 1952.0,798.0 1952.3,797.3 1952.6,796.5 1952.9,795.7 1953.2,794.8 1953.5,793.9 1953.7,792.9 1954.0,791.9 1954.3,790.7 1954.5,789.5 1954.8,788.2 1955.0,786.8 1955.3,785.2 1955.5,783.6 1955.8,781.9 1956.0,780.0 1956.1,779.1 1956.2,778.1 1956.3,777.1 1956.4,776.1 1956.5,775.0 1956.6,773.8 1956.7,772.6 1956.8,771.4 1956.9,770.2 1957.0,768.9 1957.0,767.6 1957.1,766.3 1957.2,765.0 1957.3,763.6 1957.4,762.3 1957.5,760.9 1957.6,759.5 1957.6,758.2 1957.7,756.8 1957.8,755.4 1957.9,754.1 1958.0,752.8 1958.1,751.4 1958.2,750.2 1958.2,748.9 1958.3,747.6 1958.4,746.4 1958.5,745.3 1958.6,744.1 1958.7,743.0 1958.8,742.0 1958.9,741.0 1959.0,740.0 1959.2,738.3 1959.4,736.7 1959.6,735.2 1959.8,733.7 1960.0,732.3 1960.2,730.9 1960.4,729.6 1960.6,728.4 1960.8,727.2 1961.0,726.1 1961.2,725.0 1961.4,724.0 1961.6,723.0 1961.8,722.0 1962.1,721.1 1962.3,720.3 1962.5,719.5 1962.7,718.7 1963.5,716.3 1964.2,714.4 1965.0,713.1 1965.8,712.6 1966.7,713.0 1967.1,713.5 1967.5,714.2 1967.9,715.1 1968.4,716.2 1968.8,717.5 1969.3,718.8 1969.7,720.2 1970.2,721.6 1970.7,723.0 1971.1,724.3 1971.6,725.6 1972.0,726.7 1972.5,728.1 1973.0,729.7 1973.6,731.4 1974.1,733.1 1974.6,734.8 1975.1,736.2 1975.6,737.4 1976.1,738.1 1976.5,738.4 1977.0,738.0 1977.2,737.6 1977.4,737.1 1977.6,736.4 1977.8,735.6 1978.0,734.8 1978.2,733.8 1978.4,732.7 1978.6,731.5 1978.8,730.3 1979.0,729.0 1979.2,727.7 1979.3,726.3 1979.5,724.8 1979.7,723.4 1979.9,721.9 1980.1,720.4 1980.3,718.9 1980.4,717.4 1980.6,715.9 1980.8,714.4 1981.0,713.0 1981.1,711.9 1981.3,710.8 1981.4,709.6 1981.6,708.3 1981.7,707.1 1981.9,705.8 1982.0,704.4 1982.1,703.1 1982.3,701.7 1982.4,700.3 1982.6,698.9 1982.7,697.5 1982.9,696.1 1983.0,694.7 1983.1,693.3 1983.3,692.0 1983.4,690.6 1983.6,689.3 1983.7,688.0 1983.9,686.8 1984.0,685.6 1984.1,684.4 1984.3,683.3 1984.4,682.2 1984.6,681.2 1984.7,680.3 1984.9,679.5 1985.0,678.7 1985.7,675.8 1986.3,673.8 1987.0,672.6 1987.7,672.0 1988.3,671.9 1989.0,672.0 1989.5,672.2 1990.0,672.6 1990.5,673.2 1991.0,674.1 1991.5,675.3 1992.0,676.8 1992.5,678.7 1993.0,681.0 1993.2,681.8 1993.3,682.7 1993.5,683.7 1993.6,684.8 1993.8,685.9 1993.9,687.0 1994.1,688.2 1994.2,689.5 1994.4,690.8 1994.5,692.1 1994.7,693.5 1994.8,694.8 1995.0,696.2 1995.2,697.6 1995.3,699.0 1995.5,700.4 1995.6,701.8 1995.8,703.2 1995.9,704.5 1996.1,705.8 1996.2,707.1 1996.4,708.4 1996.5,709.6 1996.7,710.8 1996.8,711.9 1997.0,713.0 1997.2,714.5 1997.4,716.0 1997.6,717.5 1997.9,719.0 1998.1,720.5 1998.3,721.9 1998.5,723.3 1998.7,724.7 1998.9,726.0 1999.1,727.3 1999.3,728.5 1999.5,729.7 1999.8,730.7 2000.0,731.7 2000.2,732.6 2000.5,733.4 2000.7,734.1 2001.0,734.7 2002.1,735.7 2003.2,735.4 2004.5,734.3 2005.6,732.9 2006.7,732.0 2007.8,731.0 2008.7,729.9 2009.6,729.1 2010.7,729.0 2011.5,729.3 2012.3,729.7 2013.3,730.3 2014.2,731.1 2015.2,732.3 2016.1,733.9 2017.0,736.0 2017.3,736.8 2017.5,737.6 2017.8,738.5 2018.1,739.5 2018.4,740.5 2018.6,741.6 2018.9,742.7 2019.2,743.8 2019.5,745.0 2019.7,746.3 2020.0,747.5 2020.3,748.8 2020.5,750.1 2020.8,751.4 2021.0,752.7 2021.3,754.0 2021.5,755.4 2021.8,756.7 2022.0,758.0 2022.2,759.4 2022.5,760.7 2022.7,762.0 2022.9,763.1 2023.1,764.3 2023.2,765.5 2023.4,766.7 2023.6,767.9 2023.7,769.2 2023.9,770.4 2024.0,771.7 2024.2,773.0 2024.3,774.3 2024.4,775.7 2024.6,777.0 2024.7,778.3 2024.9,779.6 2025.0,780.8 2025.1,782.1 2025.3,783.4 2025.4,784.6 2025.6,785.8 2025.7,786.9 2025.9,788.0 2026.0,789.1 2026.2,790.2 2026.4,791.2 2026.5,792.1 2026.7,793.0 2027.1,794.8 2027.5,796.6 2027.9,798.3 2028.3,799.9 2028.7,801.3 2029.2,802.6 2029.6,803.8 2030.1,804.8 2030.5,805.6 2031.0,806.2 2031.5,806.6 2032.0,806.7 2032.5,806.4 2033.1,805.7 2033.6,804.6 2034.2,803.1 2034.8,801.5 2035.4,799.9 2035.9,798.2 2036.5,796.6 2037.1,795.1 2037.6,794.0 2038.2,793.3 2038.7,793.0 2039.2,793.2 2039.7,793.8 2040.2,794.7 2040.6,795.8 2041.1,797.2 2041.5,798.7 2042.0,800.2 2042.4,801.7 2042.8,803.2 2043.2,804.6 2043.6,805.8 2044.0,806.7 2044.9,808.5 2045.6,809.9 2046.4,811.0 2047.2,811.8 2048.0,812.0 2048.8,811.5 2049.6,810.3 2050.4,808.9 2051.2,807.5 2052.1,806.6 2053.0,806.7 2053.5,807.2 2053.9,807.9 2054.4,808.9 2054.9,810.1 2055.4,811.3 2055.9,812.7 2056.4,814.1 2056.9,815.5 2057.4,816.8 2057.8,818.0 2058.3,819.1 2058.7,820.0 2059.6,822.0 2060.4,824.0 2061.2,825.6 2061.9,826.1 2062.7,825.0 2062.9,824.5 2063.1,823.9 2063.3,823.3 2063.5,822.6 2063.7,821.9 2063.9,821.1 2064.1,820.2 2064.3,819.2 2064.5,818.2 2064.7,817.1 2064.9,816.0 2065.1,814.7 2065.3,813.4 2065.5,812.0 2065.7,810.6 2065.9,809.0 2066.0,807.4 2066.2,805.7 2066.4,803.9 2066.5,802.0 2066.7,800.0 2066.8,799.1 2066.8,798.3 2066.9,797.4 2066.9,796.4 2067.0,795.5 2067.1,794.6 2067.1,793.6 2067.2,792.6 2067.2,791.6 2067.3,790.6 2067.3,789.5 2067.4,788.5 2067.4,787.4 2067.4,786.3 2067.5,785.2 2067.5,784.1 2067.6,783.0 2067.6,781.8 2067.7,780.7 2067.7,779.5 2067.8,778.3 2067.8,777.1 2067.8,775.9 2067.9,774.7 2067.9,773.4 2068.0,772.2 2068.0,770.9 2068.0,769.7 2068.1,768.4 2068.1,767.1 2068.2,765.8 2068.2,764.5 2068.2,763.2 2068.3,761.9 2068.3,760.6 2068.4,759.2 2068.4,757.9 2068.4,756.6 2068.5,755.2 2068.5,753.8 2068.6,752.5 2068.6,751.1 2068.7,749.7 2068.7,748.4 2068.7,747.0 2068.8,745.6 2068.8,744.2 2068.9,742.8 2068.9,741.4 2069.0,740.0 2069.0,738.9 2069.1,737.8 2069.1,736.7 2069.2,735.6 2069.2,734.5 2069.2,733.3 2069.3,732.1 2069.3,730.9 2069.4,729.7 2069.4,728.5 2069.4,727.2 2069.5,726.0 2069.5,724.7 2069.6,723.4 2069.6,722.2 2069.7,720.9 2069.7,719.6 2069.7,718.3 2069.8,716.9 2069.8,715.6 2069.9,714.3 2069.9,712.9 2070.0,711.6 2070.0,710.2 2070.0,708.9 2070.1,707.5 2070.1,706.2 2070.2,704.8 2070.2,703.5 2070.3,702.1 2070.3,700.8 2070.3,699.4 2070.4,698.1 2070.4,696.7 2070.5,695.4 2070.5,694.1 2070.6,692.7 2070.6,691.4 2070.7,690.1 2070.7,688.8 2070.8,687.5 2070.8,686.2 2070.9,684.9 2070.9,683.7 2070.9,682.4 2071.0,681.2 2071.0,679.9 2071.1,678.7 2071.1,677.5 2071.2,676.3 2071.2,675.1 2071.3,674.0 2071.3,672.8 2071.4,671.7 2071.4,670.6 2071.5,669.6 2071.5,668.5 2071.6,667.5 2071.6,666.4 2071.7,665.4 2071.7,664.5 2071.8,663.5 2071.8,662.6 2071.9,661.7 2071.9,660.8 2072.0,660.0 2072.1,657.8 2072.3,655.7 2072.5,653.8 2072.6,651.9 2072.8,650.2 2072.9,648.6 2073.1,647.1 2073.3,645.7 2073.4,644.4 2073.6,643.1 2073.8,642.0 2073.9,640.9 2074.1,639.8 2074.3,638.8 2074.5,637.9 2074.6,637.0 2074.8,636.2 2075.0,635.3 2075.1,634.5 2075.3,633.8 2075.5,633.0 2075.7,632.2 2075.8,631.5 2076.0,630.7 2076.6,628.4 2077.1,626.8 2077.7,625.7 2078.2,624.8 2078.8,624.2 2079.4,623.5 2080.0,622.7 2080.8,621.8 2081.6,621.3 2082.5,620.9 2083.4,620.2 2084.2,619.0 2085.0,617.0 2085.2,616.2 2085.4,615.4 2085.7,614.5 2085.9,613.6 2086.1,612.7 2086.3,611.6 2086.5,610.6 2086.7,609.5 2086.9,608.3 2087.1,607.1 2087.3,605.9 2087.4,604.6 2087.6,603.3 2087.8,602.0 2088.0,600.6 2088.2,599.1 2088.4,597.6 2088.6,596.1 2088.8,594.6 2089.0,593.0 2089.1,592.0 2089.2,591.0 2089.4,589.9 2089.5,588.7 2089.6,587.6 2089.7,586.4 2089.8,585.1 2090.0,583.9 2090.1,582.6 2090.2,581.3 2090.3,580.0 2090.5,578.6 2090.6,577.3 2090.7,575.9 2090.8,574.5 2090.9,573.2 2091.1,571.8 2091.2,570.5 2091.3,569.1 2091.4,567.8 2091.5,566.5 2091.7,565.1 2091.8,563.9 2091.9,562.6 2092.0,561.4 2092.2,560.2 2092.3,559.0 2092.4,557.9 2092.5,556.8 2092.6,555.8 2092.8,554.8 2092.9,553.9 2093.0,553.0 2093.3,550.9 2093.6,549.0 2093.9,547.2 2094.2,545.5 2094.5,544.0 2094.8,542.6 2095.2,541.4 2095.5,540.3 2095.8,539.4 2096.1,538.6 2096.4,537.9 2096.7,537.4 2097.0,537.0 2097.6,536.6 2098.2,536.7 2098.8,537.3 2099.4,538.4 2099.9,540.0 2100.5,542.2 2101.0,545.0 2101.1,545.8 2101.2,546.6 2101.4,547.5 2101.5,548.4 2101.6,549.4 2101.7,550.4 2101.8,551.5 2101.9,552.6 2102.0,553.7 2102.1,554.9 2102.2,556.1 2102.3,557.3 2102.4,558.6 2102.5,559.9 2102.6,561.2 2102.7,562.5 2102.8,563.8 2102.9,565.2 2103.0,566.5 2103.1,567.9 2103.2,569.2 2103.3,570.6 2103.4,572.0 2103.5,573.3 2103.6,574.7 2103.7,576.0 2103.8,577.4 2103.9,578.7 2104.0,580.0 2104.1,581.1 2104.2,582.3 2104.3,583.5 2104.3,584.7 2104.4,585.9 2104.5,587.1 2104.6,588.3 2104.6,589.5 2104.7,590.8 2104.8,592.0 2104.9,593.3 2104.9,594.5 2105.0,595.8 2105.1,597.0 2105.2,598.3 2105.2,599.6 2105.3,600.8 2105.4,602.1 2105.5,603.3 2105.6,604.6 2105.6,605.8 2105.7,607.1 2105.8,608.3 2105.9,609.5 2106.0,610.7 2106.0,612.0 2106.1,613.1 2106.2,614.3 2106.3,615.5 2106.4,616.6 2106.5,617.8 2106.6,618.9 2106.7,620.0 2106.8,621.4 2107.0,622.8 2107.1,624.1 2107.2,625.5 2107.4,626.8 2107.5,628.2 2107.6,629.5 2107.8,630.8 2107.9,632.1 2108.1,633.4 2108.2,634.7 2108.4,635.9 2108.5,637.2 2108.7,638.4 2108.8,639.6 2109.0,640.9 2109.2,642.1 2109.3,643.2 2109.5,644.4 2109.7,645.5 2109.8,646.7 2110.0,647.8 2110.2,648.9 2110.3,649.9 2110.5,651.0 2110.7,652.0 2111.0,653.4 2111.2,654.8 2111.5,656.1 2111.8,657.3 2112.1,658.5 2112.4,659.6 2112.7,660.7 2113.0,661.8 2113.3,662.8 2113.6,663.9 2113.9,664.9 2114.2,666.0 2114.5,667.0 2114.8,668.1 2115.1,669.3 2115.4,670.5 2115.7,671.7 2116.0,673.0 2116.2,674.1 2116.5,675.2 2116.7,676.3 2116.9,677.4 2117.1,678.5 2117.4,679.6 2117.6,680.8 2117.8,681.9 2118.0,683.1 2118.3,684.2 2118.5,685.4 2118.7,686.6 2118.9,687.9 2119.1,689.1 2119.4,690.4 2119.6,691.7 2119.8,693.0 2120.1,694.3 2120.3,695.7 2120.5,697.1 2120.8,698.5 2121.0,700.0 2121.2,701.0 2121.3,702.1 2121.5,703.1 2121.7,704.2 2121.9,705.3 2122.1,706.5 2122.2,707.6 2122.4,708.8 2122.6,709.9 2122.8,711.1 2123.0,712.3 2123.2,713.5 2123.4,714.7 2123.6,715.9 2123.8,717.1 2124.0,718.4 2124.1,719.6 2124.3,720.9 2124.5,722.1 2124.7,723.3 2124.9,724.6 2125.1,725.8 2125.3,727.1 2125.4,728.3 2125.6,729.5 2125.8,730.8 2125.9,732.0 2126.1,733.2 2126.3,734.4 2126.4,735.6 2126.6,736.8 2126.7,738.0 2126.8,739.3 2127.0,740.6 2127.1,741.9 2127.3,743.2 2127.4,744.6 2127.5,746.0 2127.7,747.3 2127.8,748.7 2127.9,750.1 2128.0,751.6 2128.1,753.0 2128.3,754.4 2128.4,755.8 2128.5,757.1 2128.6,758.5 2128.7,759.8 2128.8,761.2 2128.9,762.5 2129.0,763.8 2129.1,765.0 2129.2,766.2 2129.3,767.4 2129.4,768.5 2129.5,769.6 2129.6,770.6 2129.6,771.6 2129.7,772.6 2129.8,773.4 2129.9,774.2 2130.0,775.0 2130.5,778.5 2130.8,780.5 2131.2,781.5 2131.6,781.5 2132.0,781.0 2132.2,780.6 2132.5,780.2 2132.7,779.6 2133.0,778.8 2133.3,777.9 2133.5,776.8 2133.8,775.5 2134.1,774.0 2134.4,772.3 2134.7,770.3 2135.0,768.0 2135.1,767.2 2135.2,766.3 2135.3,765.3 2135.4,764.3 2135.5,763.2 2135.6,762.0 2135.7,760.9 2135.8,759.6 2135.9,758.4 2136.0,757.1 2136.1,755.8 2136.2,754.4 2136.4,753.0 2136.5,751.7 2136.6,750.3 2136.7,748.9 2136.8,747.5 2136.9,746.0 2137.0,744.6 2137.1,743.3 2137.2,741.9 2137.4,740.5 2137.5,739.2 2137.6,737.9 2137.7,736.6 2137.8,735.4 2138.0,734.1 2138.1,733.0 2138.2,731.9 2138.3,730.8 2138.4,729.8 2138.6,728.9 2138.7,728.0 2139.0,725.9 2139.4,723.9 2139.7,722.0 2140.1,720.3 2140.4,718.7 2140.8,717.2 2141.2,715.9 2141.6,714.8 2141.9,713.9 2142.3,713.2 2142.7,712.7 2143.1,712.5 2143.5,712.5 2143.8,712.7 2144.1,713.2 2144.5,713.9 2144.8,714.8 2145.1,715.9 2145.4,717.1 2145.8,718.4 2146.1,719.8 2146.5,721.3 2146.8,722.8 2147.1,724.4 2147.5,726.0 2147.9,727.6 2148.2,729.1 2148.6,730.6 2149.0,732.0 2149.3,733.1 2149.6,734.2 2150.0,735.4 2150.3,736.5 2150.6,737.7 2151.0,738.9 2151.3,740.1 2151.6,741.3 2152.0,742.5 2152.3,743.7 2152.7,744.9 2153.1,746.2 2153.4,747.4 2153.8,748.7 2154.1,749.9 2154.5,751.1 2154.9,752.4 2155.3,753.6 2155.6,754.8 2156.0,756.0 2156.4,757.1 2156.7,758.3 2157.1,759.4 2157.5,760.5 2157.9,761.5 2158.3,762.6 2158.7,763.7 2159.2,764.8 2159.6,765.9 2160.0,767.0 2160.4,768.0 2160.8,769.2 2161.2,770.3 2161.6,771.4 2162.0,772.6 2162.4,773.7 2162.7,774.9 2163.1,776.2 2163.4,777.4 2163.7,778.7 2164.0,780.0 2164.2,781.1 2164.4,782.2 2164.6,783.3 2164.8,784.4 2165.0,785.5 2165.2,786.6 2165.4,787.8 2165.5,788.9 2165.7,790.1 2165.8,791.2 2165.9,792.4 2166.1,793.6 2166.2,794.8 2166.3,796.1 2166.5,797.3 2166.6,798.5 2166.7,799.8 2166.9,801.1 2167.0,802.4 2167.1,803.7 2167.3,805.1 2167.4,806.4 2167.5,807.8 2167.7,809.2 2167.8,810.6 2168.0,812.0 2168.1,813.1 2168.2,814.2 2168.4,815.3 2168.5,816.4 2168.6,817.5 2168.7,818.7 2168.9,819.9 2169.0,821.0 2169.1,822.2 2169.3,823.4 2169.4,824.6 2169.5,825.9 2169.6,827.1 2169.8,828.3 2169.9,829.6 2170.0,830.8 2170.2,832.1 2170.3,833.3 2170.4,834.6 2170.6,835.9 2170.7,837.1 2170.8,838.4 2171.0,839.7 2171.1,840.9 2171.2,842.2 2171.3,843.5 2171.5,844.8 2171.6,846.0 2171.7,847.3 2171.9,848.5 2172.0,849.8 2172.1,851.0 2172.2,852.3 2172.4,853.5 2172.5,854.7 2172.6,855.9 2172.8,857.1 2172.9,858.4 2173.0,859.6 2173.1,860.8 2173.3,862.0 2173.4,863.3 2173.5,864.5 2173.6,865.7 2173.7,867.0 2173.9,868.2 2174.0,869.5 2174.1,870.7 2174.2,871.9 2174.4,873.2 2174.5,874.4 2174.6,875.6 2174.7,876.8 2174.9,878.1 2175.0,879.3 2175.1,880.5 2175.2,881.7 2175.3,882.9 2175.5,884.1 2175.6,885.3 2175.7,886.5 2175.8,887.7 2175.9,888.9 2176.1,890.1 2176.2,891.3 2176.3,892.4 2176.4,893.6 2176.6,894.7 2176.7,895.9 2176.8,897.0 2176.9,898.3 2177.1,899.6 2177.2,901.0 2177.4,902.3 2177.5,903.6 2177.6,904.9 2177.8,906.2 2177.9,907.5 2178.1,908.8 2178.2,910.1 2178.4,911.4 2178.5,912.7 2178.6,914.0 2178.8,915.2 2178.9,916.5 2179.1,917.7 2179.2,919.0 2179.3,920.2 2179.5,921.4 2179.6,922.6 2179.8,923.8 2179.9,924.9 2180.0,926.1 2180.2,927.2 2180.3,928.3 2180.5,929.4 2180.6,930.5 2180.7,931.6 2180.9,932.6 2181.0,933.6 2181.2,935.2 2181.4,936.7 2181.6,938.2 2181.8,939.6 2182.0,941.0 2182.2,942.4 2182.4,943.7 2182.6,945.0 2182.7,946.3 2182.9,947.5 2183.1,948.7 2183.3,949.9 2183.5,951.0 2183.8,952.1 2184.0,953.1 2184.2,954.2 2184.5,955.1 2184.7,956.1 2185.0,957.0 2185.6,958.7 2186.2,960.3 2186.9,961.8 2187.6,963.1 2188.3,964.4 2189.0,965.4 2189.7,966.3 2190.4,967.0 2191.1,967.5 2191.7,967.7 2192.4,967.6 2193.2,967.2 2193.8,966.4 2194.5,965.3 2195.2,964.0 2195.8,962.5 2196.4,960.8 2197.0,959.0 2197.3,958.1 2197.5,957.0 2197.8,955.9 2198.0,954.7 2198.3,953.4 2198.5,952.0 2198.7,950.6 2198.9,949.2 2199.2,947.8 2199.4,946.4 2199.6,945.0 2199.8,943.7 2200.0,942.4 2200.3,941.1 2200.5,940.0 2200.8,938.9 2201.0,938.0 2201.5,936.2 2202.1,934.5 2202.7,933.0 2203.3,931.6 2203.9,930.5 2204.4,929.7 2205.0,929.2 2205.6,929.0 2206.2,929.2 2206.7,929.9 2207.3,930.9 2207.8,932.1 2208.4,933.6 2208.9,935.1 2209.5,936.6 2210.0,938.0 2210.4,939.1 2210.8,940.2 2211.1,941.5 2211.5,942.8 2211.9,944.2 2212.3,945.5 2212.6,946.8 2213.0,948.0 2213.3,949.1 2213.7,950.0 2214.0,950.7 2215.5,952.9 2217.0,951.7 2217.3,951.1 2217.7,950.2 2218.0,949.2 2218.4,948.1 2218.8,946.9 2219.2,945.6 2219.6,944.3 2220.0,942.9 2220.4,941.6 2220.8,940.3 2221.2,939.1 2221.6,938.0 2222.1,936.6 2222.6,935.1 2223.1,933.6 2223.5,932.1 2224.0,930.7 2224.5,929.4 2225.0,928.4 2225.5,927.5 2226.0,927.0 2227.0,926.7 2228.0,927.0 2229.0,927.9 2230.0,929.4 2231.0,931.5 2231.3,932.3 2231.6,933.2 2231.9,934.1 2232.2,935.1 2232.5,936.2 2232.8,937.4 2233.1,938.6 2233.4,939.8 2233.6,941.1 2233.9,942.4 2234.2,943.8 2234.5,945.1 2234.7,946.5 2235.0,947.9 2235.3,949.3 2235.5,950.7 2235.7,951.8 2235.9,952.9 2236.0,954.0 2236.2,955.1 2236.3,956.2 2236.5,957.4 2236.6,958.6 2236.8,959.8 2236.9,961.0 2237.0,962.2 2237.2,963.4 2237.3,964.6 2237.5,965.9 2237.6,967.1 2237.7,968.4 2237.9,969.7 2238.0,970.9 2238.2,972.2 2238.4,973.5 2238.5,974.7 2238.7,976.0 2238.9,977.2 2239.0,978.4 2239.2,979.6 2239.4,980.9 2239.6,982.2 2239.8,983.5 2239.9,984.8 2240.1,986.1 2240.3,987.5 2240.5,988.8 2240.7,990.1 2240.9,991.4 2241.1,992.7 2241.3,994.0 2241.5,995.3 2241.7,996.5 2241.9,997.7 2242.1,998.9 2242.3,1000.0 2242.4,1001.1 2242.6,1002.1 2242.8,1003.1 2243.0,1004.0 2243.4,1005.8 2243.7,1007.3 2244.1,1008.8 2244.5,1010.1 2244.8,1011.2 2245.2,1012.3 2245.5,1013.3 2245.9,1014.2 2246.2,1015.1 2246.6,1015.9 2247.0,1016.8 2247.7,1018.3 2248.4,1019.7 2249.1,1020.8 2249.8,1021.8 2250.6,1022.5 2251.5,1023.0 2252.7,1023.0 2254.1,1022.4 2255.5,1021.6 2256.8,1021.0 2258.0,1021.0 2258.8,1021.5 2259.5,1022.2 2260.1,1023.2 2260.7,1024.4 2261.3,1025.9 2262.0,1027.5 2262.4,1028.4 2262.7,1029.5 2263.1,1030.6 2263.4,1031.8 2263.8,1033.1 2264.2,1034.3 2264.6,1035.7 2264.9,1037.0 2265.3,1038.3 2265.7,1039.6 2266.0,1040.8 2266.4,1042.0 2266.8,1043.3 2267.2,1044.6 2267.6,1045.9 2268.0,1047.2 2268.4,1048.6 2268.8,1049.8 2269.1,1051.0 2269.5,1052.2 2269.9,1053.2 2270.3,1054.2 2270.7,1055.0 2271.8,1056.8 2272.9,1058.0 2273.9,1058.5 2275.0,1058.4 2275.6,1057.9 2276.2,1057.2 2276.7,1056.2 2277.3,1055.0 2277.8,1053.7 2278.4,1052.3 2279.0,1051.0 2279.5,1049.9 2280.0,1048.5 2280.4,1047.1 2280.9,1045.6 2281.4,1044.1 2281.9,1042.7 2282.4,1041.5 2283.0,1040.6 2283.5,1040.0 2284.5,1039.7 2285.6,1040.2 2286.7,1041.1 2287.8,1042.3 2288.8,1043.5 2289.5,1044.5 2290.1,1045.8 2290.7,1047.3 2291.3,1048.7 2291.8,1049.9 2292.4,1050.8 2293.0,1051.0 2293.5,1050.6 2294.0,1049.8 2294.5,1048.7 2295.0,1047.3 2295.5,1045.9 2296.0,1044.4 2296.5,1043.1 2297.0,1042.0 2297.7,1040.7 2298.5,1039.3 2299.2,1038.1 2300.0,1037.0 2300.8,1036.3 2301.6,1036.0 2302.5,1036.1 2303.4,1036.6 2304.3,1037.4 2305.3,1038.5 2306.2,1040.1 2307.0,1042.0 2307.3,1042.9 2307.6,1043.8 2307.8,1044.9 2308.1,1046.1 2308.3,1047.3 2308.6,1048.6 2308.8,1049.9 2309.1,1051.2 2309.3,1052.6 2309.5,1054.0 2309.8,1055.4 2310.0,1056.7 2310.2,1058.0 2310.5,1059.3 2310.7,1060.5 2311.0,1061.6 2311.4,1063.0 2311.7,1064.4 2312.1,1065.7 2312.4,1066.9 2312.8,1068.2 2313.2,1069.4 2313.5,1070.6 2313.9,1071.7 2314.3,1072.9 2314.7,1074.1 2315.1,1075.3 2315.5,1076.5 2315.9,1077.7 2316.3,1078.9 2316.8,1080.1 2317.2,1081.3 2317.7,1082.4 2318.1,1083.6 2318.6,1084.8 2319.0,1086.0 2319.5,1087.2 2319.9,1088.4 2320.4,1089.7 2320.8,1091.0 2321.2,1092.1 2321.5,1093.3 2321.9,1094.5 2322.3,1095.7 2322.7,1097.0 2323.0,1098.2 2323.4,1099.5 2323.8,1100.7 2324.1,1102.0 2324.5,1103.2 2324.9,1104.5 2325.2,1105.7 2325.6,1106.9 2326.0,1108.0 2326.4,1109.3 2326.8,1110.6 2327.3,1111.9 2327.7,1113.3 2328.1,1114.6 2328.6,1115.9 2329.0,1117.2 2329.4,1118.4 2329.9,1119.5 2330.3,1120.5 2330.7,1121.4 2331.1,1122.1 2331.5,1122.7 2332.7,1123.4 2333.8,1122.8 2334.9,1121.5 2336.0,1120.0 2336.6,1119.2 2337.2,1118.3 2337.7,1117.4 2338.3,1116.3 2338.9,1115.0 2339.4,1113.6 2340.0,1112.0 2340.3,1111.1 2340.6,1110.1 2340.9,1109.0 2341.2,1107.9 2341.5,1106.8 2341.8,1105.6 2342.1,1104.4 2342.4,1103.1 2342.7,1101.8 2343.0,1100.4 2343.4,1099.0 2343.7,1097.5 2344.0,1096.0 2344.2,1095.0 2344.4,1093.9 2344.6,1092.8 2344.9,1091.6 2345.1,1090.5 2345.3,1089.3 2345.5,1088.1 2345.8,1086.8 2346.0,1085.6 2346.2,1084.3 2346.4,1083.0 2346.7,1081.7 2346.9,1080.4 2347.1,1079.1 2347.4,1077.8 2347.6,1076.5 2347.8,1075.3 2348.0,1074.0 2348.3,1072.7 2348.5,1071.5"/>
<g stroke="#000" fill="none">
<path d="M348.10 158.50V1333.60M2384.65 158.50V1333.60" stroke-width="3.2" stroke-linecap="square"/>
<path d="M348.10 158.50H2384.65M348.10 1333.60H2384.65" stroke-width="2.75" stroke-linecap="square"/>
<path d="M420.81 158.50v10.75M420.81 1333.60v-10.75M493.55 158.50v22.55M493.55 1333.60v-22.55M566.29 158.50v10.75M566.29 1333.60v-10.75M639.03 158.50v10.75M639.03 1333.60v-10.75M711.77 158.50v10.75M711.77 1333.60v-10.75M784.51 158.50v10.75M784.51 1333.60v-10.75M857.25 158.50v22.55M857.25 1333.60v-22.55M929.99 158.50v10.75M929.99 1333.60v-10.75M1002.73 158.50v10.75M1002.73 1333.60v-10.75M1075.47 158.50v10.75M1075.47 1333.60v-10.75M1148.21 158.50v10.75M1148.21 1333.60v-10.75M1220.95 158.50v22.55M1220.95 1333.60v-22.55M1293.69 158.50v10.75M1293.69 1333.60v-10.75M1366.43 158.50v10.75M1366.43 1333.60v-10.75M1439.17 158.50v10.75M1439.17 1333.60v-10.75M1511.91 158.50v10.75M1511.91 1333.60v-10.75M1584.65 158.50v22.55M1584.65 1333.60v-22.55M1657.39 158.50v10.75M1657.39 1333.60v-10.75M1730.13 158.50v10.75M1730.13 1333.60v-10.75M1802.87 158.50v10.75M1802.87 1333.60v-10.75M1875.61 158.50v10.75M1875.61 1333.60v-10.75M1948.35 158.50v22.55M1948.35 1333.60v-22.55M2021.09 158.50v10.75M2021.09 1333.60v-10.75M2093.83 158.50v10.75M2093.83 1333.60v-10.75M2166.57 158.50v10.75M2166.57 1333.60v-10.75M2239.31 158.50v10.75M2239.31 1333.60v-10.75M2312.05 158.50v22.55M2312.05 1333.60v-22.55" stroke-width="2.9" stroke-linecap="round"/>
<path d="M348.10 194.40h19.30M2384.65 194.40h-19.30M348.10 230.40h19.30M2384.65 230.40h-19.30M348.10 266.40h19.30M2384.65 266.40h-19.30M348.10 302.40h19.30M2384.65 302.40h-19.30M348.10 338.40h39.70M2384.65 338.40h-39.70M348.10 374.40h19.30M2384.65 374.40h-19.30M348.10 410.40h19.30M2384.65 410.40h-19.30M348.10 446.40h19.30M2384.65 446.40h-19.30M348.10 482.40h19.30M2384.65 482.40h-19.30M348.10 518.40h39.70M2384.65 518.40h-39.70M348.10 554.40h19.30M2384.65 554.40h-19.30M348.10 590.40h19.30M2384.65 590.40h-19.30M348.10 626.40h19.30M2384.65 626.40h-19.30M348.10 662.40h19.30M2384.65 662.40h-19.30M348.10 698.40h39.70M2384.65 698.40h-39.70M348.10 734.40h19.30M2384.65 734.40h-19.30M348.10 770.40h19.30M2384.65 770.40h-19.30M348.10 806.40h19.30M2384.65 806.40h-19.30M348.10 842.40h19.30M2384.65 842.40h-19.30M348.10 878.40h39.70M2384.65 878.40h-39.70M348.10 914.40h19.30M2384.65 914.40h-19.30M348.10 950.40h19.30M2384.65 950.40h-19.30M348.10 986.40h19.30M2384.65 986.40h-19.30M348.10 1022.40h19.30M2384.65 1022.40h-19.30M348.10 1058.40h39.70M2384.65 1058.40h-39.70M348.10 1094.40h19.30M2384.65 1094.40h-19.30M348.10 1130.40h19.30M2384.65 1130.40h-19.30M348.10 1166.40h19.30M2384.65 1166.40h-19.30M348.10 1202.40h19.30M2384.65 1202.40h-19.30M348.10 1238.40h39.70M2384.65 1238.40h-39.70M348.10 1274.40h19.30M2384.65 1274.40h-19.30M348.10 1310.40h19.30M2384.65 1310.40h-19.30" stroke-width="2.65" stroke-linecap="round"/>
</g>
<text transform="translate(724.3 114.9) scale(0.972 1)" font-size="68.6" fill="#000">Solar activity from GOME &amp; SCIAMACHY</text>
<text class="tk" x="320.6" y="365.8" text-anchor="end">0.155</text>
<text class="tk" x="320.6" y="545.8" text-anchor="end">0.150</text>
<text class="tk" x="320.6" y="725.8" text-anchor="end">0.145</text>
<text class="tk" x="320.6" y="905.8" text-anchor="end">0.140</text>
<text class="tk" x="320.6" y="1085.8" text-anchor="end">0.135</text>
<text class="tk" x="320.6" y="1265.8" text-anchor="end">0.130</text>
<text class="tk" x="496.9" y="1437" text-anchor="middle">1980</text>
<text class="tk" x="853.9" y="1437" text-anchor="middle">1985</text>
<text class="tk" x="1227.0" y="1437" text-anchor="middle">1990</text>
<text class="tk" x="1583.5" y="1437" text-anchor="middle">1995</text>
<text class="tk" x="1955.8" y="1437" text-anchor="middle">2000</text>
<text class="tk" x="2312.8" y="1437" text-anchor="middle">2005</text>
<text font-size="66.6" fill="#000" text-anchor="middle" transform="translate(109 742) rotate(-90)">Composite Mg II Index</text>
<text class="lb" x="563.5" y="264.3" fill="#000">SBUV series</text>
<text class="lb" x="1400.8" y="265.9" fill="#55B9A0">SUSIM</text>
<text class="lb" transform="translate(1729 263) scale(0.987 1)" fill="#97BF00">GOME</text>
<text class="lb" transform="translate(2010 263) scale(0.987 1)" fill="#2E75BD">SCIAMACHY</text>
<text class="cy" x="431" y="1236">21</text>
<text class="cy" x="1153" y="1236">22</text>
<text class="cy" x="1913" y="1236">23</text>
</svg>
</body></html>
